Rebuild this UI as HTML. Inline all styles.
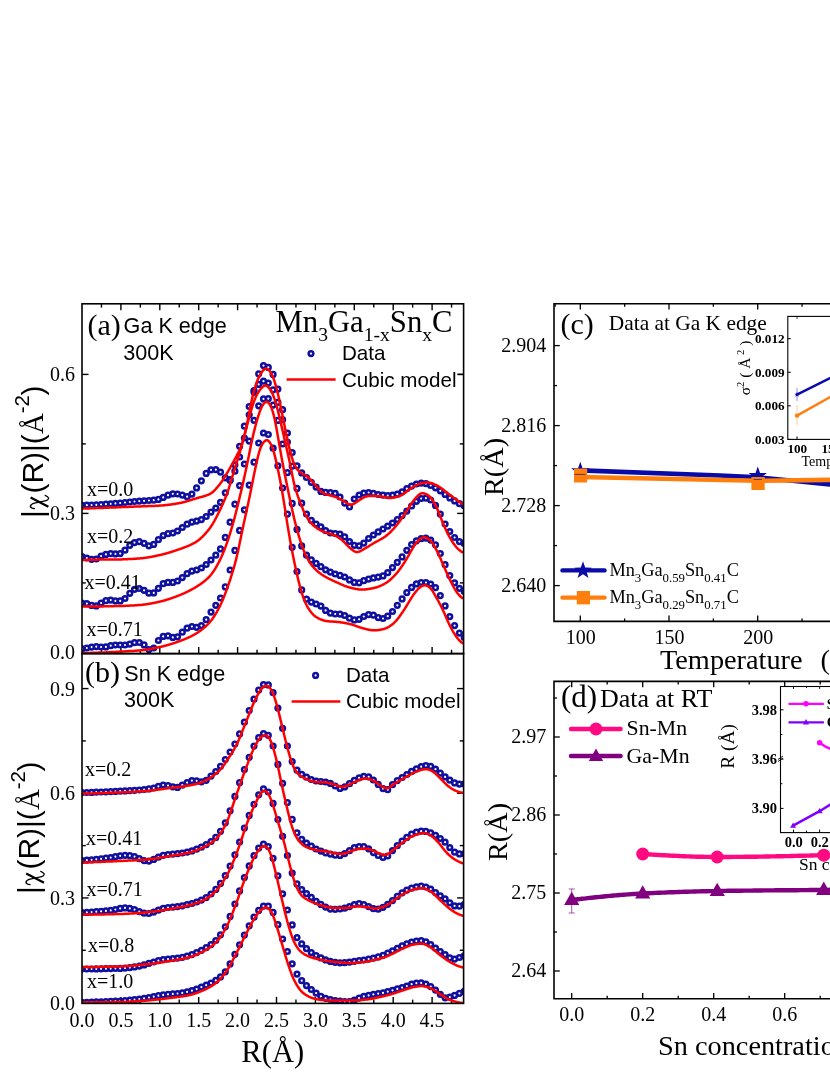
<!DOCTYPE html>
<html><head><meta charset="utf-8"><title>figure</title>
<style>html,body{margin:0;padding:0;background:#fff;}svg{display:block;will-change:transform;}text{fill:#000;}</style>
</head><body>
<svg width="830" height="1075" viewBox="0 0 830 1075">
<rect width="830" height="1075" fill="#fff"/>
<line x1="101.45" y1="303.80" x2="101.45" y2="307.60" stroke="#000" stroke-width="1.4" />
<line x1="101.45" y1="653.60" x2="101.45" y2="649.80" stroke="#000" stroke-width="1.4" />
<line x1="101.45" y1="1003.40" x2="101.45" y2="999.60" stroke="#000" stroke-width="1.4" />
<line x1="120.90" y1="303.80" x2="120.90" y2="310.30" stroke="#000" stroke-width="1.4" />
<line x1="120.90" y1="653.60" x2="120.90" y2="647.10" stroke="#000" stroke-width="1.4" />
<line x1="120.90" y1="1003.40" x2="120.90" y2="996.90" stroke="#000" stroke-width="1.4" />
<line x1="140.35" y1="303.80" x2="140.35" y2="307.60" stroke="#000" stroke-width="1.4" />
<line x1="140.35" y1="653.60" x2="140.35" y2="649.80" stroke="#000" stroke-width="1.4" />
<line x1="140.35" y1="1003.40" x2="140.35" y2="999.60" stroke="#000" stroke-width="1.4" />
<line x1="159.80" y1="303.80" x2="159.80" y2="310.30" stroke="#000" stroke-width="1.4" />
<line x1="159.80" y1="653.60" x2="159.80" y2="647.10" stroke="#000" stroke-width="1.4" />
<line x1="159.80" y1="1003.40" x2="159.80" y2="996.90" stroke="#000" stroke-width="1.4" />
<line x1="179.25" y1="303.80" x2="179.25" y2="307.60" stroke="#000" stroke-width="1.4" />
<line x1="179.25" y1="653.60" x2="179.25" y2="649.80" stroke="#000" stroke-width="1.4" />
<line x1="179.25" y1="1003.40" x2="179.25" y2="999.60" stroke="#000" stroke-width="1.4" />
<line x1="198.70" y1="303.80" x2="198.70" y2="310.30" stroke="#000" stroke-width="1.4" />
<line x1="198.70" y1="653.60" x2="198.70" y2="647.10" stroke="#000" stroke-width="1.4" />
<line x1="198.70" y1="1003.40" x2="198.70" y2="996.90" stroke="#000" stroke-width="1.4" />
<line x1="218.15" y1="303.80" x2="218.15" y2="307.60" stroke="#000" stroke-width="1.4" />
<line x1="218.15" y1="653.60" x2="218.15" y2="649.80" stroke="#000" stroke-width="1.4" />
<line x1="218.15" y1="1003.40" x2="218.15" y2="999.60" stroke="#000" stroke-width="1.4" />
<line x1="237.60" y1="303.80" x2="237.60" y2="310.30" stroke="#000" stroke-width="1.4" />
<line x1="237.60" y1="653.60" x2="237.60" y2="647.10" stroke="#000" stroke-width="1.4" />
<line x1="237.60" y1="1003.40" x2="237.60" y2="996.90" stroke="#000" stroke-width="1.4" />
<line x1="257.05" y1="303.80" x2="257.05" y2="307.60" stroke="#000" stroke-width="1.4" />
<line x1="257.05" y1="653.60" x2="257.05" y2="649.80" stroke="#000" stroke-width="1.4" />
<line x1="257.05" y1="1003.40" x2="257.05" y2="999.60" stroke="#000" stroke-width="1.4" />
<line x1="276.50" y1="303.80" x2="276.50" y2="310.30" stroke="#000" stroke-width="1.4" />
<line x1="276.50" y1="653.60" x2="276.50" y2="647.10" stroke="#000" stroke-width="1.4" />
<line x1="276.50" y1="1003.40" x2="276.50" y2="996.90" stroke="#000" stroke-width="1.4" />
<line x1="295.95" y1="303.80" x2="295.95" y2="307.60" stroke="#000" stroke-width="1.4" />
<line x1="295.95" y1="653.60" x2="295.95" y2="649.80" stroke="#000" stroke-width="1.4" />
<line x1="295.95" y1="1003.40" x2="295.95" y2="999.60" stroke="#000" stroke-width="1.4" />
<line x1="315.40" y1="303.80" x2="315.40" y2="310.30" stroke="#000" stroke-width="1.4" />
<line x1="315.40" y1="653.60" x2="315.40" y2="647.10" stroke="#000" stroke-width="1.4" />
<line x1="315.40" y1="1003.40" x2="315.40" y2="996.90" stroke="#000" stroke-width="1.4" />
<line x1="334.85" y1="303.80" x2="334.85" y2="307.60" stroke="#000" stroke-width="1.4" />
<line x1="334.85" y1="653.60" x2="334.85" y2="649.80" stroke="#000" stroke-width="1.4" />
<line x1="334.85" y1="1003.40" x2="334.85" y2="999.60" stroke="#000" stroke-width="1.4" />
<line x1="354.30" y1="303.80" x2="354.30" y2="310.30" stroke="#000" stroke-width="1.4" />
<line x1="354.30" y1="653.60" x2="354.30" y2="647.10" stroke="#000" stroke-width="1.4" />
<line x1="354.30" y1="1003.40" x2="354.30" y2="996.90" stroke="#000" stroke-width="1.4" />
<line x1="373.75" y1="303.80" x2="373.75" y2="307.60" stroke="#000" stroke-width="1.4" />
<line x1="373.75" y1="653.60" x2="373.75" y2="649.80" stroke="#000" stroke-width="1.4" />
<line x1="373.75" y1="1003.40" x2="373.75" y2="999.60" stroke="#000" stroke-width="1.4" />
<line x1="393.20" y1="303.80" x2="393.20" y2="310.30" stroke="#000" stroke-width="1.4" />
<line x1="393.20" y1="653.60" x2="393.20" y2="647.10" stroke="#000" stroke-width="1.4" />
<line x1="393.20" y1="1003.40" x2="393.20" y2="996.90" stroke="#000" stroke-width="1.4" />
<line x1="412.65" y1="303.80" x2="412.65" y2="307.60" stroke="#000" stroke-width="1.4" />
<line x1="412.65" y1="653.60" x2="412.65" y2="649.80" stroke="#000" stroke-width="1.4" />
<line x1="412.65" y1="1003.40" x2="412.65" y2="999.60" stroke="#000" stroke-width="1.4" />
<line x1="432.10" y1="303.80" x2="432.10" y2="310.30" stroke="#000" stroke-width="1.4" />
<line x1="432.10" y1="653.60" x2="432.10" y2="647.10" stroke="#000" stroke-width="1.4" />
<line x1="432.10" y1="1003.40" x2="432.10" y2="996.90" stroke="#000" stroke-width="1.4" />
<line x1="451.55" y1="303.80" x2="451.55" y2="307.60" stroke="#000" stroke-width="1.4" />
<line x1="451.55" y1="653.60" x2="451.55" y2="649.80" stroke="#000" stroke-width="1.4" />
<line x1="451.55" y1="1003.40" x2="451.55" y2="999.60" stroke="#000" stroke-width="1.4" />
<line x1="82.00" y1="582.90" x2="85.80" y2="582.90" stroke="#000" stroke-width="1.4" />
<line x1="463.60" y1="582.90" x2="459.80" y2="582.90" stroke="#000" stroke-width="1.4" />
<line x1="82.00" y1="513.41" x2="88.50" y2="513.41" stroke="#000" stroke-width="1.4" />
<line x1="463.60" y1="513.41" x2="457.10" y2="513.41" stroke="#000" stroke-width="1.4" />
<line x1="82.00" y1="443.91" x2="85.80" y2="443.91" stroke="#000" stroke-width="1.4" />
<line x1="463.60" y1="443.91" x2="459.80" y2="443.91" stroke="#000" stroke-width="1.4" />
<line x1="82.00" y1="374.42" x2="88.50" y2="374.42" stroke="#000" stroke-width="1.4" />
<line x1="463.60" y1="374.42" x2="457.10" y2="374.42" stroke="#000" stroke-width="1.4" />
<line x1="82.00" y1="950.26" x2="85.80" y2="950.26" stroke="#000" stroke-width="1.4" />
<line x1="463.60" y1="950.26" x2="459.80" y2="950.26" stroke="#000" stroke-width="1.4" />
<line x1="82.00" y1="897.93" x2="88.50" y2="897.93" stroke="#000" stroke-width="1.4" />
<line x1="463.60" y1="897.93" x2="457.10" y2="897.93" stroke="#000" stroke-width="1.4" />
<line x1="82.00" y1="845.60" x2="85.80" y2="845.60" stroke="#000" stroke-width="1.4" />
<line x1="463.60" y1="845.60" x2="459.80" y2="845.60" stroke="#000" stroke-width="1.4" />
<line x1="82.00" y1="793.26" x2="88.50" y2="793.26" stroke="#000" stroke-width="1.4" />
<line x1="463.60" y1="793.26" x2="457.10" y2="793.26" stroke="#000" stroke-width="1.4" />
<line x1="82.00" y1="740.93" x2="85.80" y2="740.93" stroke="#000" stroke-width="1.4" />
<line x1="463.60" y1="740.93" x2="459.80" y2="740.93" stroke="#000" stroke-width="1.4" />
<line x1="82.00" y1="688.59" x2="88.50" y2="688.59" stroke="#000" stroke-width="1.4" />
<line x1="463.60" y1="688.59" x2="457.10" y2="688.59" stroke="#000" stroke-width="1.4" />
<clipPath id="ca"><rect x="82.0" y="303.8" width="381.6" height="349.8"/></clipPath>
<g clip-path="url(#ca)">
<g fill="none" stroke="#1010a0" stroke-width="2.5"><circle cx="82.0" cy="505.4" r="2.35"/><circle cx="86.8" cy="505.2" r="2.35"/><circle cx="91.6" cy="505.0" r="2.35"/><circle cx="96.3" cy="504.8" r="2.35"/><circle cx="101.1" cy="504.5" r="2.35"/><circle cx="105.9" cy="504.2" r="2.35"/><circle cx="110.7" cy="503.8" r="2.35"/><circle cx="115.4" cy="503.4" r="2.35"/><circle cx="120.2" cy="503.0" r="2.35"/><circle cx="125.0" cy="502.5" r="2.35"/><circle cx="129.8" cy="502.0" r="2.35"/><circle cx="134.5" cy="501.5" r="2.35"/><circle cx="139.3" cy="501.1" r="2.35"/><circle cx="144.1" cy="500.8" r="2.35"/><circle cx="148.9" cy="500.5" r="2.35"/><circle cx="153.7" cy="500.2" r="2.35"/><circle cx="158.4" cy="499.4" r="2.35"/><circle cx="163.2" cy="497.4" r="2.35"/><circle cx="168.0" cy="495.2" r="2.35"/><circle cx="172.8" cy="493.8" r="2.35"/><circle cx="177.5" cy="494.0" r="2.35"/><circle cx="182.3" cy="495.1" r="2.35"/><circle cx="187.1" cy="496.7" r="2.35"/><circle cx="191.9" cy="494.1" r="2.35"/><circle cx="196.6" cy="487.9" r="2.35"/><circle cx="201.4" cy="480.8" r="2.35"/><circle cx="206.2" cy="473.4" r="2.35"/><circle cx="211.0" cy="469.8" r="2.35"/><circle cx="215.8" cy="469.7" r="2.35"/><circle cx="220.5" cy="472.1" r="2.35"/><circle cx="225.3" cy="477.8" r="2.35"/><circle cx="230.1" cy="479.7" r="2.35"/><circle cx="234.9" cy="471.2" r="2.35"/><circle cx="239.6" cy="457.0" r="2.35"/><circle cx="244.4" cy="438.0" r="2.35"/><circle cx="249.2" cy="414.8" r="2.35"/><circle cx="254.0" cy="390.5" r="2.35"/><circle cx="258.7" cy="373.8" r="2.35"/><circle cx="263.5" cy="365.6" r="2.35"/><circle cx="268.3" cy="367.4" r="2.35"/><circle cx="273.1" cy="374.4" r="2.35"/><circle cx="277.9" cy="389.1" r="2.35"/><circle cx="282.6" cy="409.7" r="2.35"/><circle cx="287.4" cy="433.0" r="2.35"/><circle cx="292.2" cy="452.5" r="2.35"/><circle cx="297.0" cy="465.8" r="2.35"/><circle cx="301.7" cy="472.9" r="2.35"/><circle cx="306.5" cy="477.5" r="2.35"/><circle cx="311.3" cy="482.3" r="2.35"/><circle cx="316.1" cy="487.1" r="2.35"/><circle cx="320.9" cy="491.4" r="2.35"/><circle cx="325.6" cy="492.4" r="2.35"/><circle cx="330.4" cy="492.6" r="2.35"/><circle cx="335.2" cy="493.4" r="2.35"/><circle cx="340.0" cy="497.0" r="2.35"/><circle cx="344.7" cy="503.1" r="2.35"/><circle cx="349.5" cy="506.9" r="2.35"/><circle cx="354.3" cy="499.0" r="2.35"/><circle cx="359.1" cy="495.0" r="2.35"/><circle cx="363.8" cy="493.1" r="2.35"/><circle cx="368.6" cy="492.5" r="2.35"/><circle cx="373.4" cy="493.4" r="2.35"/><circle cx="378.2" cy="494.5" r="2.35"/><circle cx="383.0" cy="495.2" r="2.35"/><circle cx="387.7" cy="495.6" r="2.35"/><circle cx="392.5" cy="495.2" r="2.35"/><circle cx="397.3" cy="494.2" r="2.35"/><circle cx="402.1" cy="491.8" r="2.35"/><circle cx="406.8" cy="488.7" r="2.35"/><circle cx="411.6" cy="486.1" r="2.35"/><circle cx="416.4" cy="484.0" r="2.35"/><circle cx="421.2" cy="483.2" r="2.35"/><circle cx="425.9" cy="483.6" r="2.35"/><circle cx="430.7" cy="485.5" r="2.35"/><circle cx="435.5" cy="487.8" r="2.35"/><circle cx="440.3" cy="490.8" r="2.35"/><circle cx="445.1" cy="494.4" r="2.35"/><circle cx="449.8" cy="497.9" r="2.35"/><circle cx="454.6" cy="500.9" r="2.35"/><circle cx="459.4" cy="503.7" r="2.35"/><circle cx="464.2" cy="505.7" r="2.35"/><circle cx="82.0" cy="556.7" r="2.35"/><circle cx="86.8" cy="558.0" r="2.35"/><circle cx="91.6" cy="559.3" r="2.35"/><circle cx="96.3" cy="559.0" r="2.35"/><circle cx="101.1" cy="556.1" r="2.35"/><circle cx="105.9" cy="554.4" r="2.35"/><circle cx="110.7" cy="553.7" r="2.35"/><circle cx="115.4" cy="553.9" r="2.35"/><circle cx="120.2" cy="553.6" r="2.35"/><circle cx="125.0" cy="550.2" r="2.35"/><circle cx="129.8" cy="545.3" r="2.35"/><circle cx="134.5" cy="542.6" r="2.35"/><circle cx="139.3" cy="541.7" r="2.35"/><circle cx="144.1" cy="543.3" r="2.35"/><circle cx="148.9" cy="545.8" r="2.35"/><circle cx="153.7" cy="544.4" r="2.35"/><circle cx="158.4" cy="539.7" r="2.35"/><circle cx="163.2" cy="535.6" r="2.35"/><circle cx="168.0" cy="533.7" r="2.35"/><circle cx="172.8" cy="533.0" r="2.35"/><circle cx="177.5" cy="531.0" r="2.35"/><circle cx="182.3" cy="527.5" r="2.35"/><circle cx="187.1" cy="524.2" r="2.35"/><circle cx="191.9" cy="522.1" r="2.35"/><circle cx="196.6" cy="521.1" r="2.35"/><circle cx="201.4" cy="519.6" r="2.35"/><circle cx="206.2" cy="516.5" r="2.35"/><circle cx="211.0" cy="512.1" r="2.35"/><circle cx="215.8" cy="508.1" r="2.35"/><circle cx="220.5" cy="502.3" r="2.35"/><circle cx="225.3" cy="492.8" r="2.35"/><circle cx="230.1" cy="480.5" r="2.35"/><circle cx="234.9" cy="464.8" r="2.35"/><circle cx="239.6" cy="446.3" r="2.35"/><circle cx="244.4" cy="426.2" r="2.35"/><circle cx="249.2" cy="406.5" r="2.35"/><circle cx="254.0" cy="392.3" r="2.35"/><circle cx="258.7" cy="384.4" r="2.35"/><circle cx="263.5" cy="381.2" r="2.35"/><circle cx="268.3" cy="383.1" r="2.35"/><circle cx="273.1" cy="389.8" r="2.35"/><circle cx="277.9" cy="402.4" r="2.35"/><circle cx="282.6" cy="419.7" r="2.35"/><circle cx="287.4" cy="442.0" r="2.35"/><circle cx="292.2" cy="466.2" r="2.35"/><circle cx="297.0" cy="488.4" r="2.35"/><circle cx="301.7" cy="503.2" r="2.35"/><circle cx="306.5" cy="514.0" r="2.35"/><circle cx="311.3" cy="520.3" r="2.35"/><circle cx="316.1" cy="524.0" r="2.35"/><circle cx="320.9" cy="526.9" r="2.35"/><circle cx="325.6" cy="530.6" r="2.35"/><circle cx="330.4" cy="533.0" r="2.35"/><circle cx="335.2" cy="533.5" r="2.35"/><circle cx="340.0" cy="534.1" r="2.35"/><circle cx="344.7" cy="536.9" r="2.35"/><circle cx="349.5" cy="541.5" r="2.35"/><circle cx="354.3" cy="545.3" r="2.35"/><circle cx="359.1" cy="545.8" r="2.35"/><circle cx="363.8" cy="543.1" r="2.35"/><circle cx="368.6" cy="538.5" r="2.35"/><circle cx="373.4" cy="535.0" r="2.35"/><circle cx="378.2" cy="531.9" r="2.35"/><circle cx="383.0" cy="529.0" r="2.35"/><circle cx="387.7" cy="526.2" r="2.35"/><circle cx="392.5" cy="523.0" r="2.35"/><circle cx="397.3" cy="519.5" r="2.35"/><circle cx="402.1" cy="515.6" r="2.35"/><circle cx="406.8" cy="511.1" r="2.35"/><circle cx="411.6" cy="506.0" r="2.35"/><circle cx="416.4" cy="501.3" r="2.35"/><circle cx="421.2" cy="498.5" r="2.35"/><circle cx="425.9" cy="498.2" r="2.35"/><circle cx="430.7" cy="500.0" r="2.35"/><circle cx="435.5" cy="505.4" r="2.35"/><circle cx="440.3" cy="514.1" r="2.35"/><circle cx="445.1" cy="524.0" r="2.35"/><circle cx="449.8" cy="531.5" r="2.35"/><circle cx="454.6" cy="537.5" r="2.35"/><circle cx="459.4" cy="541.6" r="2.35"/><circle cx="464.2" cy="543.4" r="2.35"/><circle cx="82.0" cy="603.0" r="2.35"/><circle cx="86.8" cy="603.6" r="2.35"/><circle cx="91.6" cy="605.4" r="2.35"/><circle cx="96.3" cy="605.9" r="2.35"/><circle cx="101.1" cy="603.0" r="2.35"/><circle cx="105.9" cy="600.7" r="2.35"/><circle cx="110.7" cy="600.1" r="2.35"/><circle cx="115.4" cy="600.9" r="2.35"/><circle cx="120.2" cy="600.9" r="2.35"/><circle cx="125.0" cy="598.5" r="2.35"/><circle cx="129.8" cy="593.3" r="2.35"/><circle cx="134.5" cy="589.3" r="2.35"/><circle cx="139.3" cy="588.5" r="2.35"/><circle cx="144.1" cy="590.3" r="2.35"/><circle cx="148.9" cy="593.2" r="2.35"/><circle cx="153.7" cy="592.9" r="2.35"/><circle cx="158.4" cy="588.3" r="2.35"/><circle cx="163.2" cy="583.7" r="2.35"/><circle cx="168.0" cy="582.4" r="2.35"/><circle cx="172.8" cy="582.4" r="2.35"/><circle cx="177.5" cy="581.0" r="2.35"/><circle cx="182.3" cy="577.6" r="2.35"/><circle cx="187.1" cy="573.7" r="2.35"/><circle cx="191.9" cy="571.1" r="2.35"/><circle cx="196.6" cy="570.0" r="2.35"/><circle cx="201.4" cy="568.0" r="2.35"/><circle cx="206.2" cy="564.5" r="2.35"/><circle cx="211.0" cy="560.0" r="2.35"/><circle cx="215.8" cy="555.2" r="2.35"/><circle cx="220.5" cy="548.9" r="2.35"/><circle cx="225.3" cy="537.4" r="2.35"/><circle cx="230.1" cy="522.2" r="2.35"/><circle cx="234.9" cy="504.2" r="2.35"/><circle cx="239.6" cy="485.6" r="2.35"/><circle cx="244.4" cy="464.0" r="2.35"/><circle cx="249.2" cy="441.1" r="2.35"/><circle cx="254.0" cy="420.3" r="2.35"/><circle cx="258.7" cy="405.8" r="2.35"/><circle cx="263.5" cy="398.9" r="2.35"/><circle cx="268.3" cy="398.7" r="2.35"/><circle cx="273.1" cy="405.1" r="2.35"/><circle cx="277.9" cy="420.4" r="2.35"/><circle cx="282.6" cy="444.0" r="2.35"/><circle cx="287.4" cy="472.7" r="2.35"/><circle cx="292.2" cy="503.4" r="2.35"/><circle cx="297.0" cy="529.4" r="2.35"/><circle cx="301.7" cy="545.9" r="2.35"/><circle cx="306.5" cy="555.2" r="2.35"/><circle cx="311.3" cy="559.9" r="2.35"/><circle cx="316.1" cy="563.4" r="2.35"/><circle cx="320.9" cy="566.7" r="2.35"/><circle cx="325.6" cy="569.8" r="2.35"/><circle cx="330.4" cy="572.1" r="2.35"/><circle cx="335.2" cy="574.0" r="2.35"/><circle cx="340.0" cy="575.4" r="2.35"/><circle cx="344.7" cy="577.0" r="2.35"/><circle cx="349.5" cy="579.9" r="2.35"/><circle cx="354.3" cy="582.4" r="2.35"/><circle cx="359.1" cy="582.8" r="2.35"/><circle cx="363.8" cy="580.7" r="2.35"/><circle cx="368.6" cy="579.1" r="2.35"/><circle cx="373.4" cy="577.9" r="2.35"/><circle cx="378.2" cy="577.1" r="2.35"/><circle cx="383.0" cy="575.9" r="2.35"/><circle cx="387.7" cy="572.7" r="2.35"/><circle cx="392.5" cy="567.6" r="2.35"/><circle cx="397.3" cy="562.3" r="2.35"/><circle cx="402.1" cy="556.9" r="2.35"/><circle cx="406.8" cy="550.3" r="2.35"/><circle cx="411.6" cy="544.5" r="2.35"/><circle cx="416.4" cy="540.8" r="2.35"/><circle cx="421.2" cy="538.7" r="2.35"/><circle cx="425.9" cy="538.2" r="2.35"/><circle cx="430.7" cy="540.1" r="2.35"/><circle cx="435.5" cy="544.8" r="2.35"/><circle cx="440.3" cy="553.5" r="2.35"/><circle cx="445.1" cy="564.7" r="2.35"/><circle cx="449.8" cy="575.5" r="2.35"/><circle cx="454.6" cy="582.8" r="2.35"/><circle cx="459.4" cy="588.3" r="2.35"/><circle cx="464.2" cy="591.6" r="2.35"/><circle cx="82.0" cy="648.9" r="2.35"/><circle cx="86.8" cy="648.0" r="2.35"/><circle cx="91.6" cy="647.1" r="2.35"/><circle cx="96.3" cy="646.7" r="2.35"/><circle cx="101.1" cy="647.0" r="2.35"/><circle cx="105.9" cy="646.9" r="2.35"/><circle cx="110.7" cy="645.7" r="2.35"/><circle cx="115.4" cy="645.0" r="2.35"/><circle cx="120.2" cy="645.0" r="2.35"/><circle cx="125.0" cy="645.0" r="2.35"/><circle cx="129.8" cy="644.1" r="2.35"/><circle cx="134.5" cy="642.7" r="2.35"/><circle cx="139.3" cy="642.5" r="2.35"/><circle cx="144.1" cy="644.9" r="2.35"/><circle cx="148.9" cy="649.6" r="2.35"/><circle cx="153.7" cy="648.0" r="2.35"/><circle cx="158.4" cy="640.5" r="2.35"/><circle cx="163.2" cy="636.4" r="2.35"/><circle cx="168.0" cy="635.8" r="2.35"/><circle cx="172.8" cy="637.4" r="2.35"/><circle cx="177.5" cy="636.8" r="2.35"/><circle cx="182.3" cy="632.2" r="2.35"/><circle cx="187.1" cy="628.2" r="2.35"/><circle cx="191.9" cy="626.5" r="2.35"/><circle cx="196.6" cy="627.3" r="2.35"/><circle cx="201.4" cy="625.6" r="2.35"/><circle cx="206.2" cy="619.7" r="2.35"/><circle cx="211.0" cy="612.1" r="2.35"/><circle cx="215.8" cy="605.3" r="2.35"/><circle cx="220.5" cy="598.0" r="2.35"/><circle cx="225.3" cy="586.9" r="2.35"/><circle cx="230.1" cy="570.0" r="2.35"/><circle cx="234.9" cy="550.4" r="2.35"/><circle cx="239.6" cy="530.4" r="2.35"/><circle cx="244.4" cy="509.8" r="2.35"/><circle cx="249.2" cy="485.1" r="2.35"/><circle cx="254.0" cy="462.2" r="2.35"/><circle cx="258.7" cy="443.0" r="2.35"/><circle cx="263.5" cy="433.0" r="2.35"/><circle cx="268.3" cy="434.5" r="2.35"/><circle cx="273.1" cy="448.2" r="2.35"/><circle cx="277.9" cy="465.8" r="2.35"/><circle cx="282.6" cy="488.0" r="2.35"/><circle cx="287.4" cy="514.1" r="2.35"/><circle cx="292.2" cy="547.3" r="2.35"/><circle cx="297.0" cy="571.5" r="2.35"/><circle cx="301.7" cy="589.9" r="2.35"/><circle cx="306.5" cy="599.2" r="2.35"/><circle cx="311.3" cy="602.1" r="2.35"/><circle cx="316.1" cy="604.0" r="2.35"/><circle cx="320.9" cy="606.1" r="2.35"/><circle cx="325.6" cy="610.4" r="2.35"/><circle cx="330.4" cy="613.1" r="2.35"/><circle cx="335.2" cy="614.0" r="2.35"/><circle cx="340.0" cy="614.1" r="2.35"/><circle cx="344.7" cy="615.5" r="2.35"/><circle cx="349.5" cy="618.2" r="2.35"/><circle cx="354.3" cy="619.9" r="2.35"/><circle cx="359.1" cy="619.3" r="2.35"/><circle cx="363.8" cy="616.5" r="2.35"/><circle cx="368.6" cy="614.6" r="2.35"/><circle cx="373.4" cy="615.2" r="2.35"/><circle cx="378.2" cy="617.6" r="2.35"/><circle cx="383.0" cy="618.5" r="2.35"/><circle cx="387.7" cy="616.2" r="2.35"/><circle cx="392.5" cy="611.5" r="2.35"/><circle cx="397.3" cy="605.3" r="2.35"/><circle cx="402.1" cy="598.9" r="2.35"/><circle cx="406.8" cy="592.6" r="2.35"/><circle cx="411.6" cy="587.4" r="2.35"/><circle cx="416.4" cy="583.9" r="2.35"/><circle cx="421.2" cy="582.5" r="2.35"/><circle cx="425.9" cy="582.5" r="2.35"/><circle cx="430.7" cy="584.0" r="2.35"/><circle cx="435.5" cy="587.7" r="2.35"/><circle cx="440.3" cy="595.6" r="2.35"/><circle cx="445.1" cy="605.9" r="2.35"/><circle cx="449.8" cy="616.6" r="2.35"/><circle cx="454.6" cy="625.6" r="2.35"/><circle cx="459.4" cy="633.1" r="2.35"/><circle cx="464.2" cy="637.5" r="2.35"/></g>
<path d="M82.0,508.6 L82.5,508.6 L83.0,508.6 L83.5,508.5 L84.0,508.5 L84.5,508.5 L85.0,508.5 L85.5,508.5 L86.0,508.5 L86.5,508.5 L87.0,508.4 L87.5,508.4 L88.0,508.4 L88.5,508.4 L89.0,508.4 L89.5,508.4 L90.0,508.3 L90.5,508.3 L91.0,508.3 L91.5,508.3 L92.0,508.3 L92.5,508.3 L93.0,508.2 L93.5,508.2 L94.0,508.2 L94.5,508.2 L95.0,508.2 L95.5,508.2 L96.0,508.1 L96.5,508.1 L97.0,508.1 L97.5,508.1 L98.0,508.1 L98.5,508.1 L99.0,508.0 L99.5,508.0 L100.0,508.0 L100.5,508.0 L101.0,508.0 L101.5,507.9 L102.0,507.9 L102.5,507.9 L103.0,507.9 L103.5,507.9 L104.0,507.8 L104.5,507.8 L105.0,507.8 L105.5,507.8 L106.0,507.8 L106.5,507.8 L107.0,507.7 L107.5,507.7 L108.0,507.7 L108.5,507.7 L109.0,507.6 L109.5,507.6 L110.0,507.6 L110.5,507.6 L111.0,507.6 L111.5,507.5 L112.0,507.5 L112.5,507.5 L113.0,507.5 L113.5,507.5 L114.0,507.4 L114.5,507.4 L115.0,507.4 L115.5,507.4 L116.0,507.4 L116.5,507.3 L117.0,507.3 L117.5,507.3 L118.0,507.3 L118.5,507.3 L119.0,507.2 L119.5,507.2 L120.0,507.2 L120.5,507.2 L121.0,507.2 L121.5,507.1 L122.0,507.1 L122.5,507.1 L123.0,507.1 L123.5,507.1 L124.0,507.0 L124.5,507.0 L125.0,507.0 L125.5,507.0 L126.0,507.0 L126.5,506.9 L127.0,506.9 L127.5,506.9 L128.0,506.9 L128.5,506.9 L129.0,506.8 L129.5,506.8 L130.0,506.8 L130.5,506.8 L131.0,506.8 L131.5,506.7 L132.0,506.7 L132.5,506.7 L133.0,506.7 L133.5,506.7 L134.0,506.6 L134.5,506.6 L135.0,506.6 L135.5,506.6 L136.0,506.6 L136.5,506.5 L137.0,506.5 L137.5,506.5 L138.0,506.5 L138.5,506.5 L139.0,506.4 L139.5,506.4 L140.0,506.4 L140.5,506.4 L141.0,506.4 L141.5,506.3 L142.0,506.3 L142.5,506.3 L143.0,506.3 L143.5,506.3 L144.0,506.3 L144.5,506.2 L145.0,506.2 L145.5,506.2 L146.0,506.2 L146.5,506.2 L147.0,506.2 L147.5,506.1 L148.0,506.1 L148.5,506.1 L149.0,506.1 L149.5,506.1 L150.0,506.1 L150.5,506.0 L151.0,506.0 L151.5,506.0 L152.0,506.0 L152.5,506.0 L153.0,505.9 L153.5,505.9 L154.0,505.9 L154.5,505.9 L155.0,505.9 L155.5,505.8 L156.0,505.8 L156.5,505.8 L157.0,505.8 L157.5,505.7 L158.0,505.7 L158.5,505.7 L159.0,505.7 L159.5,505.6 L160.0,505.6 L160.5,505.6 L161.0,505.5 L161.5,505.5 L162.0,505.5 L162.5,505.4 L163.0,505.4 L163.5,505.3 L164.0,505.3 L164.5,505.2 L165.0,505.2 L165.5,505.1 L166.0,505.1 L166.5,505.0 L167.0,505.0 L167.5,504.9 L168.0,504.8 L168.5,504.8 L169.0,504.7 L169.5,504.7 L170.0,504.6 L170.5,504.5 L171.0,504.5 L171.5,504.4 L172.0,504.3 L172.5,504.2 L173.0,504.2 L173.5,504.1 L174.0,504.0 L174.5,503.9 L175.0,503.9 L175.5,503.8 L176.0,503.7 L176.5,503.6 L177.0,503.5 L177.5,503.4 L178.0,503.3 L178.5,503.3 L179.0,503.2 L179.5,503.1 L180.0,503.0 L180.5,502.9 L181.0,502.8 L181.5,502.7 L182.0,502.6 L182.5,502.4 L183.0,502.3 L183.5,502.2 L184.0,502.1 L184.5,501.9 L185.0,501.8 L185.5,501.7 L186.0,501.5 L186.5,501.4 L187.0,501.2 L187.5,501.1 L188.0,500.9 L188.5,500.8 L189.0,500.6 L189.5,500.5 L190.0,500.3 L190.5,500.1 L191.0,500.0 L191.5,499.8 L192.0,499.7 L192.5,499.5 L193.0,499.3 L193.5,499.2 L194.0,499.0 L194.5,498.9 L195.0,498.7 L195.5,498.6 L196.0,498.4 L196.5,498.3 L197.0,498.1 L197.5,498.0 L198.0,497.8 L198.5,497.7 L199.0,497.6 L199.5,497.4 L200.0,497.3 L200.5,497.2 L201.0,497.1 L201.5,496.9 L202.0,496.8 L202.5,496.7 L203.0,496.5 L203.5,496.4 L204.0,496.2 L204.5,496.1 L205.0,495.9 L205.5,495.8 L206.0,495.6 L206.5,495.4 L207.0,495.2 L207.5,495.0 L208.0,494.8 L208.5,494.6 L209.0,494.4 L209.5,494.1 L210.0,493.9 L210.5,493.6 L211.0,493.3 L211.5,492.9 L212.0,492.6 L212.5,492.2 L213.0,491.8 L213.5,491.3 L214.0,490.8 L214.5,490.3 L215.0,489.8 L215.5,489.3 L216.0,488.7 L216.5,488.2 L217.0,487.6 L217.5,487.0 L218.0,486.4 L218.5,485.8 L219.0,485.2 L219.5,484.6 L220.0,483.9 L220.5,483.3 L221.0,482.6 L221.5,481.9 L222.0,481.2 L222.5,480.5 L223.0,479.7 L223.5,478.9 L224.0,478.2 L224.5,477.4 L225.0,476.5 L225.5,475.7 L226.0,474.9 L226.5,474.0 L227.0,473.2 L227.5,472.3 L228.0,471.5 L228.5,470.6 L229.0,469.7 L229.5,468.9 L230.0,468.0 L230.5,467.1 L231.0,466.2 L231.5,465.3 L232.0,464.4 L232.5,463.5 L233.0,462.6 L233.5,461.7 L234.0,460.8 L234.5,459.8 L235.0,458.9 L235.5,458.0 L236.0,457.0 L236.5,456.1 L237.0,455.1 L237.5,454.2 L238.0,453.2 L238.5,452.2 L239.0,451.2 L239.5,450.1 L240.0,449.0 L240.5,447.8 L241.0,446.5 L241.5,445.2 L242.0,443.7 L242.5,442.2 L243.0,440.5 L243.5,438.8 L244.0,437.0 L244.5,435.1 L245.0,433.1 L245.5,431.1 L246.0,428.9 L246.5,426.7 L247.0,424.3 L247.5,421.8 L248.0,419.3 L248.5,416.7 L249.0,414.0 L249.5,411.4 L250.0,408.7 L250.5,406.2 L251.0,403.7 L251.5,401.3 L252.0,399.1 L252.5,396.9 L253.0,394.8 L253.5,392.9 L254.0,391.0 L254.5,389.2 L255.0,387.5 L255.5,385.9 L256.0,384.4 L256.5,383.0 L257.0,381.6 L257.5,380.3 L258.0,379.1 L258.5,378.0 L259.0,376.9 L259.5,375.9 L260.0,375.0 L260.5,374.1 L261.0,373.3 L261.5,372.5 L262.0,371.8 L262.5,371.1 L263.0,370.5 L263.5,370.0 L264.0,369.5 L264.5,369.2 L265.0,368.9 L265.5,368.7 L266.0,368.6 L266.5,368.7 L267.0,368.8 L267.5,369.0 L268.0,369.4 L268.5,369.8 L269.0,370.3 L269.5,370.8 L270.0,371.5 L270.5,372.2 L271.0,373.0 L271.5,373.9 L272.0,374.9 L272.5,376.0 L273.0,377.2 L273.5,378.5 L274.0,379.9 L274.5,381.4 L275.0,383.0 L275.5,384.7 L276.0,386.4 L276.5,388.3 L277.0,390.2 L277.5,392.2 L278.0,394.3 L278.5,396.5 L279.0,398.7 L279.5,401.0 L280.0,403.4 L280.5,405.7 L281.0,408.1 L281.5,410.6 L282.0,413.0 L282.5,415.5 L283.0,418.0 L283.5,420.5 L284.0,423.0 L284.5,425.5 L285.0,428.0 L285.5,430.4 L286.0,432.8 L286.5,435.2 L287.0,437.6 L287.5,439.9 L288.0,442.2 L288.5,444.4 L289.0,446.5 L289.5,448.6 L290.0,450.6 L290.5,452.5 L291.0,454.4 L291.5,456.1 L292.0,457.8 L292.5,459.4 L293.0,460.8 L293.5,462.2 L294.0,463.4 L294.5,464.5 L295.0,465.6 L295.5,466.5 L296.0,467.4 L296.5,468.2 L297.0,468.9 L297.5,469.6 L298.0,470.2 L298.5,470.7 L299.0,471.3 L299.5,471.7 L300.0,472.1 L300.5,472.5 L301.0,472.9 L301.5,473.2 L302.0,473.5 L302.5,473.8 L303.0,474.1 L303.5,474.4 L304.0,474.6 L304.5,474.9 L305.0,475.2 L305.5,475.5 L306.0,475.8 L306.5,476.1 L307.0,476.4 L307.5,476.8 L308.0,477.2 L308.5,477.6 L309.0,478.1 L309.5,478.5 L310.0,479.1 L310.5,479.6 L311.0,480.1 L311.5,480.7 L312.0,481.3 L312.5,481.9 L313.0,482.5 L313.5,483.1 L314.0,483.7 L314.5,484.3 L315.0,484.8 L315.5,485.4 L316.0,486.0 L316.5,486.5 L317.0,487.1 L317.5,487.6 L318.0,488.2 L318.5,488.7 L319.0,489.3 L319.5,489.8 L320.0,490.3 L320.5,490.8 L321.0,491.3 L321.5,491.7 L322.0,492.1 L322.5,492.5 L323.0,492.8 L323.5,493.2 L324.0,493.4 L324.5,493.7 L325.0,493.9 L325.5,494.1 L326.0,494.3 L326.5,494.4 L327.0,494.6 L327.5,494.7 L328.0,494.9 L328.5,495.0 L329.0,495.1 L329.5,495.2 L330.0,495.3 L330.5,495.5 L331.0,495.6 L331.5,495.7 L332.0,495.8 L332.5,496.0 L333.0,496.1 L333.5,496.3 L334.0,496.5 L334.5,496.6 L335.0,496.8 L335.5,497.0 L336.0,497.2 L336.5,497.4 L337.0,497.6 L337.5,497.8 L338.0,498.1 L338.5,498.3 L339.0,498.5 L339.5,498.8 L340.0,499.0 L340.5,499.3 L341.0,499.5 L341.5,499.8 L342.0,500.1 L342.5,500.4 L343.0,500.7 L343.5,501.0 L344.0,501.3 L344.5,501.6 L345.0,502.0 L345.5,502.3 L346.0,502.7 L346.5,503.0 L347.0,503.3 L347.5,503.6 L348.0,503.9 L348.5,504.1 L349.0,504.3 L349.5,504.5 L350.0,504.6 L350.5,504.7 L351.0,504.7 L351.5,504.6 L352.0,504.5 L352.5,504.4 L353.0,504.2 L353.5,504.0 L354.0,503.7 L354.5,503.4 L355.0,503.0 L355.5,502.7 L356.0,502.4 L356.5,502.0 L357.0,501.7 L357.5,501.4 L358.0,501.0 L358.5,500.7 L359.0,500.4 L359.5,500.1 L360.0,499.8 L360.5,499.5 L361.0,499.1 L361.5,498.8 L362.0,498.5 L362.5,498.2 L363.0,497.9 L363.5,497.6 L364.0,497.3 L364.5,497.1 L365.0,496.9 L365.5,496.7 L366.0,496.5 L366.5,496.4 L367.0,496.3 L367.5,496.2 L368.0,496.1 L368.5,496.1 L369.0,496.0 L369.5,496.0 L370.0,496.0 L370.5,496.0 L371.0,496.0 L371.5,496.0 L372.0,496.0 L372.5,496.0 L373.0,496.0 L373.5,496.0 L374.0,496.0 L374.5,496.0 L375.0,496.0 L375.5,496.0 L376.0,496.0 L376.5,496.0 L377.0,496.0 L377.5,496.0 L378.0,496.0 L378.5,496.1 L379.0,496.1 L379.5,496.2 L380.0,496.2 L380.5,496.3 L381.0,496.4 L381.5,496.5 L382.0,496.6 L382.5,496.7 L383.0,496.8 L383.5,496.9 L384.0,497.0 L384.5,497.1 L385.0,497.2 L385.5,497.3 L386.0,497.4 L386.5,497.5 L387.0,497.6 L387.5,497.7 L388.0,497.8 L388.5,497.8 L389.0,497.9 L389.5,497.9 L390.0,497.9 L390.5,497.9 L391.0,497.9 L391.5,497.9 L392.0,497.8 L392.5,497.8 L393.0,497.7 L393.5,497.6 L394.0,497.5 L394.5,497.5 L395.0,497.3 L395.5,497.2 L396.0,497.1 L396.5,497.0 L397.0,496.9 L397.5,496.7 L398.0,496.6 L398.5,496.4 L399.0,496.3 L399.5,496.1 L400.0,495.9 L400.5,495.7 L401.0,495.5 L401.5,495.2 L402.0,494.9 L402.5,494.6 L403.0,494.3 L403.5,494.0 L404.0,493.6 L404.5,493.2 L405.0,492.8 L405.5,492.4 L406.0,492.0 L406.5,491.6 L407.0,491.2 L407.5,490.9 L408.0,490.5 L408.5,490.1 L409.0,489.7 L409.5,489.4 L410.0,489.0 L410.5,488.7 L411.0,488.4 L411.5,488.1 L412.0,487.7 L412.5,487.4 L413.0,487.1 L413.5,486.8 L414.0,486.5 L414.5,486.2 L415.0,485.9 L415.5,485.6 L416.0,485.3 L416.5,485.1 L417.0,484.8 L417.5,484.6 L418.0,484.4 L418.5,484.2 L419.0,484.0 L419.5,483.8 L420.0,483.7 L420.5,483.5 L421.0,483.4 L421.5,483.3 L422.0,483.2 L422.5,483.1 L423.0,483.0 L423.5,482.9 L424.0,482.8 L424.5,482.7 L425.0,482.7 L425.5,482.6 L426.0,482.6 L426.5,482.5 L427.0,482.5 L427.5,482.5 L428.0,482.5 L428.5,482.5 L429.0,482.6 L429.5,482.7 L430.0,482.8 L430.5,482.9 L431.0,483.0 L431.5,483.2 L432.0,483.3 L432.5,483.5 L433.0,483.7 L433.5,483.9 L434.0,484.1 L434.5,484.3 L435.0,484.6 L435.5,484.8 L436.0,485.0 L436.5,485.3 L437.0,485.5 L437.5,485.8 L438.0,486.1 L438.5,486.4 L439.0,486.7 L439.5,487.0 L440.0,487.3 L440.5,487.7 L441.0,488.0 L441.5,488.4 L442.0,488.8 L442.5,489.1 L443.0,489.5 L443.5,489.9 L444.0,490.3 L444.5,490.7 L445.0,491.1 L445.5,491.5 L446.0,491.9 L446.5,492.3 L447.0,492.7 L447.5,493.1 L448.0,493.5 L448.5,493.8 L449.0,494.2 L449.5,494.6 L450.0,495.0 L450.5,495.4 L451.0,495.7 L451.5,496.1 L452.0,496.5 L452.5,496.8 L453.0,497.2 L453.5,497.5 L454.0,497.9 L454.5,498.3 L455.0,498.6 L455.5,499.0 L456.0,499.4 L456.5,499.7 L457.0,500.1 L457.5,500.5 L458.0,500.8 L458.5,501.2 L459.0,501.6 L459.5,502.0 L460.0,502.3 L460.5,502.7 L461.0,503.0 L461.5,503.4 L462.0,503.7 L462.5,504.0 L463.0,504.3 L463.5,504.5" fill="none" stroke="#ff0000" stroke-width="2.5" stroke-linejoin="round"/>
<path d="M82.0,560.0 L82.5,560.0 L83.0,560.0 L83.5,560.0 L84.0,559.9 L84.5,559.9 L85.0,559.9 L85.5,559.9 L86.0,559.9 L86.5,559.9 L87.0,559.9 L87.5,559.9 L88.0,559.8 L88.5,559.8 L89.0,559.8 L89.5,559.8 L90.0,559.8 L90.5,559.8 L91.0,559.8 L91.5,559.8 L92.0,559.7 L92.5,559.7 L93.0,559.7 L93.5,559.7 L94.0,559.7 L94.5,559.7 L95.0,559.7 L95.5,559.7 L96.0,559.7 L96.5,559.7 L97.0,559.6 L97.5,559.6 L98.0,559.6 L98.5,559.6 L99.0,559.6 L99.5,559.6 L100.0,559.6 L100.5,559.6 L101.0,559.6 L101.5,559.6 L102.0,559.6 L102.5,559.6 L103.0,559.6 L103.5,559.6 L104.0,559.6 L104.5,559.6 L105.0,559.5 L105.5,559.5 L106.0,559.5 L106.5,559.5 L107.0,559.5 L107.5,559.5 L108.0,559.5 L108.5,559.5 L109.0,559.5 L109.5,559.5 L110.0,559.5 L110.5,559.5 L111.0,559.5 L111.5,559.5 L112.0,559.5 L112.5,559.5 L113.0,559.5 L113.5,559.5 L114.0,559.5 L114.5,559.5 L115.0,559.5 L115.5,559.5 L116.0,559.5 L116.5,559.4 L117.0,559.4 L117.5,559.4 L118.0,559.4 L118.5,559.4 L119.0,559.4 L119.5,559.4 L120.0,559.4 L120.5,559.4 L121.0,559.4 L121.5,559.4 L122.0,559.4 L122.5,559.3 L123.0,559.3 L123.5,559.3 L124.0,559.3 L124.5,559.3 L125.0,559.3 L125.5,559.2 L126.0,559.2 L126.5,559.2 L127.0,559.2 L127.5,559.2 L128.0,559.1 L128.5,559.1 L129.0,559.1 L129.5,559.1 L130.0,559.0 L130.5,559.0 L131.0,559.0 L131.5,559.0 L132.0,558.9 L132.5,558.9 L133.0,558.9 L133.5,558.8 L134.0,558.8 L134.5,558.8 L135.0,558.8 L135.5,558.7 L136.0,558.7 L136.5,558.7 L137.0,558.6 L137.5,558.6 L138.0,558.5 L138.5,558.5 L139.0,558.5 L139.5,558.4 L140.0,558.4 L140.5,558.3 L141.0,558.3 L141.5,558.3 L142.0,558.2 L142.5,558.2 L143.0,558.1 L143.5,558.0 L144.0,558.0 L144.5,557.9 L145.0,557.8 L145.5,557.8 L146.0,557.7 L146.5,557.6 L147.0,557.5 L147.5,557.5 L148.0,557.4 L148.5,557.3 L149.0,557.2 L149.5,557.1 L150.0,557.0 L150.5,556.9 L151.0,556.9 L151.5,556.8 L152.0,556.7 L152.5,556.6 L153.0,556.5 L153.5,556.4 L154.0,556.3 L154.5,556.2 L155.0,556.1 L155.5,556.0 L156.0,555.9 L156.5,555.8 L157.0,555.6 L157.5,555.5 L158.0,555.4 L158.5,555.3 L159.0,555.2 L159.5,555.1 L160.0,555.0 L160.5,554.9 L161.0,554.8 L161.5,554.7 L162.0,554.5 L162.5,554.4 L163.0,554.3 L163.5,554.2 L164.0,554.0 L164.5,553.9 L165.0,553.8 L165.5,553.6 L166.0,553.5 L166.5,553.4 L167.0,553.2 L167.5,553.1 L168.0,552.9 L168.5,552.8 L169.0,552.6 L169.5,552.5 L170.0,552.3 L170.5,552.2 L171.0,552.0 L171.5,551.9 L172.0,551.7 L172.5,551.6 L173.0,551.4 L173.5,551.2 L174.0,551.1 L174.5,550.9 L175.0,550.7 L175.5,550.6 L176.0,550.4 L176.5,550.2 L177.0,550.1 L177.5,549.9 L178.0,549.7 L178.5,549.5 L179.0,549.4 L179.5,549.2 L180.0,549.0 L180.5,548.8 L181.0,548.6 L181.5,548.5 L182.0,548.3 L182.5,548.1 L183.0,547.9 L183.5,547.7 L184.0,547.6 L184.5,547.4 L185.0,547.2 L185.5,547.0 L186.0,546.8 L186.5,546.6 L187.0,546.4 L187.5,546.2 L188.0,546.0 L188.5,545.8 L189.0,545.6 L189.5,545.3 L190.0,545.1 L190.5,544.9 L191.0,544.7 L191.5,544.4 L192.0,544.2 L192.5,543.9 L193.0,543.7 L193.5,543.4 L194.0,543.1 L194.5,542.8 L195.0,542.6 L195.5,542.2 L196.0,541.9 L196.5,541.6 L197.0,541.3 L197.5,540.9 L198.0,540.6 L198.5,540.2 L199.0,539.8 L199.5,539.4 L200.0,539.0 L200.5,538.5 L201.0,538.1 L201.5,537.6 L202.0,537.1 L202.5,536.7 L203.0,536.1 L203.5,535.6 L204.0,535.1 L204.5,534.6 L205.0,534.0 L205.5,533.5 L206.0,532.9 L206.5,532.3 L207.0,531.7 L207.5,531.1 L208.0,530.5 L208.5,529.9 L209.0,529.2 L209.5,528.6 L210.0,527.9 L210.5,527.2 L211.0,526.5 L211.5,525.7 L212.0,525.0 L212.5,524.2 L213.0,523.4 L213.5,522.5 L214.0,521.6 L214.5,520.8 L215.0,519.8 L215.5,518.9 L216.0,518.0 L216.5,517.0 L217.0,516.0 L217.5,515.0 L218.0,514.0 L218.5,513.0 L219.0,512.0 L219.5,511.0 L220.0,510.0 L220.5,508.9 L221.0,507.8 L221.5,506.8 L222.0,505.7 L222.5,504.6 L223.0,503.4 L223.5,502.3 L224.0,501.1 L224.5,499.9 L225.0,498.7 L225.5,497.5 L226.0,496.2 L226.5,494.9 L227.0,493.5 L227.5,492.2 L228.0,490.7 L228.5,489.3 L229.0,487.7 L229.5,486.2 L230.0,484.6 L230.5,482.9 L231.0,481.2 L231.5,479.6 L232.0,477.9 L232.5,476.2 L233.0,474.5 L233.5,472.8 L234.0,471.2 L234.5,469.5 L235.0,467.9 L235.5,466.3 L236.0,464.8 L236.5,463.2 L237.0,461.6 L237.5,460.0 L238.0,458.4 L238.5,456.8 L239.0,455.2 L239.5,453.5 L240.0,451.8 L240.5,450.0 L241.0,448.2 L241.5,446.4 L242.0,444.6 L242.5,442.7 L243.0,440.8 L243.5,438.9 L244.0,437.0 L244.5,435.1 L245.0,433.2 L245.5,431.2 L246.0,429.3 L246.5,427.4 L247.0,425.5 L247.5,423.6 L248.0,421.8 L248.5,419.9 L249.0,418.0 L249.5,416.2 L250.0,414.4 L250.5,412.6 L251.0,410.8 L251.5,409.1 L252.0,407.4 L252.5,405.8 L253.0,404.3 L253.5,402.8 L254.0,401.4 L254.5,400.1 L255.0,398.9 L255.5,397.7 L256.0,396.6 L256.5,395.5 L257.0,394.6 L257.5,393.6 L258.0,392.8 L258.5,392.0 L259.0,391.2 L259.5,390.5 L260.0,389.8 L260.5,389.2 L261.0,388.6 L261.5,388.0 L262.0,387.5 L262.5,387.0 L263.0,386.6 L263.5,386.2 L264.0,385.9 L264.5,385.7 L265.0,385.6 L265.5,385.6 L266.0,385.6 L266.5,385.8 L267.0,386.1 L267.5,386.5 L268.0,386.9 L268.5,387.4 L269.0,388.0 L269.5,388.6 L270.0,389.3 L270.5,390.1 L271.0,390.9 L271.5,391.8 L272.0,392.8 L272.5,393.8 L273.0,395.0 L273.5,396.2 L274.0,397.5 L274.5,398.9 L275.0,400.5 L275.5,402.1 L276.0,403.8 L276.5,405.5 L277.0,407.4 L277.5,409.3 L278.0,411.2 L278.5,413.2 L279.0,415.2 L279.5,417.3 L280.0,419.4 L280.5,421.5 L281.0,423.7 L281.5,425.9 L282.0,428.1 L282.5,430.3 L283.0,432.5 L283.5,434.8 L284.0,437.0 L284.5,439.2 L285.0,441.4 L285.5,443.6 L286.0,445.8 L286.5,448.0 L287.0,450.1 L287.5,452.3 L288.0,454.5 L288.5,456.7 L289.0,458.9 L289.5,461.2 L290.0,463.6 L290.5,466.1 L291.0,468.6 L291.5,471.1 L292.0,473.7 L292.5,476.2 L293.0,478.6 L293.5,480.9 L294.0,483.1 L294.5,485.1 L295.0,487.1 L295.5,488.9 L296.0,490.5 L296.5,492.1 L297.0,493.7 L297.5,495.1 L298.0,496.6 L298.5,497.9 L299.0,499.3 L299.5,500.6 L300.0,502.0 L300.5,503.3 L301.0,504.6 L301.5,505.8 L302.0,507.1 L302.5,508.3 L303.0,509.5 L303.5,510.7 L304.0,511.8 L304.5,512.9 L305.0,513.9 L305.5,514.8 L306.0,515.7 L306.5,516.6 L307.0,517.4 L307.5,518.2 L308.0,519.0 L308.5,519.7 L309.0,520.4 L309.5,521.1 L310.0,521.7 L310.5,522.3 L311.0,522.9 L311.5,523.5 L312.0,524.0 L312.5,524.5 L313.0,525.0 L313.5,525.5 L314.0,525.9 L314.5,526.3 L315.0,526.7 L315.5,527.1 L316.0,527.5 L316.5,527.8 L317.0,528.2 L317.5,528.5 L318.0,528.9 L318.5,529.2 L319.0,529.5 L319.5,529.8 L320.0,530.0 L320.5,530.3 L321.0,530.6 L321.5,530.8 L322.0,531.1 L322.5,531.3 L323.0,531.5 L323.5,531.7 L324.0,531.9 L324.5,532.1 L325.0,532.3 L325.5,532.5 L326.0,532.6 L326.5,532.8 L327.0,532.9 L327.5,533.1 L328.0,533.2 L328.5,533.4 L329.0,533.5 L329.5,533.6 L330.0,533.8 L330.5,533.9 L331.0,534.0 L331.5,534.2 L332.0,534.3 L332.5,534.5 L333.0,534.7 L333.5,534.9 L334.0,535.1 L334.5,535.3 L335.0,535.5 L335.5,535.8 L336.0,536.0 L336.5,536.3 L337.0,536.6 L337.5,536.9 L338.0,537.2 L338.5,537.5 L339.0,537.9 L339.5,538.2 L340.0,538.6 L340.5,538.9 L341.0,539.3 L341.5,539.7 L342.0,540.1 L342.5,540.5 L343.0,541.0 L343.5,541.4 L344.0,541.9 L344.5,542.4 L345.0,542.9 L345.5,543.5 L346.0,544.0 L346.5,544.5 L347.0,545.1 L347.5,545.6 L348.0,546.1 L348.5,546.6 L349.0,547.0 L349.5,547.5 L350.0,547.9 L350.5,548.4 L351.0,548.8 L351.5,549.2 L352.0,549.6 L352.5,550.0 L353.0,550.4 L353.5,550.7 L354.0,551.1 L354.5,551.3 L355.0,551.6 L355.5,551.8 L356.0,551.9 L356.5,552.0 L357.0,552.1 L357.5,552.1 L358.0,552.0 L358.5,551.9 L359.0,551.7 L359.5,551.5 L360.0,551.3 L360.5,551.1 L361.0,550.8 L361.5,550.5 L362.0,550.2 L362.5,549.9 L363.0,549.6 L363.5,549.3 L364.0,549.0 L364.5,548.7 L365.0,548.4 L365.5,548.2 L366.0,547.9 L366.5,547.6 L367.0,547.3 L367.5,547.0 L368.0,546.7 L368.5,546.4 L369.0,546.1 L369.5,545.8 L370.0,545.5 L370.5,545.1 L371.0,544.8 L371.5,544.5 L372.0,544.2 L372.5,543.9 L373.0,543.6 L373.5,543.3 L374.0,543.0 L374.5,542.7 L375.0,542.4 L375.5,542.2 L376.0,541.9 L376.5,541.6 L377.0,541.3 L377.5,541.1 L378.0,540.8 L378.5,540.5 L379.0,540.3 L379.5,540.0 L380.0,539.7 L380.5,539.4 L381.0,539.2 L381.5,538.9 L382.0,538.6 L382.5,538.3 L383.0,538.0 L383.5,537.7 L384.0,537.3 L384.5,537.0 L385.0,536.7 L385.5,536.3 L386.0,535.9 L386.5,535.5 L387.0,535.1 L387.5,534.7 L388.0,534.3 L388.5,533.9 L389.0,533.4 L389.5,532.9 L390.0,532.5 L390.5,532.0 L391.0,531.5 L391.5,531.0 L392.0,530.4 L392.5,529.9 L393.0,529.4 L393.5,528.8 L394.0,528.3 L394.5,527.7 L395.0,527.1 L395.5,526.5 L396.0,525.9 L396.5,525.3 L397.0,524.7 L397.5,524.1 L398.0,523.4 L398.5,522.8 L399.0,522.1 L399.5,521.4 L400.0,520.7 L400.5,520.0 L401.0,519.3 L401.5,518.6 L402.0,517.9 L402.5,517.1 L403.0,516.4 L403.5,515.7 L404.0,514.9 L404.5,514.2 L405.0,513.5 L405.5,512.7 L406.0,512.0 L406.5,511.2 L407.0,510.4 L407.5,509.6 L408.0,508.9 L408.5,508.1 L409.0,507.3 L409.5,506.5 L410.0,505.7 L410.5,504.9 L411.0,504.2 L411.5,503.4 L412.0,502.7 L412.5,502.0 L413.0,501.4 L413.5,500.7 L414.0,500.1 L414.5,499.5 L415.0,498.9 L415.5,498.3 L416.0,497.7 L416.5,497.1 L417.0,496.6 L417.5,496.1 L418.0,495.6 L418.5,495.1 L419.0,494.7 L419.5,494.3 L420.0,494.0 L420.5,493.7 L421.0,493.5 L421.5,493.4 L422.0,493.3 L422.5,493.3 L423.0,493.3 L423.5,493.3 L424.0,493.4 L424.5,493.6 L425.0,493.7 L425.5,493.9 L426.0,494.1 L426.5,494.3 L427.0,494.6 L427.5,494.9 L428.0,495.2 L428.5,495.6 L429.0,496.0 L429.5,496.4 L430.0,496.9 L430.5,497.5 L431.0,498.1 L431.5,498.7 L432.0,499.4 L432.5,500.2 L433.0,500.9 L433.5,501.7 L434.0,502.6 L434.5,503.4 L435.0,504.4 L435.5,505.3 L436.0,506.3 L436.5,507.3 L437.0,508.4 L437.5,509.5 L438.0,510.7 L438.5,512.0 L439.0,513.2 L439.5,514.5 L440.0,515.8 L440.5,517.1 L441.0,518.4 L441.5,519.6 L442.0,520.8 L442.5,522.1 L443.0,523.2 L443.5,524.4 L444.0,525.6 L444.5,526.7 L445.0,527.8 L445.5,528.9 L446.0,530.0 L446.5,531.1 L447.0,532.2 L447.5,533.2 L448.0,534.2 L448.5,535.1 L449.0,536.1 L449.5,537.0 L450.0,537.9 L450.5,538.7 L451.0,539.6 L451.5,540.4 L452.0,541.2 L452.5,541.9 L453.0,542.7 L453.5,543.4 L454.0,544.1 L454.5,544.8 L455.0,545.5 L455.5,546.1 L456.0,546.7 L456.5,547.3 L457.0,547.8 L457.5,548.4 L458.0,548.9 L458.5,549.3 L459.0,549.8 L459.5,550.2 L460.0,550.6 L460.5,551.0 L461.0,551.4 L461.5,551.7 L462.0,552.0 L462.5,552.2 L463.0,552.4 L463.5,552.6" fill="none" stroke="#ff0000" stroke-width="2.5" stroke-linejoin="round"/>
<path d="M82.0,606.6 L82.5,606.6 L83.0,606.6 L83.5,606.6 L84.0,606.6 L84.5,606.6 L85.0,606.6 L85.5,606.6 L86.0,606.6 L86.5,606.6 L87.0,606.6 L87.5,606.6 L88.0,606.5 L88.5,606.5 L89.0,606.5 L89.5,606.5 L90.0,606.5 L90.5,606.5 L91.0,606.5 L91.5,606.5 L92.0,606.5 L92.5,606.5 L93.0,606.5 L93.5,606.5 L94.0,606.5 L94.5,606.5 L95.0,606.5 L95.5,606.5 L96.0,606.5 L96.5,606.4 L97.0,606.4 L97.5,606.4 L98.0,606.4 L98.5,606.4 L99.0,606.4 L99.5,606.4 L100.0,606.4 L100.5,606.4 L101.0,606.4 L101.5,606.4 L102.0,606.4 L102.5,606.4 L103.0,606.4 L103.5,606.3 L104.0,606.3 L104.5,606.3 L105.0,606.3 L105.5,606.3 L106.0,606.3 L106.5,606.3 L107.0,606.3 L107.5,606.3 L108.0,606.3 L108.5,606.3 L109.0,606.3 L109.5,606.2 L110.0,606.2 L110.5,606.2 L111.0,606.2 L111.5,606.2 L112.0,606.2 L112.5,606.2 L113.0,606.2 L113.5,606.2 L114.0,606.2 L114.5,606.1 L115.0,606.1 L115.5,606.1 L116.0,606.1 L116.5,606.1 L117.0,606.1 L117.5,606.1 L118.0,606.1 L118.5,606.0 L119.0,606.0 L119.5,606.0 L120.0,606.0 L120.5,606.0 L121.0,606.0 L121.5,606.0 L122.0,605.9 L122.5,605.9 L123.0,605.9 L123.5,605.9 L124.0,605.9 L124.5,605.9 L125.0,605.8 L125.5,605.8 L126.0,605.8 L126.5,605.8 L127.0,605.8 L127.5,605.7 L128.0,605.7 L128.5,605.7 L129.0,605.7 L129.5,605.6 L130.0,605.6 L130.5,605.6 L131.0,605.6 L131.5,605.5 L132.0,605.5 L132.5,605.5 L133.0,605.5 L133.5,605.4 L134.0,605.4 L134.5,605.4 L135.0,605.3 L135.5,605.3 L136.0,605.3 L136.5,605.2 L137.0,605.2 L137.5,605.2 L138.0,605.1 L138.5,605.1 L139.0,605.1 L139.5,605.0 L140.0,605.0 L140.5,604.9 L141.0,604.9 L141.5,604.9 L142.0,604.8 L142.5,604.8 L143.0,604.7 L143.5,604.6 L144.0,604.6 L144.5,604.5 L145.0,604.4 L145.5,604.4 L146.0,604.3 L146.5,604.2 L147.0,604.2 L147.5,604.1 L148.0,604.0 L148.5,603.9 L149.0,603.8 L149.5,603.7 L150.0,603.7 L150.5,603.6 L151.0,603.5 L151.5,603.4 L152.0,603.3 L152.5,603.2 L153.0,603.1 L153.5,603.0 L154.0,602.9 L154.5,602.8 L155.0,602.7 L155.5,602.6 L156.0,602.5 L156.5,602.4 L157.0,602.3 L157.5,602.2 L158.0,602.0 L158.5,601.9 L159.0,601.8 L159.5,601.7 L160.0,601.6 L160.5,601.5 L161.0,601.4 L161.5,601.2 L162.0,601.1 L162.5,601.0 L163.0,600.9 L163.5,600.7 L164.0,600.6 L164.5,600.4 L165.0,600.3 L165.5,600.2 L166.0,600.0 L166.5,599.9 L167.0,599.7 L167.5,599.5 L168.0,599.4 L168.5,599.2 L169.0,599.1 L169.5,598.9 L170.0,598.7 L170.5,598.6 L171.0,598.4 L171.5,598.2 L172.0,598.0 L172.5,597.9 L173.0,597.7 L173.5,597.5 L174.0,597.3 L174.5,597.1 L175.0,596.9 L175.5,596.8 L176.0,596.6 L176.5,596.4 L177.0,596.2 L177.5,596.0 L178.0,595.8 L178.5,595.6 L179.0,595.4 L179.5,595.2 L180.0,595.0 L180.5,594.8 L181.0,594.6 L181.5,594.4 L182.0,594.2 L182.5,594.0 L183.0,593.7 L183.5,593.5 L184.0,593.3 L184.5,593.1 L185.0,592.8 L185.5,592.6 L186.0,592.4 L186.5,592.1 L187.0,591.9 L187.5,591.7 L188.0,591.4 L188.5,591.2 L189.0,590.9 L189.5,590.6 L190.0,590.4 L190.5,590.1 L191.0,589.9 L191.5,589.6 L192.0,589.3 L192.5,589.0 L193.0,588.8 L193.5,588.5 L194.0,588.2 L194.5,587.9 L195.0,587.6 L195.5,587.3 L196.0,587.0 L196.5,586.7 L197.0,586.4 L197.5,586.0 L198.0,585.7 L198.5,585.4 L199.0,585.1 L199.5,584.8 L200.0,584.4 L200.5,584.1 L201.0,583.7 L201.5,583.4 L202.0,583.0 L202.5,582.6 L203.0,582.3 L203.5,581.9 L204.0,581.5 L204.5,581.1 L205.0,580.7 L205.5,580.2 L206.0,579.8 L206.5,579.4 L207.0,578.9 L207.5,578.4 L208.0,578.0 L208.5,577.5 L209.0,577.0 L209.5,576.4 L210.0,575.9 L210.5,575.3 L211.0,574.7 L211.5,574.1 L212.0,573.4 L212.5,572.8 L213.0,572.1 L213.5,571.3 L214.0,570.6 L214.5,569.8 L215.0,569.0 L215.5,568.2 L216.0,567.3 L216.5,566.5 L217.0,565.6 L217.5,564.7 L218.0,563.8 L218.5,562.8 L219.0,561.9 L219.5,560.9 L220.0,559.9 L220.5,558.8 L221.0,557.8 L221.5,556.7 L222.0,555.6 L222.5,554.4 L223.0,553.2 L223.5,552.0 L224.0,550.8 L224.5,549.5 L225.0,548.2 L225.5,546.9 L226.0,545.5 L226.5,544.1 L227.0,542.7 L227.5,541.3 L228.0,539.8 L228.5,538.4 L229.0,536.8 L229.5,535.3 L230.0,533.7 L230.5,532.1 L231.0,530.4 L231.5,528.7 L232.0,527.0 L232.5,525.3 L233.0,523.5 L233.5,521.7 L234.0,519.9 L234.5,518.0 L235.0,516.1 L235.5,514.2 L236.0,512.3 L236.5,510.3 L237.0,508.3 L237.5,506.3 L238.0,504.3 L238.5,502.2 L239.0,500.1 L239.5,498.0 L240.0,495.9 L240.5,493.8 L241.0,491.7 L241.5,489.6 L242.0,487.4 L242.5,485.2 L243.0,483.1 L243.5,480.9 L244.0,478.6 L244.5,476.4 L245.0,474.1 L245.5,471.8 L246.0,469.5 L246.5,467.2 L247.0,464.8 L247.5,462.3 L248.0,459.9 L248.5,457.4 L249.0,454.9 L249.5,452.4 L250.0,449.9 L250.5,447.4 L251.0,445.0 L251.5,442.6 L252.0,440.3 L252.5,438.1 L253.0,435.9 L253.5,433.7 L254.0,431.6 L254.5,429.6 L255.0,427.6 L255.5,425.7 L256.0,423.8 L256.5,422.0 L257.0,420.3 L257.5,418.6 L258.0,416.9 L258.5,415.3 L259.0,413.8 L259.5,412.4 L260.0,411.0 L260.5,409.7 L261.0,408.5 L261.5,407.4 L262.0,406.4 L262.5,405.5 L263.0,404.7 L263.5,404.0 L264.0,403.3 L264.5,402.8 L265.0,402.3 L265.5,402.0 L266.0,401.8 L266.5,401.8 L267.0,401.9 L267.5,402.1 L268.0,402.4 L268.5,402.9 L269.0,403.4 L269.5,404.1 L270.0,404.9 L270.5,405.8 L271.0,406.8 L271.5,408.0 L272.0,409.3 L272.5,410.8 L273.0,412.5 L273.5,414.3 L274.0,416.3 L274.5,418.5 L275.0,420.8 L275.5,423.2 L276.0,425.8 L276.5,428.5 L277.0,431.2 L277.5,434.1 L278.0,437.0 L278.5,439.9 L279.0,442.8 L279.5,445.7 L280.0,448.6 L280.5,451.4 L281.0,454.3 L281.5,457.0 L282.0,459.7 L282.5,462.4 L283.0,465.1 L283.5,467.7 L284.0,470.2 L284.5,472.8 L285.0,475.3 L285.5,477.8 L286.0,480.2 L286.5,482.7 L287.0,485.1 L287.5,487.6 L288.0,490.0 L288.5,492.4 L289.0,494.8 L289.5,497.3 L290.0,499.6 L290.5,502.0 L291.0,504.4 L291.5,506.7 L292.0,509.0 L292.5,511.3 L293.0,513.5 L293.5,515.6 L294.0,517.8 L294.5,519.8 L295.0,521.9 L295.5,523.8 L296.0,525.8 L296.5,527.7 L297.0,529.5 L297.5,531.4 L298.0,533.1 L298.5,534.9 L299.0,536.6 L299.5,538.2 L300.0,539.8 L300.5,541.4 L301.0,542.9 L301.5,544.4 L302.0,545.8 L302.5,547.2 L303.0,548.6 L303.5,549.9 L304.0,551.2 L304.5,552.4 L305.0,553.6 L305.5,554.7 L306.0,555.7 L306.5,556.7 L307.0,557.7 L307.5,558.6 L308.0,559.5 L308.5,560.4 L309.0,561.2 L309.5,562.0 L310.0,562.7 L310.5,563.5 L311.0,564.2 L311.5,564.9 L312.0,565.5 L312.5,566.2 L313.0,566.8 L313.5,567.3 L314.0,567.9 L314.5,568.4 L315.0,568.9 L315.5,569.4 L316.0,569.9 L316.5,570.4 L317.0,570.8 L317.5,571.3 L318.0,571.7 L318.5,572.1 L319.0,572.5 L319.5,572.9 L320.0,573.3 L320.5,573.6 L321.0,574.0 L321.5,574.3 L322.0,574.7 L322.5,575.0 L323.0,575.3 L323.5,575.7 L324.0,576.0 L324.5,576.3 L325.0,576.6 L325.5,576.9 L326.0,577.1 L326.5,577.4 L327.0,577.7 L327.5,578.0 L328.0,578.2 L328.5,578.5 L329.0,578.7 L329.5,579.0 L330.0,579.2 L330.5,579.5 L331.0,579.7 L331.5,580.0 L332.0,580.2 L332.5,580.4 L333.0,580.7 L333.5,580.9 L334.0,581.1 L334.5,581.3 L335.0,581.6 L335.5,581.8 L336.0,582.0 L336.5,582.2 L337.0,582.5 L337.5,582.7 L338.0,582.9 L338.5,583.1 L339.0,583.4 L339.5,583.6 L340.0,583.8 L340.5,584.1 L341.0,584.3 L341.5,584.5 L342.0,584.7 L342.5,584.9 L343.0,585.2 L343.5,585.4 L344.0,585.6 L344.5,585.8 L345.0,586.0 L345.5,586.2 L346.0,586.3 L346.5,586.5 L347.0,586.7 L347.5,586.9 L348.0,587.0 L348.5,587.2 L349.0,587.3 L349.5,587.4 L350.0,587.6 L350.5,587.7 L351.0,587.8 L351.5,587.9 L352.0,588.1 L352.5,588.2 L353.0,588.3 L353.5,588.4 L354.0,588.5 L354.5,588.6 L355.0,588.7 L355.5,588.8 L356.0,588.9 L356.5,589.0 L357.0,589.1 L357.5,589.2 L358.0,589.3 L358.5,589.3 L359.0,589.4 L359.5,589.4 L360.0,589.5 L360.5,589.5 L361.0,589.5 L361.5,589.5 L362.0,589.6 L362.5,589.6 L363.0,589.5 L363.5,589.5 L364.0,589.5 L364.5,589.5 L365.0,589.4 L365.5,589.4 L366.0,589.3 L366.5,589.3 L367.0,589.2 L367.5,589.2 L368.0,589.1 L368.5,589.0 L369.0,588.9 L369.5,588.8 L370.0,588.8 L370.5,588.7 L371.0,588.6 L371.5,588.5 L372.0,588.4 L372.5,588.3 L373.0,588.2 L373.5,588.1 L374.0,588.0 L374.5,587.9 L375.0,587.7 L375.5,587.6 L376.0,587.5 L376.5,587.3 L377.0,587.2 L377.5,587.0 L378.0,586.8 L378.5,586.6 L379.0,586.4 L379.5,586.2 L380.0,586.0 L380.5,585.8 L381.0,585.6 L381.5,585.3 L382.0,585.1 L382.5,584.9 L383.0,584.6 L383.5,584.3 L384.0,584.1 L384.5,583.8 L385.0,583.5 L385.5,583.2 L386.0,582.9 L386.5,582.6 L387.0,582.3 L387.5,581.9 L388.0,581.6 L388.5,581.2 L389.0,580.8 L389.5,580.4 L390.0,580.0 L390.5,579.5 L391.0,579.1 L391.5,578.6 L392.0,578.1 L392.5,577.6 L393.0,577.1 L393.5,576.6 L394.0,576.1 L394.5,575.6 L395.0,575.0 L395.5,574.5 L396.0,573.9 L396.5,573.4 L397.0,572.8 L397.5,572.2 L398.0,571.6 L398.5,570.9 L399.0,570.3 L399.5,569.6 L400.0,568.9 L400.5,568.2 L401.0,567.5 L401.5,566.8 L402.0,566.1 L402.5,565.3 L403.0,564.6 L403.5,563.8 L404.0,563.1 L404.5,562.3 L405.0,561.5 L405.5,560.7 L406.0,559.9 L406.5,559.1 L407.0,558.2 L407.5,557.4 L408.0,556.5 L408.5,555.6 L409.0,554.7 L409.5,553.8 L410.0,552.9 L410.5,551.9 L411.0,551.0 L411.5,550.2 L412.0,549.3 L412.5,548.5 L413.0,547.7 L413.5,546.9 L414.0,546.1 L414.5,545.4 L415.0,544.7 L415.5,544.0 L416.0,543.4 L416.5,542.7 L417.0,542.1 L417.5,541.5 L418.0,541.0 L418.5,540.5 L419.0,540.0 L419.5,539.6 L420.0,539.2 L420.5,538.8 L421.0,538.4 L421.5,538.1 L422.0,537.9 L422.5,537.7 L423.0,537.5 L423.5,537.4 L424.0,537.3 L424.5,537.3 L425.0,537.4 L425.5,537.5 L426.0,537.7 L426.5,537.9 L427.0,538.1 L427.5,538.4 L428.0,538.7 L428.5,539.0 L429.0,539.4 L429.5,539.8 L430.0,540.2 L430.5,540.7 L431.0,541.3 L431.5,541.9 L432.0,542.5 L432.5,543.2 L433.0,543.9 L433.5,544.7 L434.0,545.6 L434.5,546.4 L435.0,547.3 L435.5,548.2 L436.0,549.1 L436.5,550.1 L437.0,551.1 L437.5,552.1 L438.0,553.1 L438.5,554.2 L439.0,555.3 L439.5,556.4 L440.0,557.5 L440.5,558.6 L441.0,559.7 L441.5,560.9 L442.0,562.0 L442.5,563.1 L443.0,564.3 L443.5,565.4 L444.0,566.6 L444.5,567.7 L445.0,568.9 L445.5,570.0 L446.0,571.2 L446.5,572.3 L447.0,573.5 L447.5,574.6 L448.0,575.7 L448.5,576.8 L449.0,577.8 L449.5,578.9 L450.0,579.9 L450.5,580.9 L451.0,581.9 L451.5,582.9 L452.0,583.9 L452.5,584.9 L453.0,585.8 L453.5,586.8 L454.0,587.7 L454.5,588.6 L455.0,589.4 L455.5,590.2 L456.0,591.0 L456.5,591.8 L457.0,592.5 L457.5,593.2 L458.0,593.8 L458.5,594.4 L459.0,595.0 L459.5,595.5 L460.0,596.0 L460.5,596.5 L461.0,597.0 L461.5,597.4 L462.0,597.7 L462.5,598.0 L463.0,598.3 L463.5,598.5" fill="none" stroke="#ff0000" stroke-width="2.5" stroke-linejoin="round"/>
<path d="M82.0,653.0 L82.5,653.0 L83.0,653.0 L83.5,653.0 L84.0,653.0 L84.5,653.0 L85.0,653.0 L85.5,653.0 L86.0,652.9 L86.5,652.9 L87.0,652.9 L87.5,652.9 L88.0,652.9 L88.5,652.9 L89.0,652.9 L89.5,652.9 L90.0,652.9 L90.5,652.9 L91.0,652.8 L91.5,652.8 L92.0,652.8 L92.5,652.8 L93.0,652.8 L93.5,652.8 L94.0,652.8 L94.5,652.8 L95.0,652.7 L95.5,652.7 L96.0,652.7 L96.5,652.7 L97.0,652.7 L97.5,652.7 L98.0,652.7 L98.5,652.6 L99.0,652.6 L99.5,652.6 L100.0,652.6 L100.5,652.6 L101.0,652.6 L101.5,652.5 L102.0,652.5 L102.5,652.5 L103.0,652.5 L103.5,652.5 L104.0,652.4 L104.5,652.4 L105.0,652.4 L105.5,652.4 L106.0,652.4 L106.5,652.3 L107.0,652.3 L107.5,652.3 L108.0,652.3 L108.5,652.2 L109.0,652.2 L109.5,652.2 L110.0,652.2 L110.5,652.1 L111.0,652.1 L111.5,652.1 L112.0,652.0 L112.5,652.0 L113.0,652.0 L113.5,652.0 L114.0,651.9 L114.5,651.9 L115.0,651.9 L115.5,651.9 L116.0,651.8 L116.5,651.8 L117.0,651.8 L117.5,651.7 L118.0,651.7 L118.5,651.7 L119.0,651.7 L119.5,651.6 L120.0,651.6 L120.5,651.6 L121.0,651.5 L121.5,651.5 L122.0,651.5 L122.5,651.5 L123.0,651.4 L123.5,651.4 L124.0,651.4 L124.5,651.4 L125.0,651.3 L125.5,651.3 L126.0,651.3 L126.5,651.3 L127.0,651.2 L127.5,651.2 L128.0,651.2 L128.5,651.2 L129.0,651.1 L129.5,651.1 L130.0,651.1 L130.5,651.1 L131.0,651.0 L131.5,651.0 L132.0,651.0 L132.5,650.9 L133.0,650.9 L133.5,650.9 L134.0,650.8 L134.5,650.8 L135.0,650.8 L135.5,650.7 L136.0,650.7 L136.5,650.7 L137.0,650.6 L137.5,650.6 L138.0,650.6 L138.5,650.5 L139.0,650.5 L139.5,650.4 L140.0,650.4 L140.5,650.3 L141.0,650.3 L141.5,650.2 L142.0,650.2 L142.5,650.1 L143.0,650.1 L143.5,650.0 L144.0,649.9 L144.5,649.9 L145.0,649.8 L145.5,649.7 L146.0,649.7 L146.5,649.6 L147.0,649.5 L147.5,649.4 L148.0,649.4 L148.5,649.3 L149.0,649.2 L149.5,649.1 L150.0,649.0 L150.5,648.9 L151.0,648.8 L151.5,648.7 L152.0,648.6 L152.5,648.5 L153.0,648.5 L153.5,648.4 L154.0,648.3 L154.5,648.2 L155.0,648.1 L155.5,648.0 L156.0,647.8 L156.5,647.7 L157.0,647.6 L157.5,647.5 L158.0,647.4 L158.5,647.3 L159.0,647.2 L159.5,647.1 L160.0,647.0 L160.5,646.9 L161.0,646.8 L161.5,646.7 L162.0,646.5 L162.5,646.4 L163.0,646.3 L163.5,646.2 L164.0,646.0 L164.5,645.9 L165.0,645.8 L165.5,645.7 L166.0,645.5 L166.5,645.4 L167.0,645.2 L167.5,645.1 L168.0,645.0 L168.5,644.8 L169.0,644.7 L169.5,644.5 L170.0,644.4 L170.5,644.2 L171.0,644.1 L171.5,643.9 L172.0,643.7 L172.5,643.6 L173.0,643.4 L173.5,643.3 L174.0,643.1 L174.5,642.9 L175.0,642.8 L175.5,642.6 L176.0,642.4 L176.5,642.2 L177.0,642.1 L177.5,641.9 L178.0,641.7 L178.5,641.5 L179.0,641.4 L179.5,641.2 L180.0,641.0 L180.5,640.8 L181.0,640.6 L181.5,640.4 L182.0,640.2 L182.5,640.0 L183.0,639.9 L183.5,639.7 L184.0,639.5 L184.5,639.2 L185.0,639.0 L185.5,638.8 L186.0,638.6 L186.5,638.4 L187.0,638.2 L187.5,638.0 L188.0,637.7 L188.5,637.5 L189.0,637.3 L189.5,637.0 L190.0,636.8 L190.5,636.6 L191.0,636.3 L191.5,636.1 L192.0,635.8 L192.5,635.5 L193.0,635.3 L193.5,635.0 L194.0,634.7 L194.5,634.4 L195.0,634.2 L195.5,633.9 L196.0,633.6 L196.5,633.3 L197.0,633.0 L197.5,632.6 L198.0,632.3 L198.5,632.0 L199.0,631.6 L199.5,631.3 L200.0,630.9 L200.5,630.6 L201.0,630.2 L201.5,629.8 L202.0,629.5 L202.5,629.1 L203.0,628.7 L203.5,628.2 L204.0,627.8 L204.5,627.4 L205.0,626.9 L205.5,626.5 L206.0,626.0 L206.5,625.6 L207.0,625.1 L207.5,624.6 L208.0,624.1 L208.5,623.5 L209.0,623.0 L209.5,622.5 L210.0,621.9 L210.5,621.3 L211.0,620.7 L211.5,620.1 L212.0,619.4 L212.5,618.7 L213.0,618.0 L213.5,617.3 L214.0,616.5 L214.5,615.8 L215.0,615.0 L215.5,614.1 L216.0,613.3 L216.5,612.4 L217.0,611.6 L217.5,610.7 L218.0,609.7 L218.5,608.8 L219.0,607.8 L219.5,606.9 L220.0,605.9 L220.5,604.8 L221.0,603.8 L221.5,602.7 L222.0,601.5 L222.5,600.4 L223.0,599.2 L223.5,598.0 L224.0,596.7 L224.5,595.4 L225.0,594.1 L225.5,592.8 L226.0,591.5 L226.5,590.1 L227.0,588.7 L227.5,587.3 L228.0,585.9 L228.5,584.5 L229.0,583.0 L229.5,581.6 L230.0,580.1 L230.5,578.6 L231.0,577.0 L231.5,575.5 L232.0,573.9 L232.5,572.2 L233.0,570.6 L233.5,568.9 L234.0,567.1 L234.5,565.3 L235.0,563.5 L235.5,561.6 L236.0,559.6 L236.5,557.6 L237.0,555.5 L237.5,553.3 L238.0,551.1 L238.5,548.8 L239.0,546.4 L239.5,544.0 L240.0,541.6 L240.5,539.2 L241.0,536.8 L241.5,534.3 L242.0,531.9 L242.5,529.5 L243.0,527.2 L243.5,524.8 L244.0,522.5 L244.5,520.2 L245.0,517.9 L245.5,515.6 L246.0,513.4 L246.5,511.1 L247.0,508.8 L247.5,506.5 L248.0,504.2 L248.5,501.9 L249.0,499.6 L249.5,497.2 L250.0,494.8 L250.5,492.3 L251.0,489.8 L251.5,487.3 L252.0,484.8 L252.5,482.3 L253.0,479.7 L253.5,477.2 L254.0,474.7 L254.5,472.3 L255.0,469.9 L255.5,467.5 L256.0,465.2 L256.5,462.9 L257.0,460.7 L257.5,458.6 L258.0,456.5 L258.5,454.5 L259.0,452.7 L259.5,451.0 L260.0,449.4 L260.5,448.0 L261.0,446.8 L261.5,445.7 L262.0,444.8 L262.5,443.9 L263.0,443.1 L263.5,442.4 L264.0,441.8 L264.5,441.3 L265.0,440.9 L265.5,440.6 L266.0,440.3 L266.5,440.2 L267.0,440.2 L267.5,440.3 L268.0,440.6 L268.5,441.0 L269.0,441.4 L269.5,442.1 L270.0,442.8 L270.5,443.6 L271.0,444.5 L271.5,445.6 L272.0,446.7 L272.5,448.0 L273.0,449.4 L273.5,451.0 L274.0,452.7 L274.5,454.6 L275.0,456.6 L275.5,458.6 L276.0,460.7 L276.5,462.9 L277.0,465.2 L277.5,467.5 L278.0,469.8 L278.5,472.2 L279.0,474.7 L279.5,477.2 L280.0,479.7 L280.5,482.4 L281.0,485.0 L281.5,487.8 L282.0,490.6 L282.5,493.5 L283.0,496.5 L283.5,499.5 L284.0,502.6 L284.5,505.7 L285.0,508.9 L285.5,512.1 L286.0,515.3 L286.5,518.6 L287.0,521.7 L287.5,524.9 L288.0,527.9 L288.5,531.0 L289.0,533.9 L289.5,536.8 L290.0,539.7 L290.5,542.4 L291.0,545.2 L291.5,547.8 L292.0,550.5 L292.5,553.0 L293.0,555.6 L293.5,558.1 L294.0,560.5 L294.5,562.9 L295.0,565.2 L295.5,567.6 L296.0,569.9 L296.5,572.1 L297.0,574.3 L297.5,576.5 L298.0,578.7 L298.5,580.8 L299.0,582.8 L299.5,584.8 L300.0,586.7 L300.5,588.5 L301.0,590.3 L301.5,592.0 L302.0,593.6 L302.5,595.1 L303.0,596.6 L303.5,598.0 L304.0,599.3 L304.5,600.5 L305.0,601.8 L305.5,602.9 L306.0,604.0 L306.5,605.0 L307.0,606.0 L307.5,606.9 L308.0,607.8 L308.5,608.6 L309.0,609.3 L309.5,610.1 L310.0,610.8 L310.5,611.5 L311.0,612.1 L311.5,612.7 L312.0,613.3 L312.5,613.8 L313.0,614.4 L313.5,614.9 L314.0,615.3 L314.5,615.8 L315.0,616.2 L315.5,616.5 L316.0,616.9 L316.5,617.2 L317.0,617.5 L317.5,617.8 L318.0,618.1 L318.5,618.4 L319.0,618.6 L319.5,618.9 L320.0,619.1 L320.5,619.3 L321.0,619.5 L321.5,619.7 L322.0,619.9 L322.5,620.1 L323.0,620.2 L323.5,620.4 L324.0,620.5 L324.5,620.6 L325.0,620.8 L325.5,620.9 L326.0,620.9 L326.5,621.0 L327.0,621.1 L327.5,621.2 L328.0,621.2 L328.5,621.3 L329.0,621.3 L329.5,621.4 L330.0,621.4 L330.5,621.4 L331.0,621.5 L331.5,621.5 L332.0,621.5 L332.5,621.6 L333.0,621.6 L333.5,621.6 L334.0,621.7 L334.5,621.7 L335.0,621.7 L335.5,621.8 L336.0,621.8 L336.5,621.9 L337.0,621.9 L337.5,622.0 L338.0,622.0 L338.5,622.1 L339.0,622.1 L339.5,622.2 L340.0,622.3 L340.5,622.3 L341.0,622.4 L341.5,622.5 L342.0,622.5 L342.5,622.6 L343.0,622.7 L343.5,622.8 L344.0,622.8 L344.5,622.9 L345.0,623.0 L345.5,623.1 L346.0,623.2 L346.5,623.3 L347.0,623.4 L347.5,623.5 L348.0,623.6 L348.5,623.7 L349.0,623.8 L349.5,623.9 L350.0,624.0 L350.5,624.2 L351.0,624.3 L351.5,624.4 L352.0,624.6 L352.5,624.7 L353.0,624.9 L353.5,625.1 L354.0,625.2 L354.5,625.4 L355.0,625.6 L355.5,625.8 L356.0,626.0 L356.5,626.1 L357.0,626.3 L357.5,626.5 L358.0,626.7 L358.5,626.9 L359.0,627.1 L359.5,627.2 L360.0,627.4 L360.5,627.5 L361.0,627.7 L361.5,627.8 L362.0,628.0 L362.5,628.1 L363.0,628.3 L363.5,628.4 L364.0,628.5 L364.5,628.7 L365.0,628.8 L365.5,628.9 L366.0,629.1 L366.5,629.2 L367.0,629.3 L367.5,629.4 L368.0,629.5 L368.5,629.7 L369.0,629.8 L369.5,629.9 L370.0,630.0 L370.5,630.0 L371.0,630.1 L371.5,630.2 L372.0,630.2 L372.5,630.3 L373.0,630.3 L373.5,630.3 L374.0,630.3 L374.5,630.3 L375.0,630.3 L375.5,630.3 L376.0,630.3 L376.5,630.2 L377.0,630.2 L377.5,630.2 L378.0,630.1 L378.5,630.0 L379.0,630.0 L379.5,629.9 L380.0,629.8 L380.5,629.7 L381.0,629.6 L381.5,629.5 L382.0,629.4 L382.5,629.3 L383.0,629.2 L383.5,629.1 L384.0,628.9 L384.5,628.8 L385.0,628.6 L385.5,628.4 L386.0,628.2 L386.5,628.0 L387.0,627.8 L387.5,627.5 L388.0,627.3 L388.5,627.0 L389.0,626.7 L389.5,626.3 L390.0,626.0 L390.5,625.7 L391.0,625.3 L391.5,624.9 L392.0,624.6 L392.5,624.2 L393.0,623.8 L393.5,623.3 L394.0,622.9 L394.5,622.4 L395.0,621.9 L395.5,621.4 L396.0,620.9 L396.5,620.3 L397.0,619.8 L397.5,619.1 L398.0,618.5 L398.5,617.9 L399.0,617.2 L399.5,616.5 L400.0,615.8 L400.5,615.1 L401.0,614.4 L401.5,613.6 L402.0,612.9 L402.5,612.2 L403.0,611.4 L403.5,610.7 L404.0,609.9 L404.5,609.2 L405.0,608.4 L405.5,607.6 L406.0,606.8 L406.5,606.0 L407.0,605.2 L407.5,604.3 L408.0,603.5 L408.5,602.7 L409.0,601.8 L409.5,601.0 L410.0,600.1 L410.5,599.3 L411.0,598.5 L411.5,597.7 L412.0,597.0 L412.5,596.2 L413.0,595.5 L413.5,594.8 L414.0,594.1 L414.5,593.4 L415.0,592.8 L415.5,592.1 L416.0,591.5 L416.5,590.9 L417.0,590.3 L417.5,589.7 L418.0,589.2 L418.5,588.7 L419.0,588.2 L419.5,587.8 L420.0,587.4 L420.5,587.0 L421.0,586.7 L421.5,586.4 L422.0,586.1 L422.5,585.9 L423.0,585.7 L423.5,585.5 L424.0,585.4 L424.5,585.3 L425.0,585.3 L425.5,585.3 L426.0,585.4 L426.5,585.6 L427.0,585.8 L427.5,586.0 L428.0,586.3 L428.5,586.6 L429.0,586.9 L429.5,587.3 L430.0,587.8 L430.5,588.3 L431.0,588.9 L431.5,589.5 L432.0,590.2 L432.5,590.9 L433.0,591.7 L433.5,592.6 L434.0,593.4 L434.5,594.3 L435.0,595.2 L435.5,596.1 L436.0,597.0 L436.5,597.8 L437.0,598.7 L437.5,599.6 L438.0,600.5 L438.5,601.4 L439.0,602.3 L439.5,603.3 L440.0,604.2 L440.5,605.2 L441.0,606.1 L441.5,607.1 L442.0,608.1 L442.5,609.2 L443.0,610.3 L443.5,611.4 L444.0,612.5 L444.5,613.6 L445.0,614.8 L445.5,615.9 L446.0,617.1 L446.5,618.3 L447.0,619.4 L447.5,620.6 L448.0,621.7 L448.5,622.8 L449.0,623.8 L449.5,624.9 L450.0,625.9 L450.5,626.8 L451.0,627.8 L451.5,628.7 L452.0,629.7 L452.5,630.6 L453.0,631.4 L453.5,632.3 L454.0,633.1 L454.5,633.9 L455.0,634.7 L455.5,635.5 L456.0,636.2 L456.5,636.9 L457.0,637.6 L457.5,638.2 L458.0,638.8 L458.5,639.4 L459.0,640.0 L459.5,640.5 L460.0,641.0 L460.5,641.5 L461.0,641.9 L461.5,642.3 L462.0,642.7 L462.5,643.0 L463.0,643.3 L463.5,643.5" fill="none" stroke="#ff0000" stroke-width="2.5" stroke-linejoin="round"/>
</g>
<clipPath id="cb"><rect x="82.0" y="653.6" width="381.6" height="349.79999999999995"/></clipPath>
<g clip-path="url(#cb)">
<g fill="none" stroke="#1010a0" stroke-width="2.5"><circle cx="82.0" cy="792.6" r="2.35"/><circle cx="86.8" cy="792.5" r="2.35"/><circle cx="91.6" cy="792.4" r="2.35"/><circle cx="96.3" cy="792.2" r="2.35"/><circle cx="101.1" cy="792.0" r="2.35"/><circle cx="105.9" cy="791.8" r="2.35"/><circle cx="110.7" cy="791.6" r="2.35"/><circle cx="115.4" cy="791.4" r="2.35"/><circle cx="120.2" cy="791.2" r="2.35"/><circle cx="125.0" cy="790.9" r="2.35"/><circle cx="129.8" cy="790.6" r="2.35"/><circle cx="134.5" cy="790.3" r="2.35"/><circle cx="139.3" cy="790.0" r="2.35"/><circle cx="144.1" cy="789.5" r="2.35"/><circle cx="148.9" cy="788.9" r="2.35"/><circle cx="153.7" cy="788.0" r="2.35"/><circle cx="158.4" cy="786.3" r="2.35"/><circle cx="163.2" cy="785.0" r="2.35"/><circle cx="168.0" cy="785.5" r="2.35"/><circle cx="172.8" cy="786.8" r="2.35"/><circle cx="177.5" cy="787.4" r="2.35"/><circle cx="182.3" cy="785.2" r="2.35"/><circle cx="187.1" cy="782.6" r="2.35"/><circle cx="191.9" cy="780.6" r="2.35"/><circle cx="196.6" cy="780.8" r="2.35"/><circle cx="201.4" cy="781.8" r="2.35"/><circle cx="206.2" cy="780.3" r="2.35"/><circle cx="211.0" cy="776.1" r="2.35"/><circle cx="215.8" cy="771.5" r="2.35"/><circle cx="220.5" cy="766.3" r="2.35"/><circle cx="225.3" cy="759.5" r="2.35"/><circle cx="230.1" cy="752.0" r="2.35"/><circle cx="234.9" cy="744.0" r="2.35"/><circle cx="239.6" cy="733.9" r="2.35"/><circle cx="244.4" cy="722.2" r="2.35"/><circle cx="249.2" cy="710.5" r="2.35"/><circle cx="254.0" cy="699.2" r="2.35"/><circle cx="258.7" cy="690.1" r="2.35"/><circle cx="263.5" cy="684.6" r="2.35"/><circle cx="268.3" cy="684.9" r="2.35"/><circle cx="273.1" cy="692.7" r="2.35"/><circle cx="277.9" cy="708.1" r="2.35"/><circle cx="282.6" cy="728.3" r="2.35"/><circle cx="287.4" cy="746.0" r="2.35"/><circle cx="292.2" cy="761.5" r="2.35"/><circle cx="297.0" cy="770.2" r="2.35"/><circle cx="301.7" cy="774.4" r="2.35"/><circle cx="306.5" cy="777.2" r="2.35"/><circle cx="311.3" cy="779.5" r="2.35"/><circle cx="316.1" cy="781.0" r="2.35"/><circle cx="320.9" cy="781.5" r="2.35"/><circle cx="325.6" cy="782.0" r="2.35"/><circle cx="330.4" cy="783.4" r="2.35"/><circle cx="335.2" cy="786.0" r="2.35"/><circle cx="340.0" cy="788.4" r="2.35"/><circle cx="344.7" cy="786.9" r="2.35"/><circle cx="349.5" cy="783.7" r="2.35"/><circle cx="354.3" cy="780.4" r="2.35"/><circle cx="359.1" cy="777.8" r="2.35"/><circle cx="363.8" cy="776.3" r="2.35"/><circle cx="368.6" cy="776.8" r="2.35"/><circle cx="373.4" cy="780.0" r="2.35"/><circle cx="378.2" cy="784.4" r="2.35"/><circle cx="383.0" cy="788.6" r="2.35"/><circle cx="387.7" cy="789.7" r="2.35"/><circle cx="392.5" cy="784.7" r="2.35"/><circle cx="397.3" cy="780.6" r="2.35"/><circle cx="402.1" cy="777.5" r="2.35"/><circle cx="406.8" cy="774.5" r="2.35"/><circle cx="411.6" cy="771.4" r="2.35"/><circle cx="416.4" cy="768.8" r="2.35"/><circle cx="421.2" cy="766.7" r="2.35"/><circle cx="425.9" cy="765.5" r="2.35"/><circle cx="430.7" cy="766.4" r="2.35"/><circle cx="435.5" cy="769.2" r="2.35"/><circle cx="440.3" cy="773.2" r="2.35"/><circle cx="445.1" cy="776.9" r="2.35"/><circle cx="449.8" cy="780.2" r="2.35"/><circle cx="454.6" cy="782.9" r="2.35"/><circle cx="459.4" cy="784.1" r="2.35"/><circle cx="464.2" cy="784.1" r="2.35"/><circle cx="82.0" cy="860.6" r="2.35"/><circle cx="86.8" cy="860.2" r="2.35"/><circle cx="91.6" cy="859.8" r="2.35"/><circle cx="96.3" cy="859.3" r="2.35"/><circle cx="101.1" cy="858.8" r="2.35"/><circle cx="105.9" cy="858.2" r="2.35"/><circle cx="110.7" cy="857.6" r="2.35"/><circle cx="115.4" cy="856.7" r="2.35"/><circle cx="120.2" cy="855.8" r="2.35"/><circle cx="125.0" cy="855.3" r="2.35"/><circle cx="129.8" cy="855.7" r="2.35"/><circle cx="134.5" cy="856.6" r="2.35"/><circle cx="139.3" cy="858.7" r="2.35"/><circle cx="144.1" cy="860.6" r="2.35"/><circle cx="148.9" cy="861.1" r="2.35"/><circle cx="153.7" cy="859.4" r="2.35"/><circle cx="158.4" cy="857.2" r="2.35"/><circle cx="163.2" cy="855.3" r="2.35"/><circle cx="168.0" cy="854.5" r="2.35"/><circle cx="172.8" cy="854.1" r="2.35"/><circle cx="177.5" cy="853.7" r="2.35"/><circle cx="182.3" cy="853.0" r="2.35"/><circle cx="187.1" cy="852.1" r="2.35"/><circle cx="191.9" cy="850.9" r="2.35"/><circle cx="196.6" cy="849.2" r="2.35"/><circle cx="201.4" cy="847.2" r="2.35"/><circle cx="206.2" cy="844.7" r="2.35"/><circle cx="211.0" cy="841.5" r="2.35"/><circle cx="215.8" cy="837.4" r="2.35"/><circle cx="220.5" cy="831.3" r="2.35"/><circle cx="225.3" cy="822.8" r="2.35"/><circle cx="230.1" cy="810.8" r="2.35"/><circle cx="234.9" cy="796.4" r="2.35"/><circle cx="239.6" cy="782.7" r="2.35"/><circle cx="244.4" cy="769.6" r="2.35"/><circle cx="249.2" cy="757.3" r="2.35"/><circle cx="254.0" cy="746.1" r="2.35"/><circle cx="258.7" cy="737.7" r="2.35"/><circle cx="263.5" cy="733.6" r="2.35"/><circle cx="268.3" cy="735.3" r="2.35"/><circle cx="273.1" cy="746.0" r="2.35"/><circle cx="277.9" cy="764.4" r="2.35"/><circle cx="282.6" cy="783.3" r="2.35"/><circle cx="287.4" cy="802.6" r="2.35"/><circle cx="292.2" cy="819.4" r="2.35"/><circle cx="297.0" cy="832.8" r="2.35"/><circle cx="301.7" cy="839.4" r="2.35"/><circle cx="306.5" cy="843.1" r="2.35"/><circle cx="311.3" cy="846.2" r="2.35"/><circle cx="316.1" cy="849.0" r="2.35"/><circle cx="320.9" cy="851.1" r="2.35"/><circle cx="325.6" cy="852.8" r="2.35"/><circle cx="330.4" cy="854.1" r="2.35"/><circle cx="335.2" cy="855.2" r="2.35"/><circle cx="340.0" cy="855.4" r="2.35"/><circle cx="344.7" cy="853.6" r="2.35"/><circle cx="349.5" cy="850.7" r="2.35"/><circle cx="354.3" cy="847.7" r="2.35"/><circle cx="359.1" cy="846.5" r="2.35"/><circle cx="363.8" cy="846.7" r="2.35"/><circle cx="368.6" cy="848.8" r="2.35"/><circle cx="373.4" cy="852.6" r="2.35"/><circle cx="378.2" cy="855.5" r="2.35"/><circle cx="383.0" cy="857.5" r="2.35"/><circle cx="387.7" cy="856.0" r="2.35"/><circle cx="392.5" cy="850.6" r="2.35"/><circle cx="397.3" cy="845.7" r="2.35"/><circle cx="402.1" cy="841.1" r="2.35"/><circle cx="406.8" cy="837.4" r="2.35"/><circle cx="411.6" cy="834.2" r="2.35"/><circle cx="416.4" cy="832.2" r="2.35"/><circle cx="421.2" cy="831.2" r="2.35"/><circle cx="425.9" cy="831.4" r="2.35"/><circle cx="430.7" cy="832.8" r="2.35"/><circle cx="435.5" cy="835.3" r="2.35"/><circle cx="440.3" cy="838.5" r="2.35"/><circle cx="445.1" cy="842.2" r="2.35"/><circle cx="449.8" cy="847.6" r="2.35"/><circle cx="454.6" cy="852.2" r="2.35"/><circle cx="459.4" cy="853.9" r="2.35"/><circle cx="464.2" cy="853.8" r="2.35"/><circle cx="82.0" cy="912.6" r="2.35"/><circle cx="86.8" cy="912.4" r="2.35"/><circle cx="91.6" cy="912.1" r="2.35"/><circle cx="96.3" cy="911.7" r="2.35"/><circle cx="101.1" cy="911.3" r="2.35"/><circle cx="105.9" cy="910.9" r="2.35"/><circle cx="110.7" cy="910.4" r="2.35"/><circle cx="115.4" cy="909.5" r="2.35"/><circle cx="120.2" cy="908.4" r="2.35"/><circle cx="125.0" cy="907.9" r="2.35"/><circle cx="129.8" cy="908.4" r="2.35"/><circle cx="134.5" cy="909.6" r="2.35"/><circle cx="139.3" cy="911.6" r="2.35"/><circle cx="144.1" cy="913.2" r="2.35"/><circle cx="148.9" cy="913.5" r="2.35"/><circle cx="153.7" cy="912.1" r="2.35"/><circle cx="158.4" cy="910.2" r="2.35"/><circle cx="163.2" cy="908.3" r="2.35"/><circle cx="168.0" cy="907.5" r="2.35"/><circle cx="172.8" cy="907.1" r="2.35"/><circle cx="177.5" cy="906.6" r="2.35"/><circle cx="182.3" cy="905.8" r="2.35"/><circle cx="187.1" cy="904.7" r="2.35"/><circle cx="191.9" cy="903.5" r="2.35"/><circle cx="196.6" cy="902.0" r="2.35"/><circle cx="201.4" cy="900.1" r="2.35"/><circle cx="206.2" cy="897.6" r="2.35"/><circle cx="211.0" cy="894.0" r="2.35"/><circle cx="215.8" cy="889.4" r="2.35"/><circle cx="220.5" cy="883.4" r="2.35"/><circle cx="225.3" cy="875.7" r="2.35"/><circle cx="230.1" cy="866.1" r="2.35"/><circle cx="234.9" cy="854.8" r="2.35"/><circle cx="239.6" cy="842.0" r="2.35"/><circle cx="244.4" cy="828.1" r="2.35"/><circle cx="249.2" cy="815.4" r="2.35"/><circle cx="254.0" cy="804.3" r="2.35"/><circle cx="258.7" cy="794.8" r="2.35"/><circle cx="263.5" cy="788.9" r="2.35"/><circle cx="268.3" cy="792.0" r="2.35"/><circle cx="273.1" cy="803.4" r="2.35"/><circle cx="277.9" cy="819.5" r="2.35"/><circle cx="282.6" cy="836.3" r="2.35"/><circle cx="287.4" cy="855.5" r="2.35"/><circle cx="292.2" cy="873.1" r="2.35"/><circle cx="297.0" cy="883.9" r="2.35"/><circle cx="301.7" cy="889.7" r="2.35"/><circle cx="306.5" cy="893.7" r="2.35"/><circle cx="311.3" cy="897.4" r="2.35"/><circle cx="316.1" cy="901.3" r="2.35"/><circle cx="320.9" cy="904.4" r="2.35"/><circle cx="325.6" cy="907.1" r="2.35"/><circle cx="330.4" cy="909.1" r="2.35"/><circle cx="335.2" cy="909.3" r="2.35"/><circle cx="340.0" cy="909.0" r="2.35"/><circle cx="344.7" cy="908.2" r="2.35"/><circle cx="349.5" cy="906.6" r="2.35"/><circle cx="354.3" cy="904.5" r="2.35"/><circle cx="359.1" cy="903.6" r="2.35"/><circle cx="363.8" cy="904.6" r="2.35"/><circle cx="368.6" cy="906.6" r="2.35"/><circle cx="373.4" cy="908.7" r="2.35"/><circle cx="378.2" cy="909.2" r="2.35"/><circle cx="383.0" cy="907.3" r="2.35"/><circle cx="387.7" cy="904.3" r="2.35"/><circle cx="392.5" cy="900.6" r="2.35"/><circle cx="397.3" cy="896.4" r="2.35"/><circle cx="402.1" cy="892.8" r="2.35"/><circle cx="406.8" cy="890.1" r="2.35"/><circle cx="411.6" cy="888.2" r="2.35"/><circle cx="416.4" cy="886.8" r="2.35"/><circle cx="421.2" cy="886.1" r="2.35"/><circle cx="425.9" cy="887.0" r="2.35"/><circle cx="430.7" cy="889.2" r="2.35"/><circle cx="435.5" cy="892.6" r="2.35"/><circle cx="440.3" cy="895.9" r="2.35"/><circle cx="445.1" cy="898.9" r="2.35"/><circle cx="449.8" cy="902.8" r="2.35"/><circle cx="454.6" cy="905.9" r="2.35"/><circle cx="459.4" cy="906.2" r="2.35"/><circle cx="464.2" cy="904.5" r="2.35"/><circle cx="82.0" cy="969.0" r="2.35"/><circle cx="86.8" cy="969.0" r="2.35"/><circle cx="91.6" cy="969.0" r="2.35"/><circle cx="96.3" cy="968.9" r="2.35"/><circle cx="101.1" cy="968.8" r="2.35"/><circle cx="105.9" cy="968.7" r="2.35"/><circle cx="110.7" cy="968.6" r="2.35"/><circle cx="115.4" cy="968.5" r="2.35"/><circle cx="120.2" cy="968.4" r="2.35"/><circle cx="125.0" cy="968.1" r="2.35"/><circle cx="129.8" cy="967.6" r="2.35"/><circle cx="134.5" cy="966.9" r="2.35"/><circle cx="139.3" cy="966.1" r="2.35"/><circle cx="144.1" cy="964.9" r="2.35"/><circle cx="148.9" cy="963.3" r="2.35"/><circle cx="153.7" cy="962.0" r="2.35"/><circle cx="158.4" cy="960.7" r="2.35"/><circle cx="163.2" cy="959.6" r="2.35"/><circle cx="168.0" cy="959.0" r="2.35"/><circle cx="172.8" cy="958.6" r="2.35"/><circle cx="177.5" cy="958.1" r="2.35"/><circle cx="182.3" cy="957.3" r="2.35"/><circle cx="187.1" cy="956.1" r="2.35"/><circle cx="191.9" cy="954.6" r="2.35"/><circle cx="196.6" cy="952.6" r="2.35"/><circle cx="201.4" cy="950.3" r="2.35"/><circle cx="206.2" cy="947.7" r="2.35"/><circle cx="211.0" cy="944.6" r="2.35"/><circle cx="215.8" cy="940.5" r="2.35"/><circle cx="220.5" cy="934.8" r="2.35"/><circle cx="225.3" cy="926.8" r="2.35"/><circle cx="230.1" cy="916.4" r="2.35"/><circle cx="234.9" cy="904.0" r="2.35"/><circle cx="239.6" cy="890.9" r="2.35"/><circle cx="244.4" cy="877.6" r="2.35"/><circle cx="249.2" cy="865.9" r="2.35"/><circle cx="254.0" cy="855.7" r="2.35"/><circle cx="258.7" cy="848.1" r="2.35"/><circle cx="263.5" cy="844.2" r="2.35"/><circle cx="268.3" cy="846.6" r="2.35"/><circle cx="273.1" cy="858.3" r="2.35"/><circle cx="277.9" cy="875.8" r="2.35"/><circle cx="282.6" cy="893.8" r="2.35"/><circle cx="287.4" cy="910.0" r="2.35"/><circle cx="292.2" cy="924.9" r="2.35"/><circle cx="297.0" cy="937.6" r="2.35"/><circle cx="301.7" cy="943.9" r="2.35"/><circle cx="306.5" cy="948.7" r="2.35"/><circle cx="311.3" cy="952.6" r="2.35"/><circle cx="316.1" cy="955.5" r="2.35"/><circle cx="320.9" cy="957.9" r="2.35"/><circle cx="325.6" cy="959.9" r="2.35"/><circle cx="330.4" cy="961.4" r="2.35"/><circle cx="335.2" cy="962.3" r="2.35"/><circle cx="340.0" cy="962.8" r="2.35"/><circle cx="344.7" cy="962.7" r="2.35"/><circle cx="349.5" cy="962.1" r="2.35"/><circle cx="354.3" cy="961.3" r="2.35"/><circle cx="359.1" cy="960.5" r="2.35"/><circle cx="363.8" cy="960.0" r="2.35"/><circle cx="368.6" cy="959.1" r="2.35"/><circle cx="373.4" cy="958.1" r="2.35"/><circle cx="378.2" cy="956.9" r="2.35"/><circle cx="383.0" cy="955.3" r="2.35"/><circle cx="387.7" cy="953.1" r="2.35"/><circle cx="392.5" cy="950.8" r="2.35"/><circle cx="397.3" cy="948.3" r="2.35"/><circle cx="402.1" cy="945.9" r="2.35"/><circle cx="406.8" cy="943.8" r="2.35"/><circle cx="411.6" cy="942.0" r="2.35"/><circle cx="416.4" cy="941.1" r="2.35"/><circle cx="421.2" cy="940.7" r="2.35"/><circle cx="425.9" cy="941.8" r="2.35"/><circle cx="430.7" cy="944.5" r="2.35"/><circle cx="435.5" cy="948.2" r="2.35"/><circle cx="440.3" cy="951.6" r="2.35"/><circle cx="445.1" cy="954.7" r="2.35"/><circle cx="449.8" cy="957.9" r="2.35"/><circle cx="454.6" cy="959.1" r="2.35"/><circle cx="459.4" cy="957.5" r="2.35"/><circle cx="464.2" cy="955.9" r="2.35"/><circle cx="82.0" cy="1002.4" r="2.35"/><circle cx="86.8" cy="1002.3" r="2.35"/><circle cx="91.6" cy="1002.1" r="2.35"/><circle cx="96.3" cy="1001.9" r="2.35"/><circle cx="101.1" cy="1001.8" r="2.35"/><circle cx="105.9" cy="1001.6" r="2.35"/><circle cx="110.7" cy="1001.4" r="2.35"/><circle cx="115.4" cy="1001.2" r="2.35"/><circle cx="120.2" cy="1001.0" r="2.35"/><circle cx="125.0" cy="1000.7" r="2.35"/><circle cx="129.8" cy="1000.2" r="2.35"/><circle cx="134.5" cy="999.7" r="2.35"/><circle cx="139.3" cy="999.1" r="2.35"/><circle cx="144.1" cy="998.3" r="2.35"/><circle cx="148.9" cy="997.5" r="2.35"/><circle cx="153.7" cy="996.6" r="2.35"/><circle cx="158.4" cy="995.7" r="2.35"/><circle cx="163.2" cy="994.9" r="2.35"/><circle cx="168.0" cy="994.3" r="2.35"/><circle cx="172.8" cy="993.9" r="2.35"/><circle cx="177.5" cy="993.5" r="2.35"/><circle cx="182.3" cy="992.9" r="2.35"/><circle cx="187.1" cy="991.9" r="2.35"/><circle cx="191.9" cy="990.7" r="2.35"/><circle cx="196.6" cy="989.1" r="2.35"/><circle cx="201.4" cy="987.1" r="2.35"/><circle cx="206.2" cy="985.2" r="2.35"/><circle cx="211.0" cy="983.1" r="2.35"/><circle cx="215.8" cy="980.4" r="2.35"/><circle cx="220.5" cy="976.9" r="2.35"/><circle cx="225.3" cy="971.8" r="2.35"/><circle cx="230.1" cy="963.9" r="2.35"/><circle cx="234.9" cy="954.3" r="2.35"/><circle cx="239.6" cy="944.8" r="2.35"/><circle cx="244.4" cy="935.1" r="2.35"/><circle cx="249.2" cy="925.8" r="2.35"/><circle cx="254.0" cy="917.2" r="2.35"/><circle cx="258.7" cy="910.4" r="2.35"/><circle cx="263.5" cy="906.1" r="2.35"/><circle cx="268.3" cy="906.2" r="2.35"/><circle cx="273.1" cy="912.4" r="2.35"/><circle cx="277.9" cy="924.7" r="2.35"/><circle cx="282.6" cy="939.0" r="2.35"/><circle cx="287.4" cy="951.5" r="2.35"/><circle cx="292.2" cy="963.8" r="2.35"/><circle cx="297.0" cy="974.1" r="2.35"/><circle cx="301.7" cy="980.7" r="2.35"/><circle cx="306.5" cy="985.6" r="2.35"/><circle cx="311.3" cy="989.5" r="2.35"/><circle cx="316.1" cy="993.1" r="2.35"/><circle cx="320.9" cy="996.3" r="2.35"/><circle cx="325.6" cy="998.3" r="2.35"/><circle cx="330.4" cy="999.5" r="2.35"/><circle cx="335.2" cy="1000.5" r="2.35"/><circle cx="340.0" cy="1001.1" r="2.35"/><circle cx="344.7" cy="1001.5" r="2.35"/><circle cx="349.5" cy="1001.7" r="2.35"/><circle cx="354.3" cy="1000.2" r="2.35"/><circle cx="359.1" cy="998.1" r="2.35"/><circle cx="363.8" cy="996.4" r="2.35"/><circle cx="368.6" cy="995.4" r="2.35"/><circle cx="373.4" cy="994.4" r="2.35"/><circle cx="378.2" cy="993.6" r="2.35"/><circle cx="383.0" cy="992.9" r="2.35"/><circle cx="387.7" cy="991.7" r="2.35"/><circle cx="392.5" cy="990.3" r="2.35"/><circle cx="397.3" cy="988.9" r="2.35"/><circle cx="402.1" cy="987.6" r="2.35"/><circle cx="406.8" cy="986.0" r="2.35"/><circle cx="411.6" cy="984.2" r="2.35"/><circle cx="416.4" cy="983.2" r="2.35"/><circle cx="421.2" cy="982.9" r="2.35"/><circle cx="425.9" cy="984.0" r="2.35"/><circle cx="430.7" cy="986.6" r="2.35"/><circle cx="435.5" cy="990.1" r="2.35"/><circle cx="440.3" cy="994.3" r="2.35"/><circle cx="445.1" cy="997.8" r="2.35"/><circle cx="449.8" cy="997.1" r="2.35"/><circle cx="454.6" cy="995.4" r="2.35"/><circle cx="459.4" cy="993.3" r="2.35"/><circle cx="464.2" cy="991.4" r="2.35"/></g>
<path d="M82.0,793.6 L82.5,793.6 L83.0,793.6 L83.5,793.6 L84.0,793.6 L84.5,793.5 L85.0,793.5 L85.5,793.5 L86.0,793.5 L86.5,793.5 L87.0,793.5 L87.5,793.5 L88.0,793.5 L88.5,793.5 L89.0,793.4 L89.5,793.4 L90.0,793.4 L90.5,793.4 L91.0,793.4 L91.5,793.4 L92.0,793.4 L92.5,793.4 L93.0,793.3 L93.5,793.3 L94.0,793.3 L94.5,793.3 L95.0,793.3 L95.5,793.3 L96.0,793.3 L96.5,793.2 L97.0,793.2 L97.5,793.2 L98.0,793.2 L98.5,793.2 L99.0,793.2 L99.5,793.2 L100.0,793.1 L100.5,793.1 L101.0,793.1 L101.5,793.1 L102.0,793.1 L102.5,793.1 L103.0,793.0 L103.5,793.0 L104.0,793.0 L104.5,793.0 L105.0,793.0 L105.5,793.0 L106.0,792.9 L106.5,792.9 L107.0,792.9 L107.5,792.9 L108.0,792.9 L108.5,792.8 L109.0,792.8 L109.5,792.8 L110.0,792.8 L110.5,792.8 L111.0,792.8 L111.5,792.7 L112.0,792.7 L112.5,792.7 L113.0,792.7 L113.5,792.7 L114.0,792.6 L114.5,792.6 L115.0,792.6 L115.5,792.6 L116.0,792.6 L116.5,792.5 L117.0,792.5 L117.5,792.5 L118.0,792.5 L118.5,792.5 L119.0,792.4 L119.5,792.4 L120.0,792.4 L120.5,792.4 L121.0,792.4 L121.5,792.3 L122.0,792.3 L122.5,792.3 L123.0,792.3 L123.5,792.3 L124.0,792.2 L124.5,792.2 L125.0,792.2 L125.5,792.2 L126.0,792.1 L126.5,792.1 L127.0,792.1 L127.5,792.1 L128.0,792.1 L128.5,792.0 L129.0,792.0 L129.5,792.0 L130.0,792.0 L130.5,791.9 L131.0,791.9 L131.5,791.9 L132.0,791.9 L132.5,791.8 L133.0,791.8 L133.5,791.8 L134.0,791.8 L134.5,791.7 L135.0,791.7 L135.5,791.7 L136.0,791.7 L136.5,791.6 L137.0,791.6 L137.5,791.6 L138.0,791.5 L138.5,791.5 L139.0,791.5 L139.5,791.4 L140.0,791.4 L140.5,791.4 L141.0,791.3 L141.5,791.3 L142.0,791.3 L142.5,791.2 L143.0,791.2 L143.5,791.2 L144.0,791.1 L144.5,791.1 L145.0,791.1 L145.5,791.0 L146.0,791.0 L146.5,791.0 L147.0,790.9 L147.5,790.9 L148.0,790.8 L148.5,790.8 L149.0,790.7 L149.5,790.7 L150.0,790.6 L150.5,790.6 L151.0,790.5 L151.5,790.5 L152.0,790.4 L152.5,790.4 L153.0,790.3 L153.5,790.2 L154.0,790.2 L154.5,790.1 L155.0,790.0 L155.5,790.0 L156.0,789.9 L156.5,789.8 L157.0,789.8 L157.5,789.7 L158.0,789.6 L158.5,789.6 L159.0,789.5 L159.5,789.4 L160.0,789.4 L160.5,789.3 L161.0,789.2 L161.5,789.2 L162.0,789.1 L162.5,789.0 L163.0,788.9 L163.5,788.9 L164.0,788.8 L164.5,788.7 L165.0,788.7 L165.5,788.6 L166.0,788.5 L166.5,788.5 L167.0,788.4 L167.5,788.3 L168.0,788.3 L168.5,788.2 L169.0,788.1 L169.5,788.1 L170.0,788.0 L170.5,787.9 L171.0,787.9 L171.5,787.8 L172.0,787.8 L172.5,787.7 L173.0,787.6 L173.5,787.6 L174.0,787.5 L174.5,787.5 L175.0,787.4 L175.5,787.4 L176.0,787.3 L176.5,787.2 L177.0,787.2 L177.5,787.1 L178.0,787.1 L178.5,787.0 L179.0,786.9 L179.5,786.9 L180.0,786.8 L180.5,786.8 L181.0,786.7 L181.5,786.6 L182.0,786.6 L182.5,786.5 L183.0,786.4 L183.5,786.4 L184.0,786.3 L184.5,786.2 L185.0,786.1 L185.5,786.1 L186.0,786.0 L186.5,785.9 L187.0,785.8 L187.5,785.8 L188.0,785.7 L188.5,785.6 L189.0,785.5 L189.5,785.4 L190.0,785.3 L190.5,785.2 L191.0,785.1 L191.5,785.0 L192.0,784.9 L192.5,784.8 L193.0,784.7 L193.5,784.6 L194.0,784.5 L194.5,784.4 L195.0,784.3 L195.5,784.2 L196.0,784.1 L196.5,783.9 L197.0,783.8 L197.5,783.7 L198.0,783.6 L198.5,783.4 L199.0,783.3 L199.5,783.1 L200.0,783.0 L200.5,782.8 L201.0,782.6 L201.5,782.4 L202.0,782.2 L202.5,782.0 L203.0,781.8 L203.5,781.6 L204.0,781.3 L204.5,781.1 L205.0,780.8 L205.5,780.6 L206.0,780.3 L206.5,780.0 L207.0,779.8 L207.5,779.5 L208.0,779.2 L208.5,778.9 L209.0,778.6 L209.5,778.3 L210.0,778.0 L210.5,777.7 L211.0,777.3 L211.5,777.0 L212.0,776.7 L212.5,776.3 L213.0,776.0 L213.5,775.6 L214.0,775.2 L214.5,774.8 L215.0,774.5 L215.5,774.1 L216.0,773.6 L216.5,773.2 L217.0,772.8 L217.5,772.3 L218.0,771.9 L218.5,771.4 L219.0,770.9 L219.5,770.4 L220.0,769.9 L220.5,769.3 L221.0,768.8 L221.5,768.2 L222.0,767.6 L222.5,766.9 L223.0,766.3 L223.5,765.6 L224.0,764.9 L224.5,764.2 L225.0,763.5 L225.5,762.7 L226.0,762.0 L226.5,761.2 L227.0,760.5 L227.5,759.8 L228.0,759.0 L228.5,758.3 L229.0,757.5 L229.5,756.7 L230.0,756.0 L230.5,755.2 L231.0,754.4 L231.5,753.7 L232.0,752.9 L232.5,752.1 L233.0,751.2 L233.5,750.4 L234.0,749.5 L234.5,748.6 L235.0,747.7 L235.5,746.8 L236.0,745.8 L236.5,744.8 L237.0,743.8 L237.5,742.7 L238.0,741.6 L238.5,740.5 L239.0,739.4 L239.5,738.2 L240.0,737.0 L240.5,735.8 L241.0,734.5 L241.5,733.3 L242.0,732.0 L242.5,730.8 L243.0,729.5 L243.5,728.2 L244.0,727.0 L244.5,725.7 L245.0,724.5 L245.5,723.2 L246.0,722.0 L246.5,720.8 L247.0,719.5 L247.5,718.2 L248.0,717.0 L248.5,715.7 L249.0,714.5 L249.5,713.2 L250.0,711.9 L250.5,710.7 L251.0,709.4 L251.5,708.2 L252.0,707.0 L252.5,705.8 L253.0,704.6 L253.5,703.4 L254.0,702.3 L254.5,701.2 L255.0,700.1 L255.5,699.1 L256.0,698.1 L256.5,697.1 L257.0,696.1 L257.5,695.2 L258.0,694.2 L258.5,693.3 L259.0,692.5 L259.5,691.6 L260.0,690.8 L260.5,690.1 L261.0,689.4 L261.5,688.8 L262.0,688.2 L262.5,687.7 L263.0,687.3 L263.5,686.9 L264.0,686.6 L264.5,686.3 L265.0,686.1 L265.5,686.0 L266.0,685.9 L266.5,685.8 L267.0,685.9 L267.5,686.0 L268.0,686.3 L268.5,686.6 L269.0,687.0 L269.5,687.5 L270.0,688.1 L270.5,688.7 L271.0,689.5 L271.5,690.4 L272.0,691.3 L272.5,692.4 L273.0,693.6 L273.5,694.8 L274.0,696.2 L274.5,697.6 L275.0,699.1 L275.5,700.7 L276.0,702.3 L276.5,704.0 L277.0,705.8 L277.5,707.7 L278.0,709.6 L278.5,711.5 L279.0,713.5 L279.5,715.6 L280.0,717.6 L280.5,719.7 L281.0,721.8 L281.5,723.9 L282.0,725.9 L282.5,728.0 L283.0,730.1 L283.5,732.1 L284.0,734.2 L284.5,736.2 L285.0,738.2 L285.5,740.3 L286.0,742.2 L286.5,744.2 L287.0,746.1 L287.5,748.0 L288.0,749.8 L288.5,751.7 L289.0,753.5 L289.5,755.2 L290.0,756.9 L290.5,758.5 L291.0,760.1 L291.5,761.6 L292.0,763.0 L292.5,764.3 L293.0,765.5 L293.5,766.7 L294.0,767.7 L294.5,768.7 L295.0,769.6 L295.5,770.4 L296.0,771.2 L296.5,771.9 L297.0,772.6 L297.5,773.2 L298.0,773.8 L298.5,774.3 L299.0,774.7 L299.5,775.2 L300.0,775.6 L300.5,775.9 L301.0,776.3 L301.5,776.6 L302.0,776.9 L302.5,777.2 L303.0,777.5 L303.5,777.8 L304.0,778.0 L304.5,778.3 L305.0,778.5 L305.5,778.8 L306.0,779.0 L306.5,779.2 L307.0,779.4 L307.5,779.6 L308.0,779.8 L308.5,780.0 L309.0,780.2 L309.5,780.4 L310.0,780.5 L310.5,780.7 L311.0,780.9 L311.5,781.0 L312.0,781.2 L312.5,781.3 L313.0,781.4 L313.5,781.6 L314.0,781.7 L314.5,781.8 L315.0,781.8 L315.5,781.9 L316.0,781.9 L316.5,782.0 L317.0,782.0 L317.5,782.1 L318.0,782.1 L318.5,782.1 L319.0,782.1 L319.5,782.2 L320.0,782.2 L320.5,782.2 L321.0,782.2 L321.5,782.2 L322.0,782.2 L322.5,782.2 L323.0,782.3 L323.5,782.3 L324.0,782.3 L324.5,782.3 L325.0,782.4 L325.5,782.4 L326.0,782.5 L326.5,782.5 L327.0,782.6 L327.5,782.7 L328.0,782.8 L328.5,782.9 L329.0,783.0 L329.5,783.1 L330.0,783.2 L330.5,783.4 L331.0,783.5 L331.5,783.7 L332.0,783.8 L332.5,784.0 L333.0,784.1 L333.5,784.3 L334.0,784.4 L334.5,784.6 L335.0,784.8 L335.5,785.0 L336.0,785.2 L336.5,785.4 L337.0,785.6 L337.5,785.7 L338.0,785.9 L338.5,786.1 L339.0,786.3 L339.5,786.4 L340.0,786.6 L340.5,786.7 L341.0,786.8 L341.5,786.8 L342.0,786.8 L342.5,786.8 L343.0,786.8 L343.5,786.7 L344.0,786.6 L344.5,786.5 L345.0,786.4 L345.5,786.2 L346.0,786.0 L346.5,785.8 L347.0,785.7 L347.5,785.4 L348.0,785.2 L348.5,785.0 L349.0,784.8 L349.5,784.6 L350.0,784.4 L350.5,784.1 L351.0,783.9 L351.5,783.7 L352.0,783.4 L352.5,783.1 L353.0,782.9 L353.5,782.6 L354.0,782.3 L354.5,782.1 L355.0,781.8 L355.5,781.6 L356.0,781.3 L356.5,781.1 L357.0,780.9 L357.5,780.7 L358.0,780.5 L358.5,780.3 L359.0,780.1 L359.5,779.9 L360.0,779.7 L360.5,779.6 L361.0,779.4 L361.5,779.3 L362.0,779.1 L362.5,779.0 L363.0,778.9 L363.5,778.8 L364.0,778.7 L364.5,778.6 L365.0,778.6 L365.5,778.5 L366.0,778.5 L366.5,778.6 L367.0,778.6 L367.5,778.7 L368.0,778.8 L368.5,778.9 L369.0,779.0 L369.5,779.2 L370.0,779.3 L370.5,779.5 L371.0,779.7 L371.5,779.9 L372.0,780.1 L372.5,780.4 L373.0,780.6 L373.5,780.8 L374.0,781.1 L374.5,781.4 L375.0,781.6 L375.5,781.9 L376.0,782.3 L376.5,782.6 L377.0,783.0 L377.5,783.3 L378.0,783.7 L378.5,784.1 L379.0,784.4 L379.5,784.8 L380.0,785.2 L380.5,785.5 L381.0,785.8 L381.5,786.1 L382.0,786.4 L382.5,786.7 L383.0,787.0 L383.5,787.3 L384.0,787.5 L384.5,787.7 L385.0,787.9 L385.5,788.1 L386.0,788.2 L386.5,788.2 L387.0,788.3 L387.5,788.2 L388.0,788.1 L388.5,787.9 L389.0,787.7 L389.5,787.4 L390.0,787.1 L390.5,786.7 L391.0,786.4 L391.5,786.0 L392.0,785.6 L392.5,785.2 L393.0,784.8 L393.5,784.4 L394.0,784.1 L394.5,783.7 L395.0,783.4 L395.5,783.1 L396.0,782.8 L396.5,782.5 L397.0,782.2 L397.5,781.9 L398.0,781.6 L398.5,781.3 L399.0,781.0 L399.5,780.7 L400.0,780.4 L400.5,780.1 L401.0,779.8 L401.5,779.5 L402.0,779.2 L402.5,778.9 L403.0,778.7 L403.5,778.4 L404.0,778.1 L404.5,777.8 L405.0,777.5 L405.5,777.3 L406.0,777.0 L406.5,776.7 L407.0,776.4 L407.5,776.2 L408.0,775.9 L408.5,775.6 L409.0,775.3 L409.5,775.1 L410.0,774.8 L410.5,774.5 L411.0,774.2 L411.5,774.0 L412.0,773.7 L412.5,773.4 L413.0,773.2 L413.5,772.9 L414.0,772.7 L414.5,772.5 L415.0,772.2 L415.5,772.0 L416.0,771.8 L416.5,771.6 L417.0,771.4 L417.5,771.2 L418.0,771.0 L418.5,770.8 L419.0,770.7 L419.5,770.5 L420.0,770.3 L420.5,770.2 L421.0,770.0 L421.5,769.9 L422.0,769.7 L422.5,769.6 L423.0,769.5 L423.5,769.4 L424.0,769.3 L424.5,769.2 L425.0,769.2 L425.5,769.2 L426.0,769.2 L426.5,769.2 L427.0,769.2 L427.5,769.3 L428.0,769.4 L428.5,769.6 L429.0,769.7 L429.5,769.9 L430.0,770.1 L430.5,770.3 L431.0,770.6 L431.5,770.8 L432.0,771.1 L432.5,771.4 L433.0,771.7 L433.5,772.1 L434.0,772.4 L434.5,772.8 L435.0,773.2 L435.5,773.7 L436.0,774.1 L436.5,774.6 L437.0,775.1 L437.5,775.5 L438.0,776.0 L438.5,776.5 L439.0,777.0 L439.5,777.5 L440.0,778.0 L440.5,778.5 L441.0,779.0 L441.5,779.5 L442.0,780.0 L442.5,780.6 L443.0,781.1 L443.5,781.6 L444.0,782.1 L444.5,782.7 L445.0,783.2 L445.5,783.7 L446.0,784.1 L446.5,784.6 L447.0,785.1 L447.5,785.5 L448.0,785.9 L448.5,786.3 L449.0,786.7 L449.5,787.1 L450.0,787.5 L450.5,787.8 L451.0,788.2 L451.5,788.5 L452.0,788.8 L452.5,789.1 L453.0,789.4 L453.5,789.7 L454.0,790.0 L454.5,790.3 L455.0,790.5 L455.5,790.7 L456.0,790.9 L456.5,791.1 L457.0,791.3 L457.5,791.5 L458.0,791.7 L458.5,791.8 L459.0,792.0 L459.5,792.1 L460.0,792.3 L460.5,792.4 L461.0,792.5 L461.5,792.6 L462.0,792.7 L462.5,792.8 L463.0,792.8 L463.5,792.9" fill="none" stroke="#ff0000" stroke-width="2.5" stroke-linejoin="round"/>
<path d="M82.0,862.6 L82.5,862.6 L83.0,862.6 L83.5,862.5 L84.0,862.5 L84.5,862.5 L85.0,862.5 L85.5,862.5 L86.0,862.5 L86.5,862.4 L87.0,862.4 L87.5,862.4 L88.0,862.4 L88.5,862.4 L89.0,862.3 L89.5,862.3 L90.0,862.3 L90.5,862.3 L91.0,862.3 L91.5,862.2 L92.0,862.2 L92.5,862.2 L93.0,862.2 L93.5,862.2 L94.0,862.1 L94.5,862.1 L95.0,862.1 L95.5,862.1 L96.0,862.1 L96.5,862.0 L97.0,862.0 L97.5,862.0 L98.0,862.0 L98.5,862.0 L99.0,861.9 L99.5,861.9 L100.0,861.9 L100.5,861.9 L101.0,861.9 L101.5,861.8 L102.0,861.8 L102.5,861.8 L103.0,861.8 L103.5,861.8 L104.0,861.7 L104.5,861.7 L105.0,861.7 L105.5,861.7 L106.0,861.6 L106.5,861.6 L107.0,861.6 L107.5,861.6 L108.0,861.6 L108.5,861.5 L109.0,861.5 L109.5,861.5 L110.0,861.5 L110.5,861.4 L111.0,861.4 L111.5,861.4 L112.0,861.4 L112.5,861.4 L113.0,861.3 L113.5,861.3 L114.0,861.3 L114.5,861.3 L115.0,861.2 L115.5,861.2 L116.0,861.2 L116.5,861.2 L117.0,861.1 L117.5,861.1 L118.0,861.1 L118.5,861.1 L119.0,861.0 L119.5,861.0 L120.0,861.0 L120.5,861.0 L121.0,861.0 L121.5,860.9 L122.0,860.9 L122.5,860.9 L123.0,860.9 L123.5,860.8 L124.0,860.8 L124.5,860.8 L125.0,860.8 L125.5,860.7 L126.0,860.7 L126.5,860.7 L127.0,860.7 L127.5,860.7 L128.0,860.6 L128.5,860.6 L129.0,860.6 L129.5,860.6 L130.0,860.5 L130.5,860.5 L131.0,860.5 L131.5,860.5 L132.0,860.5 L132.5,860.4 L133.0,860.4 L133.5,860.4 L134.0,860.4 L134.5,860.3 L135.0,860.3 L135.5,860.3 L136.0,860.2 L136.5,860.2 L137.0,860.2 L137.5,860.2 L138.0,860.1 L138.5,860.1 L139.0,860.1 L139.5,860.0 L140.0,860.0 L140.5,860.0 L141.0,860.0 L141.5,859.9 L142.0,859.9 L142.5,859.9 L143.0,859.8 L143.5,859.8 L144.0,859.7 L144.5,859.7 L145.0,859.7 L145.5,859.6 L146.0,859.6 L146.5,859.5 L147.0,859.5 L147.5,859.5 L148.0,859.4 L148.5,859.4 L149.0,859.3 L149.5,859.2 L150.0,859.2 L150.5,859.1 L151.0,859.1 L151.5,859.0 L152.0,858.9 L152.5,858.9 L153.0,858.8 L153.5,858.7 L154.0,858.7 L154.5,858.6 L155.0,858.5 L155.5,858.4 L156.0,858.4 L156.5,858.3 L157.0,858.2 L157.5,858.1 L158.0,858.0 L158.5,858.0 L159.0,857.9 L159.5,857.8 L160.0,857.7 L160.5,857.6 L161.0,857.5 L161.5,857.5 L162.0,857.4 L162.5,857.3 L163.0,857.2 L163.5,857.1 L164.0,857.0 L164.5,856.9 L165.0,856.9 L165.5,856.8 L166.0,856.7 L166.5,856.6 L167.0,856.5 L167.5,856.4 L168.0,856.3 L168.5,856.3 L169.0,856.2 L169.5,856.1 L170.0,856.0 L170.5,855.9 L171.0,855.8 L171.5,855.8 L172.0,855.7 L172.5,855.6 L173.0,855.5 L173.5,855.4 L174.0,855.4 L174.5,855.3 L175.0,855.2 L175.5,855.1 L176.0,855.1 L176.5,855.0 L177.0,854.9 L177.5,854.8 L178.0,854.7 L178.5,854.7 L179.0,854.6 L179.5,854.5 L180.0,854.4 L180.5,854.3 L181.0,854.2 L181.5,854.2 L182.0,854.1 L182.5,854.0 L183.0,853.9 L183.5,853.8 L184.0,853.7 L184.5,853.6 L185.0,853.5 L185.5,853.4 L186.0,853.3 L186.5,853.2 L187.0,853.1 L187.5,853.0 L188.0,852.9 L188.5,852.7 L189.0,852.6 L189.5,852.5 L190.0,852.4 L190.5,852.2 L191.0,852.1 L191.5,852.0 L192.0,851.8 L192.5,851.7 L193.0,851.5 L193.5,851.4 L194.0,851.2 L194.5,851.0 L195.0,850.8 L195.5,850.7 L196.0,850.5 L196.5,850.3 L197.0,850.1 L197.5,849.9 L198.0,849.7 L198.5,849.5 L199.0,849.3 L199.5,849.1 L200.0,848.9 L200.5,848.6 L201.0,848.4 L201.5,848.2 L202.0,847.9 L202.5,847.7 L203.0,847.5 L203.5,847.2 L204.0,847.0 L204.5,846.7 L205.0,846.5 L205.5,846.2 L206.0,846.0 L206.5,845.7 L207.0,845.4 L207.5,845.1 L208.0,844.8 L208.5,844.5 L209.0,844.2 L209.5,843.9 L210.0,843.6 L210.5,843.3 L211.0,842.9 L211.5,842.6 L212.0,842.2 L212.5,841.9 L213.0,841.5 L213.5,841.1 L214.0,840.7 L214.5,840.3 L215.0,839.8 L215.5,839.4 L216.0,838.9 L216.5,838.4 L217.0,837.9 L217.5,837.3 L218.0,836.7 L218.5,836.1 L219.0,835.5 L219.5,834.8 L220.0,834.1 L220.5,833.4 L221.0,832.6 L221.5,831.9 L222.0,831.1 L222.5,830.3 L223.0,829.4 L223.5,828.5 L224.0,827.6 L224.5,826.7 L225.0,825.8 L225.5,824.8 L226.0,823.8 L226.5,822.7 L227.0,821.6 L227.5,820.4 L228.0,819.2 L228.5,817.9 L229.0,816.6 L229.5,815.2 L230.0,813.8 L230.5,812.4 L231.0,810.9 L231.5,809.5 L232.0,808.0 L232.5,806.5 L233.0,805.0 L233.5,803.4 L234.0,801.9 L234.5,800.5 L235.0,799.0 L235.5,797.5 L236.0,796.1 L236.5,794.6 L237.0,793.2 L237.5,791.7 L238.0,790.3 L238.5,788.9 L239.0,787.5 L239.5,786.0 L240.0,784.6 L240.5,783.2 L241.0,781.8 L241.5,780.3 L242.0,778.9 L242.5,777.5 L243.0,776.1 L243.5,774.8 L244.0,773.4 L244.5,772.0 L245.0,770.7 L245.5,769.4 L246.0,768.0 L246.5,766.7 L247.0,765.4 L247.5,764.1 L248.0,762.7 L248.5,761.4 L249.0,760.1 L249.5,758.8 L250.0,757.5 L250.5,756.2 L251.0,755.0 L251.5,753.7 L252.0,752.5 L252.5,751.4 L253.0,750.2 L253.5,749.1 L254.0,748.0 L254.5,747.0 L255.0,746.0 L255.5,745.1 L256.0,744.1 L256.5,743.3 L257.0,742.4 L257.5,741.6 L258.0,740.8 L258.5,740.0 L259.0,739.3 L259.5,738.7 L260.0,738.1 L260.5,737.5 L261.0,737.1 L261.5,736.6 L262.0,736.3 L262.5,736.0 L263.0,735.8 L263.5,735.6 L264.0,735.5 L264.5,735.4 L265.0,735.4 L265.5,735.4 L266.0,735.5 L266.5,735.7 L267.0,735.9 L267.5,736.3 L268.0,736.7 L268.5,737.3 L269.0,738.0 L269.5,738.7 L270.0,739.6 L270.5,740.6 L271.0,741.7 L271.5,742.9 L272.0,744.2 L272.5,745.7 L273.0,747.3 L273.5,748.9 L274.0,750.7 L274.5,752.5 L275.0,754.4 L275.5,756.3 L276.0,758.3 L276.5,760.4 L277.0,762.5 L277.5,764.7 L278.0,767.0 L278.5,769.3 L279.0,771.6 L279.5,774.0 L280.0,776.4 L280.5,778.8 L281.0,781.1 L281.5,783.5 L282.0,785.8 L282.5,788.1 L283.0,790.4 L283.5,792.7 L284.0,794.9 L284.5,797.1 L285.0,799.3 L285.5,801.5 L286.0,803.6 L286.5,805.7 L287.0,807.8 L287.5,809.9 L288.0,811.9 L288.5,813.9 L289.0,815.9 L289.5,817.8 L290.0,819.7 L290.5,821.5 L291.0,823.3 L291.5,825.0 L292.0,826.6 L292.5,828.1 L293.0,829.5 L293.5,830.9 L294.0,832.1 L294.5,833.3 L295.0,834.4 L295.5,835.5 L296.0,836.5 L296.5,837.4 L297.0,838.2 L297.5,839.0 L298.0,839.7 L298.5,840.4 L299.0,841.0 L299.5,841.6 L300.0,842.2 L300.5,842.7 L301.0,843.2 L301.5,843.7 L302.0,844.2 L302.5,844.6 L303.0,845.0 L303.5,845.4 L304.0,845.7 L304.5,846.1 L305.0,846.4 L305.5,846.6 L306.0,846.9 L306.5,847.1 L307.0,847.4 L307.5,847.6 L308.0,847.8 L308.5,848.0 L309.0,848.2 L309.5,848.3 L310.0,848.5 L310.5,848.6 L311.0,848.8 L311.5,848.9 L312.0,849.1 L312.5,849.2 L313.0,849.3 L313.5,849.5 L314.0,849.6 L314.5,849.7 L315.0,849.8 L315.5,849.9 L316.0,850.0 L316.5,850.1 L317.0,850.2 L317.5,850.2 L318.0,850.3 L318.5,850.4 L319.0,850.5 L319.5,850.5 L320.0,850.6 L320.5,850.7 L321.0,850.7 L321.5,850.8 L322.0,850.9 L322.5,850.9 L323.0,851.0 L323.5,851.0 L324.0,851.1 L324.5,851.2 L325.0,851.3 L325.5,851.3 L326.0,851.4 L326.5,851.5 L327.0,851.6 L327.5,851.7 L328.0,851.8 L328.5,851.9 L329.0,852.0 L329.5,852.1 L330.0,852.2 L330.5,852.3 L331.0,852.4 L331.5,852.5 L332.0,852.6 L332.5,852.7 L333.0,852.8 L333.5,852.9 L334.0,853.0 L334.5,853.1 L335.0,853.2 L335.5,853.3 L336.0,853.4 L336.5,853.5 L337.0,853.5 L337.5,853.6 L338.0,853.7 L338.5,853.8 L339.0,853.8 L339.5,853.9 L340.0,853.9 L340.5,853.9 L341.0,853.9 L341.5,853.9 L342.0,853.8 L342.5,853.8 L343.0,853.7 L343.5,853.6 L344.0,853.5 L344.5,853.4 L345.0,853.2 L345.5,853.1 L346.0,852.9 L346.5,852.8 L347.0,852.6 L347.5,852.4 L348.0,852.3 L348.5,852.1 L349.0,851.9 L349.5,851.8 L350.0,851.6 L350.5,851.4 L351.0,851.2 L351.5,851.1 L352.0,850.9 L352.5,850.7 L353.0,850.5 L353.5,850.3 L354.0,850.1 L354.5,849.9 L355.0,849.8 L355.5,849.6 L356.0,849.5 L356.5,849.4 L357.0,849.2 L357.5,849.2 L358.0,849.1 L358.5,849.0 L359.0,848.9 L359.5,848.9 L360.0,848.9 L360.5,848.8 L361.0,848.8 L361.5,848.8 L362.0,848.7 L362.5,848.7 L363.0,848.7 L363.5,848.7 L364.0,848.7 L364.5,848.6 L365.0,848.6 L365.5,848.7 L366.0,848.7 L366.5,848.7 L367.0,848.8 L367.5,848.9 L368.0,849.0 L368.5,849.1 L369.0,849.2 L369.5,849.3 L370.0,849.5 L370.5,849.7 L371.0,849.9 L371.5,850.0 L372.0,850.2 L372.5,850.4 L373.0,850.6 L373.5,850.8 L374.0,851.0 L374.5,851.2 L375.0,851.4 L375.5,851.7 L376.0,851.9 L376.5,852.1 L377.0,852.4 L377.5,852.6 L378.0,852.8 L378.5,853.0 L379.0,853.3 L379.5,853.5 L380.0,853.7 L380.5,853.9 L381.0,854.0 L381.5,854.2 L382.0,854.3 L382.5,854.4 L383.0,854.6 L383.5,854.6 L384.0,854.7 L384.5,854.8 L385.0,854.8 L385.5,854.8 L386.0,854.7 L386.5,854.6 L387.0,854.5 L387.5,854.3 L388.0,854.0 L388.5,853.7 L389.0,853.4 L389.5,853.0 L390.0,852.6 L390.5,852.2 L391.0,851.8 L391.5,851.4 L392.0,851.0 L392.5,850.6 L393.0,850.3 L393.5,849.9 L394.0,849.5 L394.5,849.1 L395.0,848.7 L395.5,848.3 L396.0,847.9 L396.5,847.4 L397.0,847.0 L397.5,846.6 L398.0,846.2 L398.5,845.8 L399.0,845.4 L399.5,845.0 L400.0,844.6 L400.5,844.2 L401.0,843.8 L401.5,843.4 L402.0,843.0 L402.5,842.6 L403.0,842.2 L403.5,841.9 L404.0,841.5 L404.5,841.2 L405.0,840.8 L405.5,840.5 L406.0,840.1 L406.5,839.8 L407.0,839.4 L407.5,839.1 L408.0,838.8 L408.5,838.5 L409.0,838.1 L409.5,837.8 L410.0,837.5 L410.5,837.2 L411.0,837.0 L411.5,836.7 L412.0,836.4 L412.5,836.2 L413.0,836.0 L413.5,835.8 L414.0,835.5 L414.5,835.4 L415.0,835.2 L415.5,835.0 L416.0,834.8 L416.5,834.6 L417.0,834.5 L417.5,834.3 L418.0,834.1 L418.5,834.0 L419.0,833.9 L419.5,833.7 L420.0,833.6 L420.5,833.5 L421.0,833.4 L421.5,833.3 L422.0,833.2 L422.5,833.2 L423.0,833.1 L423.5,833.1 L424.0,833.1 L424.5,833.2 L425.0,833.2 L425.5,833.3 L426.0,833.4 L426.5,833.6 L427.0,833.7 L427.5,833.9 L428.0,834.1 L428.5,834.3 L429.0,834.6 L429.5,834.8 L430.0,835.1 L430.5,835.4 L431.0,835.7 L431.5,836.0 L432.0,836.4 L432.5,836.8 L433.0,837.2 L433.5,837.6 L434.0,838.0 L434.5,838.5 L435.0,839.0 L435.5,839.5 L436.0,840.0 L436.5,840.5 L437.0,841.0 L437.5,841.5 L438.0,842.1 L438.5,842.6 L439.0,843.2 L439.5,843.8 L440.0,844.4 L440.5,845.1 L441.0,845.7 L441.5,846.3 L442.0,847.0 L442.5,847.7 L443.0,848.3 L443.5,848.9 L444.0,849.6 L444.5,850.2 L445.0,850.8 L445.5,851.3 L446.0,851.9 L446.5,852.4 L447.0,853.0 L447.5,853.5 L448.0,854.0 L448.5,854.5 L449.0,854.9 L449.5,855.4 L450.0,855.8 L450.5,856.3 L451.0,856.7 L451.5,857.1 L452.0,857.5 L452.5,857.9 L453.0,858.2 L453.5,858.6 L454.0,858.9 L454.5,859.3 L455.0,859.6 L455.5,859.9 L456.0,860.2 L456.5,860.5 L457.0,860.7 L457.5,861.0 L458.0,861.3 L458.5,861.5 L459.0,861.8 L459.5,862.0 L460.0,862.2 L460.5,862.5 L461.0,862.7 L461.5,862.8 L462.0,863.0 L462.5,863.2 L463.0,863.3 L463.5,863.4" fill="none" stroke="#ff0000" stroke-width="2.5" stroke-linejoin="round"/>
<path d="M82.0,914.6 L82.5,914.6 L83.0,914.6 L83.5,914.6 L84.0,914.6 L84.5,914.6 L85.0,914.6 L85.5,914.6 L86.0,914.6 L86.5,914.6 L87.0,914.6 L87.5,914.6 L88.0,914.6 L88.5,914.6 L89.0,914.6 L89.5,914.6 L90.0,914.6 L90.5,914.6 L91.0,914.6 L91.5,914.6 L92.0,914.5 L92.5,914.5 L93.0,914.5 L93.5,914.5 L94.0,914.5 L94.5,914.5 L95.0,914.5 L95.5,914.5 L96.0,914.5 L96.5,914.5 L97.0,914.5 L97.5,914.5 L98.0,914.5 L98.5,914.5 L99.0,914.5 L99.5,914.4 L100.0,914.4 L100.5,914.4 L101.0,914.4 L101.5,914.4 L102.0,914.4 L102.5,914.4 L103.0,914.4 L103.5,914.4 L104.0,914.4 L104.5,914.4 L105.0,914.3 L105.5,914.3 L106.0,914.3 L106.5,914.3 L107.0,914.3 L107.5,914.3 L108.0,914.3 L108.5,914.3 L109.0,914.3 L109.5,914.3 L110.0,914.2 L110.5,914.2 L111.0,914.2 L111.5,914.2 L112.0,914.2 L112.5,914.2 L113.0,914.2 L113.5,914.2 L114.0,914.2 L114.5,914.1 L115.0,914.1 L115.5,914.1 L116.0,914.1 L116.5,914.1 L117.0,914.1 L117.5,914.1 L118.0,914.1 L118.5,914.0 L119.0,914.0 L119.5,914.0 L120.0,914.0 L120.5,914.0 L121.0,914.0 L121.5,914.0 L122.0,913.9 L122.5,913.9 L123.0,913.9 L123.5,913.9 L124.0,913.9 L124.5,913.8 L125.0,913.8 L125.5,913.8 L126.0,913.8 L126.5,913.8 L127.0,913.7 L127.5,913.7 L128.0,913.7 L128.5,913.7 L129.0,913.6 L129.5,913.6 L130.0,913.6 L130.5,913.5 L131.0,913.5 L131.5,913.5 L132.0,913.5 L132.5,913.4 L133.0,913.4 L133.5,913.4 L134.0,913.3 L134.5,913.3 L135.0,913.3 L135.5,913.2 L136.0,913.2 L136.5,913.2 L137.0,913.1 L137.5,913.1 L138.0,913.0 L138.5,913.0 L139.0,913.0 L139.5,912.9 L140.0,912.9 L140.5,912.9 L141.0,912.8 L141.5,912.8 L142.0,912.7 L142.5,912.7 L143.0,912.7 L143.5,912.6 L144.0,912.6 L144.5,912.5 L145.0,912.5 L145.5,912.4 L146.0,912.4 L146.5,912.3 L147.0,912.3 L147.5,912.3 L148.0,912.2 L148.5,912.2 L149.0,912.1 L149.5,912.0 L150.0,912.0 L150.5,911.9 L151.0,911.9 L151.5,911.8 L152.0,911.8 L152.5,911.7 L153.0,911.6 L153.5,911.6 L154.0,911.5 L154.5,911.4 L155.0,911.4 L155.5,911.3 L156.0,911.2 L156.5,911.2 L157.0,911.1 L157.5,911.0 L158.0,910.9 L158.5,910.9 L159.0,910.8 L159.5,910.7 L160.0,910.6 L160.5,910.6 L161.0,910.5 L161.5,910.4 L162.0,910.3 L162.5,910.2 L163.0,910.2 L163.5,910.1 L164.0,910.0 L164.5,909.9 L165.0,909.8 L165.5,909.7 L166.0,909.7 L166.5,909.6 L167.0,909.5 L167.5,909.4 L168.0,909.3 L168.5,909.3 L169.0,909.2 L169.5,909.1 L170.0,909.0 L170.5,908.9 L171.0,908.8 L171.5,908.7 L172.0,908.7 L172.5,908.6 L173.0,908.5 L173.5,908.4 L174.0,908.3 L174.5,908.2 L175.0,908.1 L175.5,908.1 L176.0,908.0 L176.5,907.9 L177.0,907.8 L177.5,907.7 L178.0,907.6 L178.5,907.5 L179.0,907.4 L179.5,907.3 L180.0,907.2 L180.5,907.1 L181.0,907.0 L181.5,906.9 L182.0,906.8 L182.5,906.7 L183.0,906.6 L183.5,906.5 L184.0,906.4 L184.5,906.3 L185.0,906.2 L185.5,906.1 L186.0,906.0 L186.5,905.9 L187.0,905.7 L187.5,905.6 L188.0,905.5 L188.5,905.4 L189.0,905.2 L189.5,905.1 L190.0,905.0 L190.5,904.9 L191.0,904.7 L191.5,904.6 L192.0,904.4 L192.5,904.3 L193.0,904.2 L193.5,904.0 L194.0,903.9 L194.5,903.7 L195.0,903.5 L195.5,903.4 L196.0,903.2 L196.5,903.1 L197.0,902.9 L197.5,902.7 L198.0,902.5 L198.5,902.3 L199.0,902.1 L199.5,901.9 L200.0,901.8 L200.5,901.5 L201.0,901.3 L201.5,901.1 L202.0,900.9 L202.5,900.7 L203.0,900.4 L203.5,900.2 L204.0,900.0 L204.5,899.7 L205.0,899.4 L205.5,899.2 L206.0,898.9 L206.5,898.6 L207.0,898.3 L207.5,897.9 L208.0,897.6 L208.5,897.3 L209.0,896.9 L209.5,896.6 L210.0,896.2 L210.5,895.8 L211.0,895.4 L211.5,895.0 L212.0,894.6 L212.5,894.2 L213.0,893.7 L213.5,893.3 L214.0,892.8 L214.5,892.4 L215.0,891.9 L215.5,891.4 L216.0,890.9 L216.5,890.4 L217.0,889.9 L217.5,889.3 L218.0,888.7 L218.5,888.1 L219.0,887.5 L219.5,886.8 L220.0,886.2 L220.5,885.5 L221.0,884.8 L221.5,884.1 L222.0,883.3 L222.5,882.6 L223.0,881.8 L223.5,881.0 L224.0,880.2 L224.5,879.4 L225.0,878.6 L225.5,877.8 L226.0,876.9 L226.5,876.0 L227.0,875.1 L227.5,874.1 L228.0,873.2 L228.5,872.2 L229.0,871.2 L229.5,870.1 L230.0,869.1 L230.5,868.0 L231.0,866.9 L231.5,865.8 L232.0,864.6 L232.5,863.5 L233.0,862.3 L233.5,861.1 L234.0,859.9 L234.5,858.7 L235.0,857.4 L235.5,856.2 L236.0,854.9 L236.5,853.6 L237.0,852.2 L237.5,850.9 L238.0,849.5 L238.5,848.1 L239.0,846.7 L239.5,845.3 L240.0,843.9 L240.5,842.4 L241.0,841.0 L241.5,839.5 L242.0,838.0 L242.5,836.4 L243.0,834.9 L243.5,833.4 L244.0,831.9 L244.5,830.4 L245.0,829.0 L245.5,827.6 L246.0,826.2 L246.5,824.8 L247.0,823.4 L247.5,822.1 L248.0,820.8 L248.5,819.5 L249.0,818.2 L249.5,816.9 L250.0,815.7 L250.5,814.5 L251.0,813.3 L251.5,812.1 L252.0,810.9 L252.5,809.7 L253.0,808.6 L253.5,807.4 L254.0,806.3 L254.5,805.2 L255.0,804.2 L255.5,803.1 L256.0,802.1 L256.5,801.1 L257.0,800.1 L257.5,799.1 L258.0,798.1 L258.5,797.2 L259.0,796.3 L259.5,795.5 L260.0,794.7 L260.5,793.9 L261.0,793.2 L261.5,792.6 L262.0,792.0 L262.5,791.6 L263.0,791.2 L263.5,790.9 L264.0,790.8 L264.5,790.7 L265.0,790.8 L265.5,791.0 L266.0,791.4 L266.5,791.8 L267.0,792.3 L267.5,792.8 L268.0,793.5 L268.5,794.3 L269.0,795.2 L269.5,796.1 L270.0,797.2 L270.5,798.4 L271.0,799.6 L271.5,800.9 L272.0,802.3 L272.5,803.7 L273.0,805.2 L273.5,806.7 L274.0,808.3 L274.5,810.0 L275.0,811.6 L275.5,813.3 L276.0,815.0 L276.5,816.8 L277.0,818.5 L277.5,820.2 L278.0,821.9 L278.5,823.6 L279.0,825.2 L279.5,826.9 L280.0,828.5 L280.5,830.2 L281.0,831.8 L281.5,833.5 L282.0,835.2 L282.5,836.9 L283.0,838.7 L283.5,840.4 L284.0,842.3 L284.5,844.1 L285.0,846.0 L285.5,848.0 L286.0,850.0 L286.5,852.0 L287.0,854.0 L287.5,856.0 L288.0,858.0 L288.5,860.0 L289.0,862.0 L289.5,863.9 L290.0,865.9 L290.5,867.8 L291.0,869.6 L291.5,871.5 L292.0,873.3 L292.5,875.0 L293.0,876.8 L293.5,878.4 L294.0,880.0 L294.5,881.5 L295.0,883.0 L295.5,884.3 L296.0,885.6 L296.5,886.8 L297.0,887.9 L297.5,888.9 L298.0,889.9 L298.5,890.8 L299.0,891.7 L299.5,892.5 L300.0,893.3 L300.5,894.0 L301.0,894.6 L301.5,895.2 L302.0,895.8 L302.5,896.3 L303.0,896.7 L303.5,897.1 L304.0,897.5 L304.5,897.9 L305.0,898.3 L305.5,898.6 L306.0,898.9 L306.5,899.2 L307.0,899.5 L307.5,899.8 L308.0,900.1 L308.5,900.3 L309.0,900.6 L309.5,900.8 L310.0,901.1 L310.5,901.3 L311.0,901.5 L311.5,901.8 L312.0,902.0 L312.5,902.2 L313.0,902.4 L313.5,902.6 L314.0,902.8 L314.5,903.1 L315.0,903.3 L315.5,903.5 L316.0,903.6 L316.5,903.8 L317.0,904.0 L317.5,904.2 L318.0,904.4 L318.5,904.5 L319.0,904.7 L319.5,904.9 L320.0,905.0 L320.5,905.2 L321.0,905.3 L321.5,905.5 L322.0,905.6 L322.5,905.7 L323.0,905.9 L323.5,906.0 L324.0,906.1 L324.5,906.3 L325.0,906.4 L325.5,906.5 L326.0,906.7 L326.5,906.8 L327.0,906.9 L327.5,907.0 L328.0,907.2 L328.5,907.3 L329.0,907.4 L329.5,907.5 L330.0,907.6 L330.5,907.6 L331.0,907.7 L331.5,907.8 L332.0,907.8 L332.5,907.9 L333.0,907.9 L333.5,907.9 L334.0,908.0 L334.5,908.0 L335.0,908.0 L335.5,908.0 L336.0,908.0 L336.5,908.0 L337.0,908.0 L337.5,908.0 L338.0,908.0 L338.5,908.0 L339.0,908.0 L339.5,908.0 L340.0,908.0 L340.5,908.0 L341.0,908.0 L341.5,908.0 L342.0,908.0 L342.5,908.0 L343.0,908.0 L343.5,908.0 L344.0,908.0 L344.5,908.0 L345.0,908.0 L345.5,908.0 L346.0,907.9 L346.5,907.9 L347.0,907.9 L347.5,907.8 L348.0,907.8 L348.5,907.7 L349.0,907.6 L349.5,907.5 L350.0,907.4 L350.5,907.3 L351.0,907.2 L351.5,907.1 L352.0,907.0 L352.5,906.9 L353.0,906.8 L353.5,906.7 L354.0,906.6 L354.5,906.6 L355.0,906.5 L355.5,906.5 L356.0,906.5 L356.5,906.4 L357.0,906.4 L357.5,906.4 L358.0,906.5 L358.5,906.5 L359.0,906.5 L359.5,906.5 L360.0,906.5 L360.5,906.6 L361.0,906.6 L361.5,906.6 L362.0,906.7 L362.5,906.7 L363.0,906.7 L363.5,906.8 L364.0,906.8 L364.5,906.9 L365.0,906.9 L365.5,907.0 L366.0,907.0 L366.5,907.1 L367.0,907.2 L367.5,907.2 L368.0,907.3 L368.5,907.4 L369.0,907.5 L369.5,907.6 L370.0,907.7 L370.5,907.8 L371.0,907.9 L371.5,908.0 L372.0,908.1 L372.5,908.2 L373.0,908.3 L373.5,908.3 L374.0,908.4 L374.5,908.4 L375.0,908.5 L375.5,908.5 L376.0,908.5 L376.5,908.5 L377.0,908.4 L377.5,908.4 L378.0,908.3 L378.5,908.2 L379.0,908.1 L379.5,908.0 L380.0,907.9 L380.5,907.7 L381.0,907.5 L381.5,907.4 L382.0,907.2 L382.5,907.0 L383.0,906.8 L383.5,906.7 L384.0,906.5 L384.5,906.2 L385.0,906.0 L385.5,905.8 L386.0,905.6 L386.5,905.3 L387.0,905.0 L387.5,904.8 L388.0,904.5 L388.5,904.2 L389.0,903.9 L389.5,903.6 L390.0,903.3 L390.5,903.0 L391.0,902.6 L391.5,902.3 L392.0,902.0 L392.5,901.6 L393.0,901.3 L393.5,900.9 L394.0,900.5 L394.5,900.1 L395.0,899.8 L395.5,899.4 L396.0,899.0 L396.5,898.6 L397.0,898.2 L397.5,897.8 L398.0,897.4 L398.5,897.1 L399.0,896.7 L399.5,896.4 L400.0,896.1 L400.5,895.7 L401.0,895.4 L401.5,895.1 L402.0,894.8 L402.5,894.5 L403.0,894.2 L403.5,893.9 L404.0,893.6 L404.5,893.4 L405.0,893.1 L405.5,892.8 L406.0,892.5 L406.5,892.3 L407.0,892.0 L407.5,891.8 L408.0,891.6 L408.5,891.3 L409.0,891.1 L409.5,890.9 L410.0,890.7 L410.5,890.5 L411.0,890.4 L411.5,890.2 L412.0,890.0 L412.5,889.9 L413.0,889.7 L413.5,889.6 L414.0,889.4 L414.5,889.3 L415.0,889.2 L415.5,889.0 L416.0,888.9 L416.5,888.8 L417.0,888.7 L417.5,888.6 L418.0,888.5 L418.5,888.4 L419.0,888.3 L419.5,888.2 L420.0,888.2 L420.5,888.1 L421.0,888.1 L421.5,888.1 L422.0,888.1 L422.5,888.2 L423.0,888.2 L423.5,888.3 L424.0,888.4 L424.5,888.5 L425.0,888.7 L425.5,888.9 L426.0,889.1 L426.5,889.3 L427.0,889.5 L427.5,889.7 L428.0,890.0 L428.5,890.2 L429.0,890.5 L429.5,890.8 L430.0,891.1 L430.5,891.4 L431.0,891.7 L431.5,892.1 L432.0,892.4 L432.5,892.8 L433.0,893.2 L433.5,893.7 L434.0,894.1 L434.5,894.6 L435.0,895.1 L435.5,895.6 L436.0,896.1 L436.5,896.6 L437.0,897.1 L437.5,897.6 L438.0,898.0 L438.5,898.5 L439.0,899.0 L439.5,899.5 L440.0,900.0 L440.5,900.5 L441.0,900.9 L441.5,901.4 L442.0,901.9 L442.5,902.3 L443.0,902.8 L443.5,903.3 L444.0,903.8 L444.5,904.2 L445.0,904.7 L445.5,905.1 L446.0,905.6 L446.5,906.1 L447.0,906.5 L447.5,906.9 L448.0,907.4 L448.5,907.8 L449.0,908.2 L449.5,908.6 L450.0,909.0 L450.5,909.3 L451.0,909.7 L451.5,910.1 L452.0,910.4 L452.5,910.8 L453.0,911.1 L453.5,911.4 L454.0,911.7 L454.5,912.1 L455.0,912.4 L455.5,912.6 L456.0,912.9 L456.5,913.2 L457.0,913.5 L457.5,913.7 L458.0,913.9 L458.5,914.2 L459.0,914.4 L459.5,914.6 L460.0,914.8 L460.5,915.0 L461.0,915.2 L461.5,915.3 L462.0,915.5 L462.5,915.6 L463.0,915.7 L463.5,915.8" fill="none" stroke="#ff0000" stroke-width="2.5" stroke-linejoin="round"/>
<path d="M82.0,967.0 L82.5,967.0 L83.0,967.0 L83.5,967.0 L84.0,967.0 L84.5,967.0 L85.0,967.0 L85.5,967.0 L86.0,967.0 L86.5,967.0 L87.0,967.0 L87.5,967.0 L88.0,967.0 L88.5,967.0 L89.0,967.0 L89.5,967.0 L90.0,967.0 L90.5,967.0 L91.0,967.0 L91.5,967.0 L92.0,966.9 L92.5,966.9 L93.0,966.9 L93.5,966.9 L94.0,966.9 L94.5,966.9 L95.0,966.9 L95.5,966.9 L96.0,966.9 L96.5,966.9 L97.0,966.9 L97.5,966.9 L98.0,966.9 L98.5,966.9 L99.0,966.9 L99.5,966.9 L100.0,966.8 L100.5,966.8 L101.0,966.8 L101.5,966.8 L102.0,966.8 L102.5,966.8 L103.0,966.8 L103.5,966.8 L104.0,966.8 L104.5,966.8 L105.0,966.8 L105.5,966.7 L106.0,966.7 L106.5,966.7 L107.0,966.7 L107.5,966.7 L108.0,966.7 L108.5,966.7 L109.0,966.7 L109.5,966.7 L110.0,966.7 L110.5,966.6 L111.0,966.6 L111.5,966.6 L112.0,966.6 L112.5,966.6 L113.0,966.6 L113.5,966.6 L114.0,966.6 L114.5,966.5 L115.0,966.5 L115.5,966.5 L116.0,966.5 L116.5,966.5 L117.0,966.5 L117.5,966.5 L118.0,966.5 L118.5,966.4 L119.0,966.4 L119.5,966.4 L120.0,966.4 L120.5,966.4 L121.0,966.4 L121.5,966.3 L122.0,966.3 L122.5,966.3 L123.0,966.3 L123.5,966.3 L124.0,966.2 L124.5,966.2 L125.0,966.2 L125.5,966.2 L126.0,966.1 L126.5,966.1 L127.0,966.1 L127.5,966.0 L128.0,966.0 L128.5,966.0 L129.0,965.9 L129.5,965.9 L130.0,965.9 L130.5,965.8 L131.0,965.8 L131.5,965.8 L132.0,965.7 L132.5,965.7 L133.0,965.6 L133.5,965.6 L134.0,965.5 L134.5,965.5 L135.0,965.5 L135.5,965.4 L136.0,965.4 L136.5,965.3 L137.0,965.3 L137.5,965.2 L138.0,965.2 L138.5,965.1 L139.0,965.1 L139.5,965.0 L140.0,965.0 L140.5,964.9 L141.0,964.9 L141.5,964.8 L142.0,964.8 L142.5,964.7 L143.0,964.7 L143.5,964.6 L144.0,964.6 L144.5,964.5 L145.0,964.5 L145.5,964.4 L146.0,964.4 L146.5,964.3 L147.0,964.3 L147.5,964.2 L148.0,964.2 L148.5,964.1 L149.0,964.1 L149.5,964.0 L150.0,964.0 L150.5,963.9 L151.0,963.8 L151.5,963.8 L152.0,963.7 L152.5,963.7 L153.0,963.6 L153.5,963.5 L154.0,963.5 L154.5,963.4 L155.0,963.3 L155.5,963.3 L156.0,963.2 L156.5,963.1 L157.0,963.0 L157.5,963.0 L158.0,962.9 L158.5,962.8 L159.0,962.7 L159.5,962.7 L160.0,962.6 L160.5,962.5 L161.0,962.4 L161.5,962.4 L162.0,962.3 L162.5,962.2 L163.0,962.1 L163.5,962.1 L164.0,962.0 L164.5,961.9 L165.0,961.8 L165.5,961.7 L166.0,961.7 L166.5,961.6 L167.0,961.5 L167.5,961.4 L168.0,961.3 L168.5,961.2 L169.0,961.2 L169.5,961.1 L170.0,961.0 L170.5,960.9 L171.0,960.8 L171.5,960.8 L172.0,960.7 L172.5,960.6 L173.0,960.5 L173.5,960.4 L174.0,960.3 L174.5,960.2 L175.0,960.2 L175.5,960.1 L176.0,960.0 L176.5,959.9 L177.0,959.8 L177.5,959.7 L178.0,959.6 L178.5,959.6 L179.0,959.5 L179.5,959.4 L180.0,959.3 L180.5,959.2 L181.0,959.1 L181.5,959.0 L182.0,958.9 L182.5,958.8 L183.0,958.7 L183.5,958.6 L184.0,958.5 L184.5,958.4 L185.0,958.2 L185.5,958.1 L186.0,958.0 L186.5,957.9 L187.0,957.8 L187.5,957.6 L188.0,957.5 L188.5,957.4 L189.0,957.3 L189.5,957.1 L190.0,957.0 L190.5,956.8 L191.0,956.7 L191.5,956.5 L192.0,956.4 L192.5,956.2 L193.0,956.0 L193.5,955.8 L194.0,955.7 L194.5,955.5 L195.0,955.3 L195.5,955.1 L196.0,954.9 L196.5,954.6 L197.0,954.4 L197.5,954.2 L198.0,954.0 L198.5,953.8 L199.0,953.5 L199.5,953.3 L200.0,953.0 L200.5,952.8 L201.0,952.5 L201.5,952.3 L202.0,952.0 L202.5,951.8 L203.0,951.5 L203.5,951.3 L204.0,951.0 L204.5,950.7 L205.0,950.4 L205.5,950.1 L206.0,949.9 L206.5,949.6 L207.0,949.3 L207.5,948.9 L208.0,948.6 L208.5,948.3 L209.0,948.0 L209.5,947.6 L210.0,947.3 L210.5,946.9 L211.0,946.6 L211.5,946.2 L212.0,945.8 L212.5,945.4 L213.0,945.0 L213.5,944.6 L214.0,944.2 L214.5,943.7 L215.0,943.3 L215.5,942.8 L216.0,942.3 L216.5,941.8 L217.0,941.2 L217.5,940.7 L218.0,940.1 L218.5,939.5 L219.0,938.9 L219.5,938.2 L220.0,937.6 L220.5,936.9 L221.0,936.1 L221.5,935.4 L222.0,934.6 L222.5,933.9 L223.0,933.1 L223.5,932.2 L224.0,931.4 L224.5,930.5 L225.0,929.7 L225.5,928.8 L226.0,927.8 L226.5,926.9 L227.0,925.9 L227.5,924.9 L228.0,923.8 L228.5,922.8 L229.0,921.6 L229.5,920.5 L230.0,919.3 L230.5,918.1 L231.0,916.9 L231.5,915.6 L232.0,914.4 L232.5,913.1 L233.0,911.8 L233.5,910.5 L234.0,909.2 L234.5,907.9 L235.0,906.6 L235.5,905.3 L236.0,903.9 L236.5,902.6 L237.0,901.2 L237.5,899.9 L238.0,898.5 L238.5,897.1 L239.0,895.6 L239.5,894.2 L240.0,892.8 L240.5,891.3 L241.0,889.9 L241.5,888.4 L242.0,887.0 L242.5,885.6 L243.0,884.1 L243.5,882.7 L244.0,881.4 L244.5,880.0 L245.0,878.7 L245.5,877.4 L246.0,876.1 L246.5,874.8 L247.0,873.6 L247.5,872.3 L248.0,871.1 L248.5,869.9 L249.0,868.7 L249.5,867.5 L250.0,866.3 L250.5,865.2 L251.0,864.0 L251.5,862.9 L252.0,861.8 L252.5,860.7 L253.0,859.7 L253.5,858.7 L254.0,857.7 L254.5,856.8 L255.0,855.9 L255.5,855.0 L256.0,854.2 L256.5,853.4 L257.0,852.6 L257.5,851.8 L258.0,851.1 L258.5,850.5 L259.0,849.8 L259.5,849.2 L260.0,848.7 L260.5,848.2 L261.0,847.7 L261.5,847.3 L262.0,846.9 L262.5,846.6 L263.0,846.4 L263.5,846.2 L264.0,846.1 L264.5,846.1 L265.0,846.2 L265.5,846.4 L266.0,846.7 L266.5,847.1 L267.0,847.5 L267.5,848.1 L268.0,848.8 L268.5,849.6 L269.0,850.5 L269.5,851.5 L270.0,852.6 L270.5,853.9 L271.0,855.3 L271.5,856.8 L272.0,858.5 L272.5,860.2 L273.0,862.0 L273.5,863.9 L274.0,865.9 L274.5,867.9 L275.0,869.9 L275.5,872.0 L276.0,874.1 L276.5,876.2 L277.0,878.3 L277.5,880.4 L278.0,882.5 L278.5,884.7 L279.0,886.9 L279.5,889.1 L280.0,891.3 L280.5,893.5 L281.0,895.6 L281.5,897.8 L282.0,899.9 L282.5,902.0 L283.0,904.1 L283.5,906.2 L284.0,908.3 L284.5,910.4 L285.0,912.4 L285.5,914.4 L286.0,916.4 L286.5,918.3 L287.0,920.2 L287.5,922.0 L288.0,923.8 L288.5,925.6 L289.0,927.3 L289.5,929.0 L290.0,930.6 L290.5,932.2 L291.0,933.8 L291.5,935.3 L292.0,936.7 L292.5,938.0 L293.0,939.3 L293.5,940.5 L294.0,941.6 L294.5,942.7 L295.0,943.7 L295.5,944.6 L296.0,945.5 L296.5,946.3 L297.0,947.1 L297.5,947.8 L298.0,948.5 L298.5,949.2 L299.0,949.7 L299.5,950.3 L300.0,950.8 L300.5,951.3 L301.0,951.7 L301.5,952.2 L302.0,952.6 L302.5,952.9 L303.0,953.3 L303.5,953.6 L304.0,954.0 L304.5,954.3 L305.0,954.6 L305.5,954.9 L306.0,955.2 L306.5,955.4 L307.0,955.7 L307.5,955.9 L308.0,956.1 L308.5,956.4 L309.0,956.6 L309.5,956.8 L310.0,957.0 L310.5,957.1 L311.0,957.3 L311.5,957.5 L312.0,957.6 L312.5,957.8 L313.0,957.9 L313.5,958.1 L314.0,958.2 L314.5,958.4 L315.0,958.5 L315.5,958.6 L316.0,958.7 L316.5,958.9 L317.0,959.0 L317.5,959.1 L318.0,959.2 L318.5,959.3 L319.0,959.4 L319.5,959.5 L320.0,959.6 L320.5,959.7 L321.0,959.8 L321.5,959.9 L322.0,960.0 L322.5,960.1 L323.0,960.2 L323.5,960.3 L324.0,960.3 L324.5,960.4 L325.0,960.5 L325.5,960.6 L326.0,960.7 L326.5,960.8 L327.0,960.8 L327.5,960.9 L328.0,961.0 L328.5,961.1 L329.0,961.1 L329.5,961.2 L330.0,961.3 L330.5,961.4 L331.0,961.4 L331.5,961.5 L332.0,961.5 L332.5,961.6 L333.0,961.7 L333.5,961.7 L334.0,961.8 L334.5,961.8 L335.0,961.9 L335.5,961.9 L336.0,962.0 L336.5,962.0 L337.0,962.1 L337.5,962.1 L338.0,962.2 L338.5,962.2 L339.0,962.3 L339.5,962.3 L340.0,962.4 L340.5,962.4 L341.0,962.5 L341.5,962.5 L342.0,962.6 L342.5,962.6 L343.0,962.7 L343.5,962.7 L344.0,962.7 L344.5,962.8 L345.0,962.8 L345.5,962.8 L346.0,962.9 L346.5,962.9 L347.0,962.9 L347.5,962.9 L348.0,962.9 L348.5,963.0 L349.0,963.0 L349.5,963.0 L350.0,963.0 L350.5,963.0 L351.0,963.0 L351.5,963.0 L352.0,962.9 L352.5,962.9 L353.0,962.9 L353.5,962.9 L354.0,962.9 L354.5,962.8 L355.0,962.8 L355.5,962.8 L356.0,962.7 L356.5,962.7 L357.0,962.7 L357.5,962.6 L358.0,962.6 L358.5,962.5 L359.0,962.5 L359.5,962.4 L360.0,962.4 L360.5,962.3 L361.0,962.3 L361.5,962.2 L362.0,962.2 L362.5,962.1 L363.0,962.1 L363.5,962.0 L364.0,961.9 L364.5,961.9 L365.0,961.8 L365.5,961.7 L366.0,961.6 L366.5,961.5 L367.0,961.4 L367.5,961.4 L368.0,961.3 L368.5,961.2 L369.0,961.1 L369.5,961.0 L370.0,960.9 L370.5,960.8 L371.0,960.6 L371.5,960.5 L372.0,960.4 L372.5,960.3 L373.0,960.2 L373.5,960.1 L374.0,960.0 L374.5,959.9 L375.0,959.8 L375.5,959.7 L376.0,959.6 L376.5,959.5 L377.0,959.3 L377.5,959.2 L378.0,959.1 L378.5,959.0 L379.0,958.9 L379.5,958.7 L380.0,958.6 L380.5,958.5 L381.0,958.4 L381.5,958.2 L382.0,958.1 L382.5,957.9 L383.0,957.8 L383.5,957.6 L384.0,957.5 L384.5,957.3 L385.0,957.1 L385.5,956.9 L386.0,956.7 L386.5,956.5 L387.0,956.3 L387.5,956.1 L388.0,955.9 L388.5,955.6 L389.0,955.4 L389.5,955.2 L390.0,954.9 L390.5,954.7 L391.0,954.5 L391.5,954.2 L392.0,954.0 L392.5,953.7 L393.0,953.5 L393.5,953.3 L394.0,953.0 L394.5,952.8 L395.0,952.5 L395.5,952.2 L396.0,952.0 L396.5,951.7 L397.0,951.5 L397.5,951.2 L398.0,950.9 L398.5,950.7 L399.0,950.4 L399.5,950.2 L400.0,949.9 L400.5,949.6 L401.0,949.4 L401.5,949.2 L402.0,948.9 L402.5,948.7 L403.0,948.5 L403.5,948.2 L404.0,948.0 L404.5,947.8 L405.0,947.6 L405.5,947.4 L406.0,947.1 L406.5,946.9 L407.0,946.7 L407.5,946.5 L408.0,946.3 L408.5,946.1 L409.0,945.9 L409.5,945.7 L410.0,945.5 L410.5,945.4 L411.0,945.2 L411.5,945.0 L412.0,944.9 L412.5,944.8 L413.0,944.7 L413.5,944.5 L414.0,944.4 L414.5,944.4 L415.0,944.3 L415.5,944.2 L416.0,944.1 L416.5,944.1 L417.0,944.0 L417.5,943.9 L418.0,943.9 L418.5,943.8 L419.0,943.8 L419.5,943.7 L420.0,943.7 L420.5,943.7 L421.0,943.7 L421.5,943.7 L422.0,943.7 L422.5,943.8 L423.0,943.8 L423.5,943.9 L424.0,944.1 L424.5,944.2 L425.0,944.4 L425.5,944.6 L426.0,944.8 L426.5,945.1 L427.0,945.3 L427.5,945.6 L428.0,945.9 L428.5,946.2 L429.0,946.4 L429.5,946.7 L430.0,947.0 L430.5,947.4 L431.0,947.7 L431.5,948.0 L432.0,948.4 L432.5,948.8 L433.0,949.1 L433.5,949.5 L434.0,949.9 L434.5,950.4 L435.0,950.8 L435.5,951.2 L436.0,951.6 L436.5,952.1 L437.0,952.5 L437.5,952.9 L438.0,953.3 L438.5,953.8 L439.0,954.2 L439.5,954.6 L440.0,955.0 L440.5,955.4 L441.0,955.7 L441.5,956.1 L442.0,956.5 L442.5,956.9 L443.0,957.2 L443.5,957.6 L444.0,958.0 L444.5,958.3 L445.0,958.7 L445.5,959.0 L446.0,959.4 L446.5,959.7 L447.0,960.1 L447.5,960.4 L448.0,960.7 L448.5,961.1 L449.0,961.4 L449.5,961.7 L450.0,962.0 L450.5,962.3 L451.0,962.6 L451.5,962.8 L452.0,963.1 L452.5,963.4 L453.0,963.7 L453.5,963.9 L454.0,964.2 L454.5,964.4 L455.0,964.7 L455.5,964.9 L456.0,965.1 L456.5,965.4 L457.0,965.6 L457.5,965.8 L458.0,966.0 L458.5,966.1 L459.0,966.3 L459.5,966.5 L460.0,966.6 L460.5,966.8 L461.0,966.9 L461.5,967.1 L462.0,967.2 L462.5,967.3 L463.0,967.4 L463.5,967.4" fill="none" stroke="#ff0000" stroke-width="2.5" stroke-linejoin="round"/>
<path d="M82.0,1002.4 L82.5,1002.4 L83.0,1002.4 L83.5,1002.4 L84.0,1002.4 L84.5,1002.4 L85.0,1002.4 L85.5,1002.4 L86.0,1002.4 L86.5,1002.4 L87.0,1002.4 L87.5,1002.4 L88.0,1002.4 L88.5,1002.4 L89.0,1002.4 L89.5,1002.4 L90.0,1002.4 L90.5,1002.4 L91.0,1002.4 L91.5,1002.4 L92.0,1002.4 L92.5,1002.4 L93.0,1002.4 L93.5,1002.4 L94.0,1002.4 L94.5,1002.3 L95.0,1002.3 L95.5,1002.3 L96.0,1002.3 L96.5,1002.3 L97.0,1002.3 L97.5,1002.3 L98.0,1002.3 L98.5,1002.3 L99.0,1002.3 L99.5,1002.3 L100.0,1002.3 L100.5,1002.3 L101.0,1002.3 L101.5,1002.3 L102.0,1002.3 L102.5,1002.3 L103.0,1002.3 L103.5,1002.3 L104.0,1002.3 L104.5,1002.2 L105.0,1002.2 L105.5,1002.2 L106.0,1002.2 L106.5,1002.2 L107.0,1002.2 L107.5,1002.2 L108.0,1002.2 L108.5,1002.2 L109.0,1002.2 L109.5,1002.2 L110.0,1002.2 L110.5,1002.2 L111.0,1002.2 L111.5,1002.1 L112.0,1002.1 L112.5,1002.1 L113.0,1002.1 L113.5,1002.1 L114.0,1002.1 L114.5,1002.1 L115.0,1002.1 L115.5,1002.1 L116.0,1002.1 L116.5,1002.1 L117.0,1002.1 L117.5,1002.0 L118.0,1002.0 L118.5,1002.0 L119.0,1002.0 L119.5,1002.0 L120.0,1002.0 L120.5,1002.0 L121.0,1002.0 L121.5,1002.0 L122.0,1002.0 L122.5,1001.9 L123.0,1001.9 L123.5,1001.9 L124.0,1001.9 L124.5,1001.9 L125.0,1001.9 L125.5,1001.8 L126.0,1001.8 L126.5,1001.8 L127.0,1001.8 L127.5,1001.8 L128.0,1001.7 L128.5,1001.7 L129.0,1001.7 L129.5,1001.7 L130.0,1001.6 L130.5,1001.6 L131.0,1001.6 L131.5,1001.6 L132.0,1001.5 L132.5,1001.5 L133.0,1001.5 L133.5,1001.4 L134.0,1001.4 L134.5,1001.4 L135.0,1001.4 L135.5,1001.3 L136.0,1001.3 L136.5,1001.3 L137.0,1001.2 L137.5,1001.2 L138.0,1001.2 L138.5,1001.1 L139.0,1001.1 L139.5,1001.1 L140.0,1001.0 L140.5,1001.0 L141.0,1001.0 L141.5,1000.9 L142.0,1000.9 L142.5,1000.9 L143.0,1000.8 L143.5,1000.8 L144.0,1000.7 L144.5,1000.7 L145.0,1000.7 L145.5,1000.6 L146.0,1000.6 L146.5,1000.6 L147.0,1000.5 L147.5,1000.5 L148.0,1000.4 L148.5,1000.4 L149.0,1000.4 L149.5,1000.3 L150.0,1000.3 L150.5,1000.2 L151.0,1000.2 L151.5,1000.1 L152.0,1000.1 L152.5,1000.0 L153.0,1000.0 L153.5,999.9 L154.0,999.9 L154.5,999.8 L155.0,999.8 L155.5,999.7 L156.0,999.7 L156.5,999.6 L157.0,999.6 L157.5,999.5 L158.0,999.5 L158.5,999.4 L159.0,999.3 L159.5,999.3 L160.0,999.2 L160.5,999.2 L161.0,999.1 L161.5,999.1 L162.0,999.0 L162.5,998.9 L163.0,998.9 L163.5,998.8 L164.0,998.8 L164.5,998.7 L165.0,998.6 L165.5,998.6 L166.0,998.5 L166.5,998.4 L167.0,998.4 L167.5,998.3 L168.0,998.3 L168.5,998.2 L169.0,998.1 L169.5,998.1 L170.0,998.0 L170.5,997.9 L171.0,997.9 L171.5,997.8 L172.0,997.8 L172.5,997.7 L173.0,997.6 L173.5,997.6 L174.0,997.5 L174.5,997.4 L175.0,997.4 L175.5,997.3 L176.0,997.3 L176.5,997.2 L177.0,997.1 L177.5,997.1 L178.0,997.0 L178.5,996.9 L179.0,996.9 L179.5,996.8 L180.0,996.7 L180.5,996.6 L181.0,996.6 L181.5,996.5 L182.0,996.4 L182.5,996.4 L183.0,996.3 L183.5,996.2 L184.0,996.1 L184.5,996.0 L185.0,995.9 L185.5,995.9 L186.0,995.8 L186.5,995.7 L187.0,995.6 L187.5,995.5 L188.0,995.4 L188.5,995.3 L189.0,995.2 L189.5,995.1 L190.0,995.0 L190.5,994.9 L191.0,994.7 L191.5,994.6 L192.0,994.5 L192.5,994.3 L193.0,994.2 L193.5,994.1 L194.0,993.9 L194.5,993.7 L195.0,993.6 L195.5,993.4 L196.0,993.2 L196.5,993.1 L197.0,992.9 L197.5,992.7 L198.0,992.5 L198.5,992.3 L199.0,992.1 L199.5,991.9 L200.0,991.7 L200.5,991.5 L201.0,991.3 L201.5,991.1 L202.0,990.9 L202.5,990.7 L203.0,990.4 L203.5,990.2 L204.0,990.0 L204.5,989.8 L205.0,989.5 L205.5,989.3 L206.0,989.1 L206.5,988.8 L207.0,988.6 L207.5,988.3 L208.0,988.0 L208.5,987.8 L209.0,987.5 L209.5,987.2 L210.0,987.0 L210.5,986.7 L211.0,986.4 L211.5,986.1 L212.0,985.7 L212.5,985.4 L213.0,985.1 L213.5,984.8 L214.0,984.4 L214.5,984.1 L215.0,983.7 L215.5,983.3 L216.0,982.9 L216.5,982.5 L217.0,982.1 L217.5,981.7 L218.0,981.2 L218.5,980.8 L219.0,980.3 L219.5,979.8 L220.0,979.2 L220.5,978.7 L221.0,978.2 L221.5,977.6 L222.0,977.0 L222.5,976.4 L223.0,975.8 L223.5,975.2 L224.0,974.6 L224.5,973.9 L225.0,973.3 L225.5,972.6 L226.0,971.9 L226.5,971.2 L227.0,970.4 L227.5,969.6 L228.0,968.8 L228.5,968.0 L229.0,967.2 L229.5,966.3 L230.0,965.4 L230.5,964.5 L231.0,963.6 L231.5,962.7 L232.0,961.7 L232.5,960.8 L233.0,959.8 L233.5,958.8 L234.0,957.9 L234.5,956.9 L235.0,955.9 L235.5,955.0 L236.0,954.0 L236.5,953.0 L237.0,952.0 L237.5,951.0 L238.0,950.1 L238.5,949.1 L239.0,948.1 L239.5,947.0 L240.0,946.0 L240.5,945.0 L241.0,944.0 L241.5,943.0 L242.0,942.0 L242.5,941.0 L243.0,939.9 L243.5,938.9 L244.0,937.9 L244.5,937.0 L245.0,936.0 L245.5,935.0 L246.0,934.0 L246.5,933.0 L247.0,932.1 L247.5,931.1 L248.0,930.1 L248.5,929.2 L249.0,928.2 L249.5,927.3 L250.0,926.3 L250.5,925.4 L251.0,924.4 L251.5,923.5 L252.0,922.6 L252.5,921.7 L253.0,920.9 L253.5,920.0 L254.0,919.2 L254.5,918.4 L255.0,917.6 L255.5,916.8 L256.0,916.1 L256.5,915.4 L257.0,914.7 L257.5,914.0 L258.0,913.4 L258.5,912.7 L259.0,912.1 L259.5,911.5 L260.0,911.0 L260.5,910.5 L261.0,910.0 L261.5,909.6 L262.0,909.2 L262.5,908.8 L263.0,908.4 L263.5,908.1 L264.0,907.9 L264.5,907.7 L265.0,907.5 L265.5,907.5 L266.0,907.4 L266.5,907.5 L267.0,907.7 L267.5,907.9 L268.0,908.2 L268.5,908.6 L269.0,909.0 L269.5,909.5 L270.0,910.1 L270.5,910.8 L271.0,911.5 L271.5,912.4 L272.0,913.4 L272.5,914.4 L273.0,915.6 L273.5,916.9 L274.0,918.2 L274.5,919.6 L275.0,921.1 L275.5,922.6 L276.0,924.1 L276.5,925.6 L277.0,927.2 L277.5,928.8 L278.0,930.4 L278.5,932.1 L279.0,933.8 L279.5,935.5 L280.0,937.2 L280.5,938.9 L281.0,940.6 L281.5,942.3 L282.0,944.0 L282.5,945.7 L283.0,947.4 L283.5,949.1 L284.0,950.8 L284.5,952.5 L285.0,954.2 L285.5,955.9 L286.0,957.5 L286.5,959.1 L287.0,960.7 L287.5,962.3 L288.0,963.9 L288.5,965.4 L289.0,966.9 L289.5,968.3 L290.0,969.8 L290.5,971.2 L291.0,972.5 L291.5,973.9 L292.0,975.2 L292.5,976.4 L293.0,977.6 L293.5,978.7 L294.0,979.7 L294.5,980.8 L295.0,981.7 L295.5,982.7 L296.0,983.6 L296.5,984.5 L297.0,985.3 L297.5,986.1 L298.0,986.9 L298.5,987.6 L299.0,988.4 L299.5,989.0 L300.0,989.7 L300.5,990.3 L301.0,990.8 L301.5,991.4 L302.0,991.8 L302.5,992.3 L303.0,992.8 L303.5,993.2 L304.0,993.6 L304.5,994.0 L305.0,994.3 L305.5,994.7 L306.0,995.0 L306.5,995.3 L307.0,995.6 L307.5,995.9 L308.0,996.2 L308.5,996.5 L309.0,996.7 L309.5,997.0 L310.0,997.2 L310.5,997.4 L311.0,997.6 L311.5,997.8 L312.0,997.9 L312.5,998.1 L313.0,998.3 L313.5,998.4 L314.0,998.5 L314.5,998.7 L315.0,998.8 L315.5,998.9 L316.0,999.0 L316.5,999.1 L317.0,999.3 L317.5,999.4 L318.0,999.4 L318.5,999.5 L319.0,999.6 L319.5,999.7 L320.0,999.8 L320.5,999.8 L321.0,999.9 L321.5,999.9 L322.0,1000.0 L322.5,1000.0 L323.0,1000.1 L323.5,1000.1 L324.0,1000.1 L324.5,1000.2 L325.0,1000.2 L325.5,1000.2 L326.0,1000.3 L326.5,1000.3 L327.0,1000.3 L327.5,1000.3 L328.0,1000.4 L328.5,1000.4 L329.0,1000.4 L329.5,1000.4 L330.0,1000.5 L330.5,1000.5 L331.0,1000.5 L331.5,1000.5 L332.0,1000.5 L332.5,1000.5 L333.0,1000.6 L333.5,1000.6 L334.0,1000.6 L334.5,1000.6 L335.0,1000.6 L335.5,1000.6 L336.0,1000.6 L336.5,1000.6 L337.0,1000.6 L337.5,1000.6 L338.0,1000.6 L338.5,1000.6 L339.0,1000.6 L339.5,1000.6 L340.0,1000.6 L340.5,1000.6 L341.0,1000.6 L341.5,1000.6 L342.0,1000.6 L342.5,1000.6 L343.0,1000.6 L343.5,1000.6 L344.0,1000.6 L344.5,1000.6 L345.0,1000.6 L345.5,1000.6 L346.0,1000.6 L346.5,1000.6 L347.0,1000.6 L347.5,1000.6 L348.0,1000.6 L348.5,1000.6 L349.0,1000.6 L349.5,1000.6 L350.0,1000.6 L350.5,1000.6 L351.0,1000.6 L351.5,1000.6 L352.0,1000.6 L352.5,1000.6 L353.0,1000.5 L353.5,1000.5 L354.0,1000.5 L354.5,1000.5 L355.0,1000.5 L355.5,1000.4 L356.0,1000.4 L356.5,1000.4 L357.0,1000.3 L357.5,1000.3 L358.0,1000.3 L358.5,1000.2 L359.0,1000.2 L359.5,1000.2 L360.0,1000.1 L360.5,1000.1 L361.0,1000.1 L361.5,1000.0 L362.0,1000.0 L362.5,999.9 L363.0,999.9 L363.5,999.8 L364.0,999.8 L364.5,999.7 L365.0,999.7 L365.5,999.6 L366.0,999.6 L366.5,999.5 L367.0,999.5 L367.5,999.4 L368.0,999.3 L368.5,999.3 L369.0,999.2 L369.5,999.1 L370.0,999.0 L370.5,999.0 L371.0,998.9 L371.5,998.8 L372.0,998.7 L372.5,998.6 L373.0,998.5 L373.5,998.4 L374.0,998.3 L374.5,998.2 L375.0,998.1 L375.5,998.0 L376.0,997.9 L376.5,997.8 L377.0,997.7 L377.5,997.5 L378.0,997.4 L378.5,997.3 L379.0,997.2 L379.5,997.1 L380.0,997.0 L380.5,996.9 L381.0,996.8 L381.5,996.7 L382.0,996.6 L382.5,996.4 L383.0,996.3 L383.5,996.2 L384.0,996.1 L384.5,996.0 L385.0,995.8 L385.5,995.7 L386.0,995.6 L386.5,995.5 L387.0,995.3 L387.5,995.2 L388.0,995.1 L388.5,995.0 L389.0,994.8 L389.5,994.7 L390.0,994.6 L390.5,994.4 L391.0,994.3 L391.5,994.1 L392.0,994.0 L392.5,993.8 L393.0,993.7 L393.5,993.5 L394.0,993.4 L394.5,993.2 L395.0,993.1 L395.5,992.9 L396.0,992.7 L396.5,992.6 L397.0,992.4 L397.5,992.2 L398.0,992.0 L398.5,991.9 L399.0,991.7 L399.5,991.5 L400.0,991.3 L400.5,991.2 L401.0,991.0 L401.5,990.8 L402.0,990.7 L402.5,990.5 L403.0,990.3 L403.5,990.2 L404.0,990.0 L404.5,989.8 L405.0,989.7 L405.5,989.5 L406.0,989.3 L406.5,989.2 L407.0,989.0 L407.5,988.8 L408.0,988.7 L408.5,988.5 L409.0,988.3 L409.5,988.2 L410.0,988.0 L410.5,987.9 L411.0,987.7 L411.5,987.6 L412.0,987.5 L412.5,987.4 L413.0,987.2 L413.5,987.1 L414.0,987.0 L414.5,986.9 L415.0,986.8 L415.5,986.7 L416.0,986.7 L416.5,986.6 L417.0,986.5 L417.5,986.4 L418.0,986.4 L418.5,986.3 L419.0,986.2 L419.5,986.2 L420.0,986.1 L420.5,986.1 L421.0,986.1 L421.5,986.1 L422.0,986.1 L422.5,986.1 L423.0,986.1 L423.5,986.2 L424.0,986.3 L424.5,986.4 L425.0,986.5 L425.5,986.6 L426.0,986.7 L426.5,986.8 L427.0,987.0 L427.5,987.2 L428.0,987.3 L428.5,987.5 L429.0,987.7 L429.5,987.9 L430.0,988.1 L430.5,988.3 L431.0,988.5 L431.5,988.7 L432.0,989.0 L432.5,989.2 L433.0,989.5 L433.5,989.8 L434.0,990.1 L434.5,990.4 L435.0,990.7 L435.5,991.0 L436.0,991.4 L436.5,991.7 L437.0,992.0 L437.5,992.4 L438.0,992.7 L438.5,993.0 L439.0,993.4 L439.5,993.7 L440.0,994.0 L440.5,994.3 L441.0,994.7 L441.5,995.0 L442.0,995.3 L442.5,995.6 L443.0,996.0 L443.5,996.3 L444.0,996.6 L444.5,997.0 L445.0,997.3 L445.5,997.6 L446.0,997.9 L446.5,998.2 L447.0,998.5 L447.5,998.8 L448.0,999.1 L448.5,999.3 L449.0,999.5 L449.5,999.7 L450.0,999.9 L450.5,1000.1 L451.0,1000.3 L451.5,1000.5 L452.0,1000.6 L452.5,1000.8 L453.0,1001.0 L453.5,1001.1 L454.0,1001.3 L454.5,1001.4 L455.0,1001.6 L455.5,1001.7 L456.0,1001.8 L456.5,1002.0 L457.0,1002.1 L457.5,1002.2 L458.0,1002.3 L458.5,1002.4 L459.0,1002.5 L459.5,1002.6 L460.0,1002.7 L460.5,1002.7 L461.0,1002.8 L461.5,1002.8 L462.0,1002.9 L462.5,1002.9 L463.0,1002.9 L463.5,1003.0" fill="none" stroke="#ff0000" stroke-width="2.5" stroke-linejoin="round"/>
</g>
<rect x="82.0" y="303.8" width="381.6" height="349.8" fill="none" stroke="#000" stroke-width="1.6"/>
<rect x="82.0" y="653.6" width="381.6" height="349.79999999999995" fill="none" stroke="#000" stroke-width="1.6"/>
<text x="75" y="659.4" font-family="Liberation Serif" font-size="20" text-anchor="end" font-weight="normal" >0.0</text>
<text x="75" y="520.41" font-family="Liberation Serif" font-size="20" text-anchor="end" font-weight="normal" >0.3</text>
<text x="75" y="381.41999999999996" font-family="Liberation Serif" font-size="20" text-anchor="end" font-weight="normal" >0.6</text>
<text x="75" y="1009.7" font-family="Liberation Serif" font-size="20" text-anchor="end" font-weight="normal" >0.0</text>
<text x="75" y="905.0300000000001" font-family="Liberation Serif" font-size="20" text-anchor="end" font-weight="normal" >0.3</text>
<text x="75" y="800.36" font-family="Liberation Serif" font-size="20" text-anchor="end" font-weight="normal" >0.6</text>
<text x="75" y="695.69" font-family="Liberation Serif" font-size="20" text-anchor="end" font-weight="normal" >0.9</text>
<text x="82.0" y="1026.6" font-family="Liberation Serif" font-size="20" text-anchor="middle" font-weight="normal" >0.0</text>
<text x="120.9" y="1026.6" font-family="Liberation Serif" font-size="20" text-anchor="middle" font-weight="normal" >0.5</text>
<text x="159.8" y="1026.6" font-family="Liberation Serif" font-size="20" text-anchor="middle" font-weight="normal" >1.0</text>
<text x="198.7" y="1026.6" font-family="Liberation Serif" font-size="20" text-anchor="middle" font-weight="normal" >1.5</text>
<text x="237.6" y="1026.6" font-family="Liberation Serif" font-size="20" text-anchor="middle" font-weight="normal" >2.0</text>
<text x="276.5" y="1026.6" font-family="Liberation Serif" font-size="20" text-anchor="middle" font-weight="normal" >2.5</text>
<text x="315.4" y="1026.6" font-family="Liberation Serif" font-size="20" text-anchor="middle" font-weight="normal" >3.0</text>
<text x="354.3" y="1026.6" font-family="Liberation Serif" font-size="20" text-anchor="middle" font-weight="normal" >3.5</text>
<text x="393.2" y="1026.6" font-family="Liberation Serif" font-size="20" text-anchor="middle" font-weight="normal" >4.0</text>
<text x="432.09999999999997" y="1026.6" font-family="Liberation Serif" font-size="20" text-anchor="middle" font-weight="normal" >4.5</text>
<text x="272.8" y="1062.3" font-family="Liberation Serif" font-size="30.6" text-anchor="middle" font-weight="normal" >R(Å)</text>
<g transform="translate(43,517.9) rotate(-90)" font-size="30" font-family="Liberation Sans"><text x="0" y="0">|</text><text x="24.3" y="0">(R)|(</text><text x="83.8" y="0" font-family="Liberation Serif" font-size="29">Å</text><text x="104.7" y="-14" font-size="20.5">-2</text><text x="122.5" y="0">)</text></g>
<g transform="translate(38.6,893.9) rotate(-90)" font-size="30" font-family="Liberation Sans"><text x="0" y="0">|</text><text x="24.3" y="0">(R)|(</text><text x="83.8" y="0" font-family="Liberation Serif" font-size="29">Å</text><text x="104.7" y="-14" font-size="20.5">-2</text><text x="122.5" y="0">)</text></g>
<path d="M45.1,495.4 Q47.5,496.3 48.7,498.0 Q48.4,500.3 45.1,500.9 L34.5,503.2 Q30.9,504.2 30.3,506.2 Q31.0,508.5 34.5,508.6" fill="none" stroke="#000" stroke-width="1.25" stroke-linecap="round"/>
<line x1="30.6" y1="497.4" x2="48.4" y2="506.8" stroke="#000" stroke-width="2.3"/>
<path d="M40.7,871.4 Q43.1,872.3 44.3,874.0 Q44.0,876.3 40.7,876.9 L30.1,879.2 Q26.5,880.2 25.9,882.2 Q26.6,884.5 30.1,884.6" fill="none" stroke="#000" stroke-width="1.25" stroke-linecap="round"/>
<line x1="26.2" y1="873.4" x2="44.0" y2="882.8" stroke="#000" stroke-width="2.3"/>
<text x="87.5" y="334.5" font-family="Liberation Serif" font-size="30" text-anchor="start" font-weight="normal" >(a)</text>
<text x="123.6" y="332.8" font-family="Liberation Sans" font-size="21.6" text-anchor="start" font-weight="normal" >Ga K edge</text>
<text x="123.3" y="360.3" font-family="Liberation Sans" font-size="21.6" text-anchor="start" font-weight="normal" >300K</text>
<text x="275.5" y="331.5" font-family="Liberation Serif" font-size="30.7" text-anchor="start" font-weight="normal" >Mn<tspan dy="9.5" font-size="19.6">3</tspan><tspan dy="-9.5" font-size="30.7">​</tspan>Ga<tspan dy="9.5" font-size="19.6">1-x</tspan><tspan dy="-9.5" font-size="30.7">​</tspan>Sn<tspan dy="9.5" font-size="19.6">x</tspan><tspan dy="-9.5" font-size="30.7">​</tspan>C</text>
<rect x="283" y="343" width="174.5" height="50" fill="#fff"/>
<line x1="457.50" y1="374.40" x2="463.60" y2="374.40" stroke="#000" stroke-width="1.4" />
<circle cx="311" cy="353.6" r="2.35" fill="none" stroke="#1010a0" stroke-width="2.5"/>
<text x="342" y="360.4" font-family="Liberation Sans" font-size="20.6" text-anchor="start" font-weight="normal" >Data</text>
<line x1="286.60" y1="379.40" x2="335.60" y2="379.40" stroke="#ff0000" stroke-width="2.5" />
<text x="342" y="386.6" font-family="Liberation Sans" font-size="20.6" text-anchor="start" font-weight="normal" >Cubic model</text>
<text x="87" y="496.3" font-family="Liberation Serif" font-size="20" text-anchor="start" font-weight="normal" >x=0.0</text>
<text x="87" y="543.0" font-family="Liberation Serif" font-size="20" text-anchor="start" font-weight="normal" >x=0.2</text>
<text x="84.4" y="588.5" font-family="Liberation Serif" font-size="20" text-anchor="start" font-weight="normal" >x=0.41</text>
<text x="86.6" y="636" font-family="Liberation Serif" font-size="20" text-anchor="start" font-weight="normal" >x=0.71</text>
<text x="85" y="682" font-family="Liberation Serif" font-size="30" text-anchor="start" font-weight="normal" >(b)</text>
<text x="124.3" y="680.6" font-family="Liberation Sans" font-size="21.6" text-anchor="start" font-weight="normal" >Sn K edge</text>
<text x="124.1" y="707.4" font-family="Liberation Sans" font-size="21.6" text-anchor="start" font-weight="normal" >300K</text>
<circle cx="315.6" cy="675.4" r="2.35" fill="none" stroke="#1010a0" stroke-width="2.5"/>
<text x="346" y="682.4" font-family="Liberation Sans" font-size="20.6" text-anchor="start" font-weight="normal" >Data</text>
<line x1="291.60" y1="701.40" x2="340.40" y2="701.40" stroke="#ff0000" stroke-width="2.5" />
<text x="346" y="708.4" font-family="Liberation Sans" font-size="20.6" text-anchor="start" font-weight="normal" >Cubic model</text>
<text x="85" y="776" font-family="Liberation Serif" font-size="20" text-anchor="start" font-weight="normal" >x=0.2</text>
<text x="86" y="845" font-family="Liberation Serif" font-size="20" text-anchor="start" font-weight="normal" >x=0.41</text>
<text x="86.5" y="896" font-family="Liberation Serif" font-size="20" text-anchor="start" font-weight="normal" >x=0.71</text>
<text x="88" y="952" font-family="Liberation Serif" font-size="20" text-anchor="start" font-weight="normal" >x=0.8</text>
<text x="87" y="988" font-family="Liberation Serif" font-size="20" text-anchor="start" font-weight="normal" >x=1.0</text>
<path d="M835,303.8 L554.0,303.8 L554.0,621.4 L835,621.4" fill="none" stroke="#000" stroke-width="1.6"/>
<line x1="580.30" y1="303.80" x2="580.30" y2="309.60" stroke="#000" stroke-width="1.3" />
<line x1="580.30" y1="621.40" x2="580.30" y2="615.60" stroke="#000" stroke-width="1.3" />
<line x1="624.65" y1="303.80" x2="624.65" y2="306.80" stroke="#000" stroke-width="1.3" />
<line x1="624.65" y1="621.40" x2="624.65" y2="618.40" stroke="#000" stroke-width="1.3" />
<line x1="669.00" y1="303.80" x2="669.00" y2="309.60" stroke="#000" stroke-width="1.3" />
<line x1="669.00" y1="621.40" x2="669.00" y2="615.60" stroke="#000" stroke-width="1.3" />
<line x1="713.35" y1="303.80" x2="713.35" y2="306.80" stroke="#000" stroke-width="1.3" />
<line x1="713.35" y1="621.40" x2="713.35" y2="618.40" stroke="#000" stroke-width="1.3" />
<line x1="757.70" y1="303.80" x2="757.70" y2="309.60" stroke="#000" stroke-width="1.3" />
<line x1="757.70" y1="621.40" x2="757.70" y2="615.60" stroke="#000" stroke-width="1.3" />
<line x1="802.05" y1="303.80" x2="802.05" y2="306.80" stroke="#000" stroke-width="1.3" />
<line x1="802.05" y1="621.40" x2="802.05" y2="618.40" stroke="#000" stroke-width="1.3" />
<line x1="555.30" y1="303.80" x2="555.30" y2="306.80" stroke="#000" stroke-width="1.0" />
<line x1="554.00" y1="585.60" x2="559.80" y2="585.60" stroke="#000" stroke-width="1.3" />
<line x1="554.00" y1="545.60" x2="557.00" y2="545.60" stroke="#000" stroke-width="1.3" />
<line x1="554.00" y1="505.60" x2="559.80" y2="505.60" stroke="#000" stroke-width="1.3" />
<line x1="554.00" y1="465.60" x2="557.00" y2="465.60" stroke="#000" stroke-width="1.3" />
<line x1="554.00" y1="425.60" x2="559.80" y2="425.60" stroke="#000" stroke-width="1.3" />
<line x1="554.00" y1="385.60" x2="557.00" y2="385.60" stroke="#000" stroke-width="1.3" />
<line x1="554.00" y1="345.60" x2="559.80" y2="345.60" stroke="#000" stroke-width="1.3" />
<text x="546.3" y="352.1000000000002" font-family="Liberation Serif" font-size="20" text-anchor="end" font-weight="normal" >2.904</text>
<text x="546.3" y="432.10000000000025" font-family="Liberation Serif" font-size="20" text-anchor="end" font-weight="normal" >2.816</text>
<text x="546.3" y="512.0999999999999" font-family="Liberation Serif" font-size="20" text-anchor="end" font-weight="normal" >2.728</text>
<text x="546.3" y="592.1" font-family="Liberation Serif" font-size="20" text-anchor="end" font-weight="normal" >2.640</text>
<text x="580.8" y="643.6" font-family="Liberation Serif" font-size="20" text-anchor="middle" font-weight="normal" >100</text>
<text x="669.5" y="643.6" font-family="Liberation Serif" font-size="20" text-anchor="middle" font-weight="normal" >150</text>
<text x="758.1999999999999" y="643.6" font-family="Liberation Serif" font-size="20" text-anchor="middle" font-weight="normal" >200</text>
<g transform="translate(503,496) rotate(-90)"><text font-family="Liberation Serif" font-size="28.3">R(Å)</text></g>
<text x="660" y="669.4" font-family="Liberation Serif" font-size="28.3" text-anchor="start" font-weight="normal" >Temperature</text>
<text x="820.5" y="669.4" font-family="Liberation Serif" font-size="28.3" text-anchor="start" font-weight="normal" >(K)</text>
<text x="560.5" y="334" font-family="Liberation Serif" font-size="30" text-anchor="start" font-weight="normal" >(c)</text>
<text x="608.8" y="330.3" font-family="Liberation Serif" font-size="21.4" text-anchor="start" font-weight="normal" >Data at Ga K edge</text>
<polyline points="580.3,470.4 720,475.5 757.7,477.3 830,484.4 935,495" fill="none" stroke="#0a0aa8" stroke-width="4.6000000000000005" stroke-linejoin="round"/>
<polygon points="580.30,461.70 582.56,468.19 589.43,468.33 583.95,472.49 585.94,479.07 580.30,475.14 574.66,479.07 576.65,472.49 571.17,468.33 578.04,468.19" fill="#0a0aa8"/>
<polygon points="757.80,466.40 760.06,472.89 766.93,473.03 761.45,477.19 763.44,483.77 757.80,479.84 752.16,483.77 754.15,477.19 748.67,473.03 755.54,472.89" fill="#0a0aa8"/>
<polyline points="580.3,477 757.7,480.8 935,478.5" fill="none" stroke="#ff7f0e" stroke-width="4.6000000000000005" stroke-linejoin="round"/>
<rect x="574" y="468.5" width="13.2" height="14" fill="#ff7f0e"/>
<line x1="574.50" y1="474.40" x2="585.50" y2="474.40" stroke="#30206a" stroke-width="0.8" />
<rect x="751.4" y="477" width="13.3" height="13" fill="#ff7f0e"/>
<line x1="753.50" y1="479.40" x2="762.00" y2="479.40" stroke="#30206a" stroke-width="0.8" />
<line x1="562.50" y1="570.40" x2="604.50" y2="570.40" stroke="#0a0aa8" stroke-width="4.4" stroke-linecap="round"/>
<polygon points="583.00,561.30 585.19,567.59 591.84,567.73 586.54,571.75 588.47,578.12 583.00,574.32 577.53,578.12 579.46,571.75 574.16,567.73 580.81,567.59" fill="#0a0aa8"/>
<line x1="562.50" y1="597.60" x2="604.50" y2="597.60" stroke="#ff7f0e" stroke-width="4.4" stroke-linecap="round"/>
<rect x="576.8" y="591" width="13.2" height="13.4" fill="#ff7f0e"/>
<text x="609.4" y="576" font-family="Liberation Serif" font-size="18.3" text-anchor="start" font-weight="normal" >Mn<tspan dy="5.9" font-size="12.8">3</tspan><tspan dy="-5.9" font-size="18.3">​</tspan>Ga<tspan dy="5.9" font-size="12.8">0.59</tspan><tspan dy="-5.9" font-size="18.3">​</tspan>Sn<tspan dy="5.9" font-size="12.8">0.41</tspan><tspan dy="-5.9" font-size="18.3">​</tspan>C</text>
<text x="609.4" y="603.3" font-family="Liberation Serif" font-size="18.3" text-anchor="start" font-weight="normal" >Mn<tspan dy="5.9" font-size="12.8">3</tspan><tspan dy="-5.9" font-size="18.3">​</tspan>Ga<tspan dy="5.9" font-size="12.8">0.29</tspan><tspan dy="-5.9" font-size="18.3">​</tspan>Sn<tspan dy="5.9" font-size="12.8">0.71</tspan><tspan dy="-5.9" font-size="18.3">​</tspan>C</text>
<rect x="787.8" y="316.4" width="60" height="123.0" fill="#fff" stroke="#000" stroke-width="1.1"/>
<line x1="787.80" y1="439.40" x2="790.80" y2="439.40" stroke="#000" stroke-width="1.0" />
<text x="784.6" y="443.79999999999995" font-family="Liberation Serif" font-size="13.2" text-anchor="end" font-weight="bold" >0.003</text>
<line x1="787.80" y1="405.83" x2="790.80" y2="405.83" stroke="#000" stroke-width="1.0" />
<text x="784.6" y="410.22999999999996" font-family="Liberation Serif" font-size="13.2" text-anchor="end" font-weight="bold" >0.006</text>
<line x1="787.80" y1="372.26" x2="790.80" y2="372.26" stroke="#000" stroke-width="1.0" />
<text x="784.6" y="376.65999999999997" font-family="Liberation Serif" font-size="13.2" text-anchor="end" font-weight="bold" >0.009</text>
<line x1="787.80" y1="338.69" x2="790.80" y2="338.69" stroke="#000" stroke-width="1.0" />
<text x="784.6" y="343.0899999999999" font-family="Liberation Serif" font-size="13.2" text-anchor="end" font-weight="bold" >0.012</text>
<line x1="797.00" y1="439.40" x2="797.00" y2="436.40" stroke="#000" stroke-width="1.0" />
<line x1="797.00" y1="316.40" x2="797.00" y2="318.90" stroke="#000" stroke-width="0.8" />
<text x="797.3" y="452.8" font-family="Liberation Serif" font-size="13.2" text-anchor="middle" font-weight="bold" >100</text>
<text x="821.5" y="452.8" font-family="Liberation Serif" font-size="13.2" text-anchor="start" font-weight="bold" >15</text>
<text x="801.5" y="465.8" font-family="Liberation Serif" font-size="14" text-anchor="start" font-weight="normal" >Temp</text>
<g transform="translate(750.2,368) rotate(-90)"><text text-anchor="middle" font-family="Liberation Serif" font-size="15.5">σ<tspan dy="-6" font-size="10.5">2</tspan><tspan dy="6"> ( Å</tspan><tspan dy="-6" font-size="10.5"> 2</tspan><tspan dy="6"> )</tspan></text></g>
<line x1="797.00" y1="388.00" x2="797.00" y2="401.00" stroke="#8a8ae0" stroke-width="0.9" />
<line x1="797.00" y1="405.00" x2="797.00" y2="425.00" stroke="#ffc89a" stroke-width="0.9" />
<line x1="797.00" y1="394.60" x2="835.00" y2="375.70" stroke="#0a0aa8" stroke-width="2.4" />
<line x1="797.00" y1="415.60" x2="835.00" y2="394.30" stroke="#ff7f0e" stroke-width="2.4" />
<rect x="795.1" y="413.7" width="3.8" height="3.8" fill="#ff7f0e"/>
<polygon points="797.00,391.80 797.66,393.69 799.66,393.73 798.07,394.95 798.65,396.87 797.00,395.72 795.35,396.87 795.93,394.95 794.34,393.73 796.34,393.69" fill="#0a0aa8"/>
<path d="M835,681.4 L554.0,681.4 L554.0,998.8 L835,998.8" fill="none" stroke="#000" stroke-width="1.6"/>
<line x1="571.70" y1="681.40" x2="571.70" y2="687.20" stroke="#000" stroke-width="1.3" />
<line x1="571.70" y1="998.80" x2="571.70" y2="993.00" stroke="#000" stroke-width="1.3" />
<line x1="607.20" y1="681.40" x2="607.20" y2="684.40" stroke="#000" stroke-width="1.3" />
<line x1="607.20" y1="998.80" x2="607.20" y2="995.80" stroke="#000" stroke-width="1.3" />
<line x1="642.70" y1="681.40" x2="642.70" y2="687.20" stroke="#000" stroke-width="1.3" />
<line x1="642.70" y1="998.80" x2="642.70" y2="993.00" stroke="#000" stroke-width="1.3" />
<line x1="678.20" y1="681.40" x2="678.20" y2="684.40" stroke="#000" stroke-width="1.3" />
<line x1="678.20" y1="998.80" x2="678.20" y2="995.80" stroke="#000" stroke-width="1.3" />
<line x1="713.70" y1="681.40" x2="713.70" y2="687.20" stroke="#000" stroke-width="1.3" />
<line x1="713.70" y1="998.80" x2="713.70" y2="993.00" stroke="#000" stroke-width="1.3" />
<line x1="749.20" y1="681.40" x2="749.20" y2="684.40" stroke="#000" stroke-width="1.3" />
<line x1="749.20" y1="998.80" x2="749.20" y2="995.80" stroke="#000" stroke-width="1.3" />
<line x1="784.70" y1="681.40" x2="784.70" y2="687.20" stroke="#000" stroke-width="1.3" />
<line x1="784.70" y1="998.80" x2="784.70" y2="993.00" stroke="#000" stroke-width="1.3" />
<line x1="820.20" y1="681.40" x2="820.20" y2="684.40" stroke="#000" stroke-width="1.3" />
<line x1="820.20" y1="998.80" x2="820.20" y2="995.80" stroke="#000" stroke-width="1.3" />
<line x1="554.00" y1="971.00" x2="559.80" y2="971.00" stroke="#000" stroke-width="1.3" />
<line x1="554.00" y1="932.00" x2="557.00" y2="932.00" stroke="#000" stroke-width="1.3" />
<line x1="554.00" y1="893.00" x2="559.80" y2="893.00" stroke="#000" stroke-width="1.3" />
<line x1="554.00" y1="854.00" x2="557.00" y2="854.00" stroke="#000" stroke-width="1.3" />
<line x1="554.00" y1="815.00" x2="559.80" y2="815.00" stroke="#000" stroke-width="1.3" />
<line x1="554.00" y1="776.00" x2="557.00" y2="776.00" stroke="#000" stroke-width="1.3" />
<line x1="554.00" y1="737.00" x2="559.80" y2="737.00" stroke="#000" stroke-width="1.3" />
<line x1="554.00" y1="698.00" x2="557.00" y2="698.00" stroke="#000" stroke-width="1.3" />
<text x="546.3" y="743.2" font-family="Liberation Serif" font-size="20" text-anchor="end" font-weight="normal" >2.97</text>
<text x="546.3" y="821.2000000000003" font-family="Liberation Serif" font-size="20" text-anchor="end" font-weight="normal" >2.86</text>
<text x="546.3" y="899.2000000000002" font-family="Liberation Serif" font-size="20" text-anchor="end" font-weight="normal" >2.75</text>
<text x="546.3" y="977.2" font-family="Liberation Serif" font-size="20" text-anchor="end" font-weight="normal" >2.64</text>
<text x="571.7" y="1021.2" font-family="Liberation Serif" font-size="20" text-anchor="middle" font-weight="normal" >0.0</text>
<text x="642.7" y="1021.2" font-family="Liberation Serif" font-size="20" text-anchor="middle" font-weight="normal" >0.2</text>
<text x="713.7" y="1021.2" font-family="Liberation Serif" font-size="20" text-anchor="middle" font-weight="normal" >0.4</text>
<text x="784.7" y="1021.2" font-family="Liberation Serif" font-size="20" text-anchor="middle" font-weight="normal" >0.6</text>
<g transform="translate(507,861) rotate(-90)"><text font-family="Liberation Serif" font-size="28.3">R(Å)</text></g>
<text x="658" y="1054.6" font-family="Liberation Serif" font-size="28.3" text-anchor="start" font-weight="normal" >Sn concentration</text>
<text x="561" y="707" font-family="Liberation Serif" font-size="31" text-anchor="start" font-weight="normal" >(d)</text>
<text x="600" y="707" font-family="Liberation Serif" font-size="26" text-anchor="start" font-weight="normal" >Data at RT</text>
<line x1="571.00" y1="729.00" x2="620.60" y2="729.00" stroke="#ff0a80" stroke-width="4.4" stroke-linecap="round"/>
<circle cx="596" cy="729" r="6.5" fill="#ff0a80"/>
<line x1="571.00" y1="756.00" x2="620.60" y2="756.00" stroke="#800080" stroke-width="4.4" stroke-linecap="round"/>
<polygon points="596.0,748.4 588.8,761.1 603.2,761.1" fill="#800080"/>
<text x="626.6" y="735.4" font-family="Liberation Serif" font-size="21.8" text-anchor="start" font-weight="normal" >Sn-Mn</text>
<text x="626.6" y="763" font-family="Liberation Serif" font-size="21.8" text-anchor="start" font-weight="normal" >Ga-Mn</text>
<polyline points="642.7,854.0 644.7,854.1 646.7,854.3 648.7,854.4 650.7,854.5 652.7,854.6 654.7,854.7 656.7,854.9 658.7,855.0 660.7,855.1 662.7,855.2 664.7,855.3 666.7,855.4 668.7,855.5 670.7,855.6 672.7,855.7 674.7,855.8 676.7,855.9 678.7,856.0 680.7,856.1 682.7,856.2 684.7,856.3 686.7,856.4 688.7,856.4 690.7,856.5 692.7,856.6 694.7,856.6 696.7,856.7 698.7,856.8 700.7,856.8 702.7,856.8 704.7,856.9 706.7,856.9 708.7,856.9 710.7,857.0 712.7,857.0 714.7,857.0 716.7,857.0 718.7,857.0 720.7,857.0 722.7,857.0 724.7,857.0 726.7,857.0 728.7,857.0 730.7,857.0 732.7,856.9 734.7,856.9 736.7,856.9 738.7,856.9 740.7,856.9 742.7,856.9 744.7,856.8 746.7,856.8 748.7,856.8 750.7,856.8 752.7,856.7 754.7,856.7 756.7,856.7 758.7,856.6 760.7,856.6 762.7,856.6 764.7,856.5 766.7,856.5 768.7,856.5 770.7,856.4 772.7,856.4 774.7,856.4 776.7,856.3 778.7,856.3 780.7,856.2 782.7,856.2 784.7,856.1 786.7,856.1 788.7,856.1 790.7,856.0 792.7,856.0 794.7,855.9 796.7,855.9 798.7,855.8 800.7,855.8 802.7,855.7 804.7,855.7 806.7,855.6 808.7,855.6 810.7,855.5 812.7,855.5 814.7,855.4 816.7,855.4 818.7,855.3 820.7,855.3 822.7,855.2 824.7,855.2 826.7,855.1 828.7,855.1 830.7,855.0 832.7,854.9 834.7,854.9" fill="none" stroke="#ff0a80" stroke-width="4.4" stroke-linecap="round"/>
<circle cx="642.7" cy="854.0" r="6.5" fill="#ff0a80"/>
<circle cx="717.2" cy="857.0" r="6.5" fill="#ff0a80"/>
<circle cx="823.8" cy="855.2" r="6.5" fill="#ff0a80"/>
<line x1="571.70" y1="889.00" x2="571.70" y2="913.00" stroke="#a040a0" stroke-width="0.9" />
<line x1="568.70" y1="889.00" x2="574.70" y2="889.00" stroke="#a040a0" stroke-width="0.9" />
<line x1="568.70" y1="913.00" x2="574.70" y2="913.00" stroke="#a040a0" stroke-width="0.9" />
<polyline points="571.7,900.0 573.7,899.8 575.7,899.5 577.7,899.3 579.7,899.1 581.7,898.8 583.7,898.6 585.7,898.4 587.7,898.1 589.7,897.9 591.7,897.7 593.7,897.5 595.7,897.3 597.7,897.1 599.7,896.9 601.7,896.7 603.7,896.5 605.7,896.3 607.7,896.1 609.7,895.9 611.7,895.7 613.7,895.5 615.7,895.4 617.7,895.2 619.7,895.0 621.7,894.9 623.7,894.7 625.7,894.6 627.7,894.4 629.7,894.3 631.7,894.1 633.7,894.0 635.7,893.9 637.7,893.8 639.7,893.7 641.7,893.6 643.7,893.5 645.7,893.4 647.7,893.3 649.7,893.2 651.7,893.1 653.7,893.0 655.7,892.9 657.7,892.8 659.7,892.7 661.7,892.6 663.7,892.6 665.7,892.5 667.7,892.4 669.7,892.3 671.7,892.2 673.7,892.2 675.7,892.1 677.7,892.0 679.7,892.0 681.7,891.9 683.7,891.8 685.7,891.8 687.7,891.7 689.7,891.6 691.7,891.6 693.7,891.5 695.7,891.5 697.7,891.4 699.7,891.4 701.7,891.3 703.7,891.3 705.7,891.2 707.7,891.2 709.7,891.1 711.7,891.1 713.7,891.1 715.7,891.0 717.7,891.0 719.7,891.0 721.7,890.9 723.7,890.9 725.7,890.9 727.7,890.8 729.7,890.8 731.7,890.8 733.7,890.8 735.7,890.7 737.7,890.7 739.7,890.7 741.7,890.7 743.7,890.6 745.7,890.6 747.7,890.6 749.7,890.6 751.7,890.6 753.7,890.5 755.7,890.5 757.7,890.5 759.7,890.5 761.7,890.5 763.7,890.4 765.7,890.4 767.7,890.4 769.7,890.4 771.7,890.4 773.7,890.4 775.7,890.3 777.7,890.3 779.7,890.3 781.7,890.3 783.7,890.3 785.7,890.3 787.7,890.2 789.7,890.2 791.7,890.2 793.7,890.2 795.7,890.2 797.7,890.2 799.7,890.1 801.7,890.1 803.7,890.1 805.7,890.1 807.7,890.1 809.7,890.0 811.7,890.0 813.7,890.0 815.7,890.0 817.7,890.0 819.7,889.9 821.7,889.9 823.7,889.9 825.7,889.9 827.7,889.9 829.7,889.8 831.7,889.8 833.7,889.8 835.7,889.8" fill="none" stroke="#800080" stroke-width="4.4" stroke-linecap="round"/>
<polygon points="571.7,891.7 564.1,905.1 579.3,905.1" fill="#800080"/>
<polygon points="642.7,885.2 635.1,898.6 650.3,898.6" fill="#800080"/>
<polygon points="717.2,882.7 709.6,896.1 724.9,896.1" fill="#800080"/>
<polygon points="823.8,881.6 816.1,895.0 831.4,895.0" fill="#800080"/>
<rect x="780.5" y="686.5" width="60" height="146.10000000000002" fill="#fff" stroke="#000" stroke-width="1.1"/>
<line x1="780.50" y1="709.80" x2="783.50" y2="709.80" stroke="#000" stroke-width="1.0" />
<text x="777" y="714.5999999999999" font-family="Liberation Serif" font-size="14.5" text-anchor="end" font-weight="bold" >3.98</text>
<line x1="780.50" y1="759.10" x2="783.50" y2="759.10" stroke="#000" stroke-width="1.0" />
<text x="777" y="763.9" font-family="Liberation Serif" font-size="14.5" text-anchor="end" font-weight="bold" >3.96</text>
<line x1="780.50" y1="808.40" x2="783.50" y2="808.40" stroke="#000" stroke-width="1.0" />
<text x="777" y="813.1999999999999" font-family="Liberation Serif" font-size="14.5" text-anchor="end" font-weight="bold" >3.90</text>
<line x1="780.50" y1="734.50" x2="782.50" y2="734.50" stroke="#000" stroke-width="0.9" />
<line x1="780.50" y1="783.70" x2="782.50" y2="783.70" stroke="#000" stroke-width="0.9" />
<line x1="778.00" y1="761.50" x2="783.00" y2="758.00" stroke="#000" stroke-width="0.9" />
<line x1="778.00" y1="759.50" x2="783.00" y2="756.00" stroke="#000" stroke-width="0.9" />
<line x1="793.50" y1="832.60" x2="793.50" y2="829.60" stroke="#000" stroke-width="1.0" />
<line x1="793.50" y1="686.50" x2="793.50" y2="689.00" stroke="#000" stroke-width="0.9" />
<line x1="806.50" y1="832.60" x2="806.50" y2="830.60" stroke="#000" stroke-width="1.0" />
<line x1="806.50" y1="686.50" x2="806.50" y2="688.00" stroke="#000" stroke-width="0.9" />
<line x1="819.60" y1="832.60" x2="819.60" y2="829.60" stroke="#000" stroke-width="1.0" />
<line x1="819.60" y1="686.50" x2="819.60" y2="689.00" stroke="#000" stroke-width="0.9" />
<text x="793.7" y="846.8" font-family="Liberation Serif" font-size="14.5" text-anchor="middle" font-weight="bold" >0.0</text>
<text x="819.8" y="846.8" font-family="Liberation Serif" font-size="14.5" text-anchor="middle" font-weight="bold" >0.2</text>
<text x="799" y="869.5" font-family="Liberation Serif" font-size="17.5" text-anchor="start" font-weight="normal" >Sn concentration</text>
<g transform="translate(734,746.5) rotate(-90)"><text text-anchor="middle" font-family="Liberation Serif" font-size="19.4">R (Å)</text></g>
<line x1="788.50" y1="703.80" x2="823.90" y2="703.80" stroke="#ff00ff" stroke-width="2.2" />
<circle cx="806" cy="703.8" r="2.7" fill="#ff00ff"/>
<line x1="788.50" y1="722.40" x2="823.90" y2="722.40" stroke="#7f00ff" stroke-width="2.2" />
<polygon points="806.0,719.1 803.0,724.4 809.0,724.4" fill="#7f00ff"/>
<text x="826.8" y="708.6" font-family="Liberation Serif" font-size="14.5" text-anchor="start" font-weight="bold" >Sn</text>
<text x="826.8" y="727.2" font-family="Liberation Serif" font-size="14.5" text-anchor="start" font-weight="bold" >Ga</text>
<polyline points="819.6,742.7 826,747 835,750.5" fill="none" stroke="#ff00ff" stroke-width="2.5"/>
<circle cx="819.6" cy="742.7" r="2.7" fill="#ff00ff"/>
<polyline points="793.1,825.7 819.6,811.2 835,801.5" fill="none" stroke="#7f00ff" stroke-width="2.5"/>
<polygon points="793.1,822.4 790.1,827.7 796.1,827.7" fill="#7f00ff"/>
<polygon points="819.6,807.9 816.6,813.2 822.6,813.2" fill="#7f00ff"/>
</svg>
</body></html>
